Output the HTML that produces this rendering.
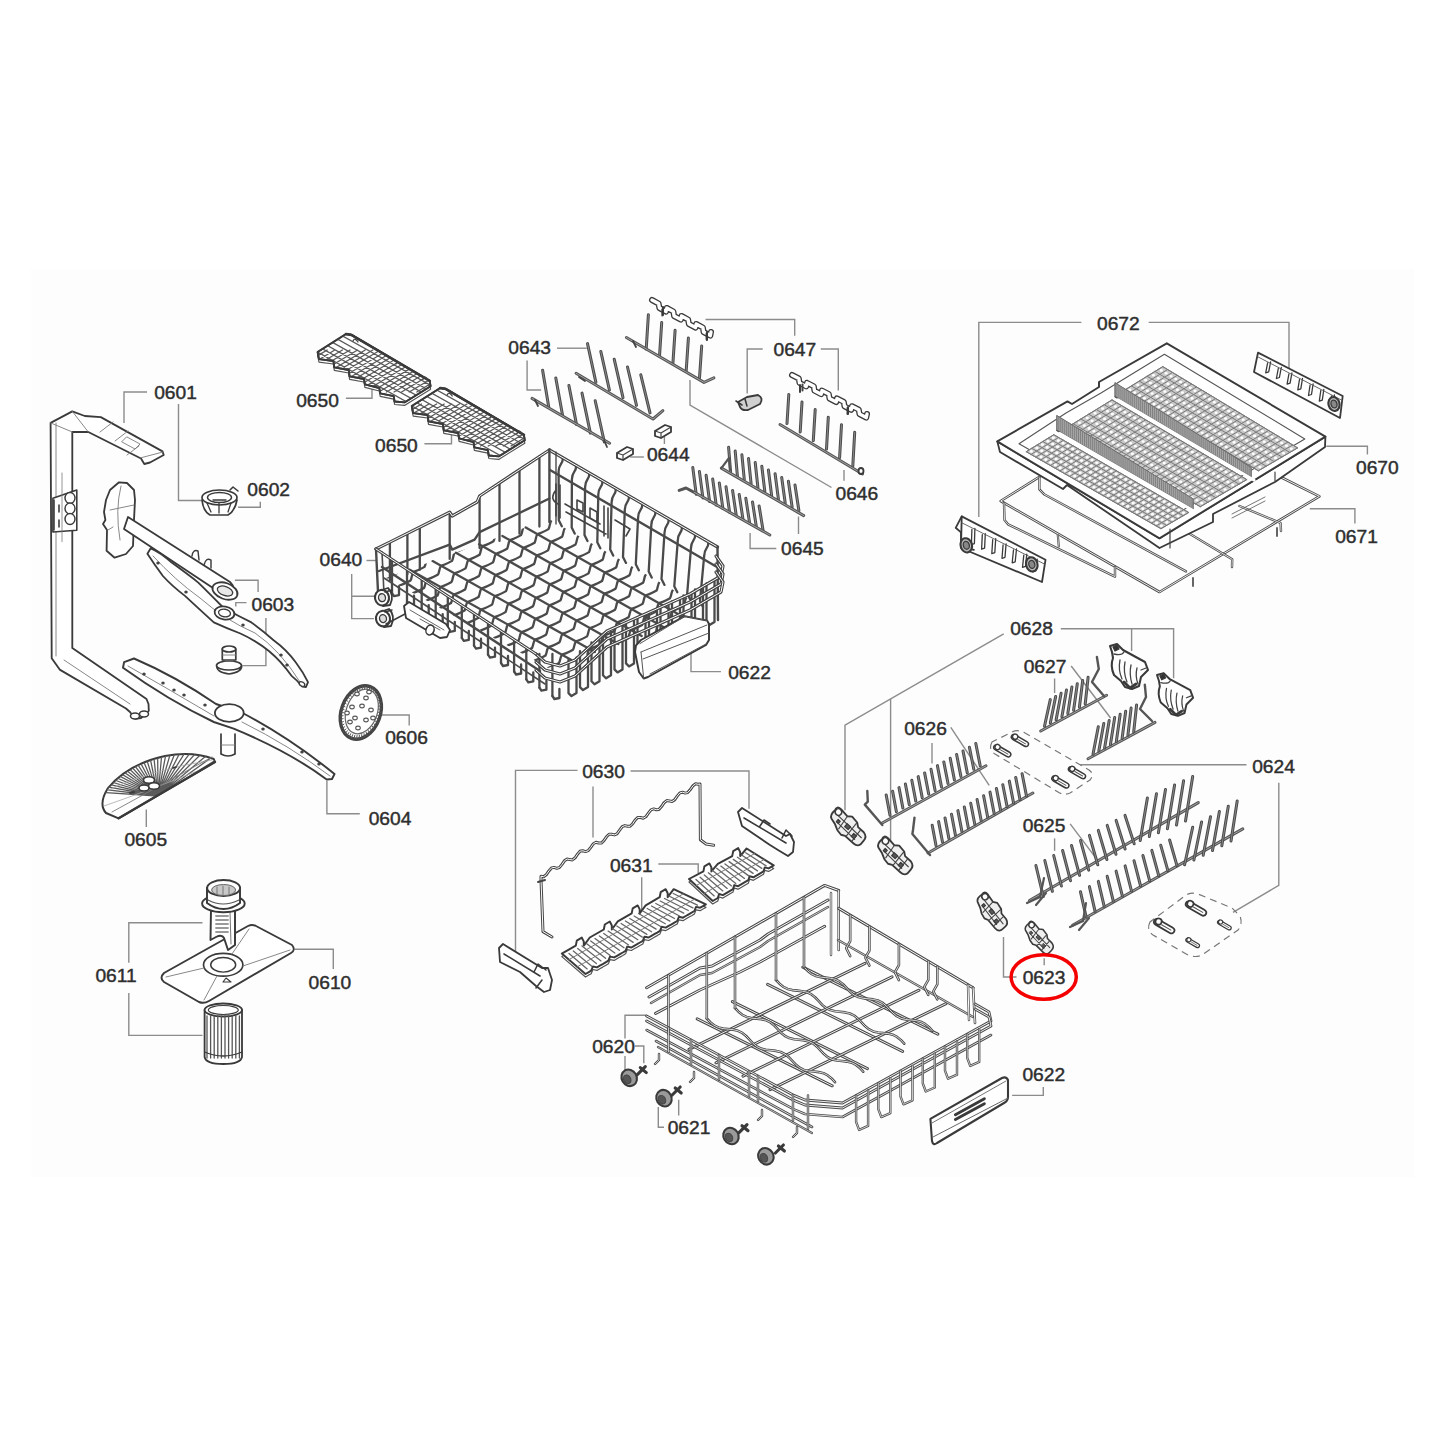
<!DOCTYPE html>
<html><head><meta charset="utf-8"><style>
html,body{margin:0;padding:0;background:#fff;width:1445px;height:1445px;overflow:hidden}
svg{display:block}
.l{font-family:"Liberation Sans",sans-serif;font-size:19.2px;fill:#2e2e2e;stroke:#2e2e2e;stroke-width:0.45px}
</style></head><body>
<svg width="1445" height="1445" viewBox="0 0 1445 1445">
<rect x="31" y="269" width="1383" height="908" fill="#fdfdfd"/>
<polyline points="147,392 124,392 124,423" fill="none" stroke="#8c8c8c" stroke-width="1.4" stroke-linejoin="miter" stroke-linecap="butt"/>
<polyline points="178.5,404 178.5,500.5 203,500.5" fill="none" stroke="#8c8c8c" stroke-width="1.4" stroke-linejoin="miter" stroke-linecap="butt"/>
<polyline points="238.1,507.3 260.3,507.3 260.3,501.8" fill="none" stroke="#8c8c8c" stroke-width="1.4" stroke-linejoin="miter" stroke-linecap="butt"/>
<polyline points="234.9,580.3 258.1,580.3 258.1,592" fill="none" stroke="#8c8c8c" stroke-width="1.4" stroke-linejoin="miter" stroke-linecap="butt"/>
<polyline points="246.5,602.6 235.8,602.6 235.8,606.5" fill="none" stroke="#8c8c8c" stroke-width="1.4" stroke-linejoin="miter" stroke-linecap="butt"/>
<polyline points="265.9,618 265.9,665.6 242.6,665.6" fill="none" stroke="#8c8c8c" stroke-width="1.4" stroke-linejoin="miter" stroke-linecap="butt"/>
<polyline points="326.9,780.8 326.9,813.8 359.8,813.8" fill="none" stroke="#8c8c8c" stroke-width="1.4" stroke-linejoin="miter" stroke-linecap="butt"/>
<polyline points="146.3,809.4 146.3,827.1" fill="none" stroke="#8c8c8c" stroke-width="1.4" stroke-linejoin="miter" stroke-linecap="butt"/>
<polyline points="380.1,715 409.2,715 409.2,725.6" fill="none" stroke="#8c8c8c" stroke-width="1.4" stroke-linejoin="miter" stroke-linecap="butt"/>
<polyline points="202.5,922.7 128.8,922.7 128.8,962.8" fill="none" stroke="#8c8c8c" stroke-width="1.4" stroke-linejoin="miter" stroke-linecap="butt"/>
<polyline points="128.8,992.9 128.8,1035.4 202.5,1035.4" fill="none" stroke="#8c8c8c" stroke-width="1.4" stroke-linejoin="miter" stroke-linecap="butt"/>
<polyline points="294.9,949.3 333.3,949.3 333.3,969" fill="none" stroke="#8c8c8c" stroke-width="1.4" stroke-linejoin="miter" stroke-linecap="butt"/>
<polyline points="345.9,398.2 372,398.2 372,388.5" fill="none" stroke="#8c8c8c" stroke-width="1.4" stroke-linejoin="miter" stroke-linecap="butt"/>
<polyline points="424.4,443.7 451.5,443.7 451.5,433" fill="none" stroke="#8c8c8c" stroke-width="1.4" stroke-linejoin="miter" stroke-linecap="butt"/>
<polyline points="557,348.2 586.8,348.2" fill="none" stroke="#8c8c8c" stroke-width="1.4" stroke-linejoin="miter" stroke-linecap="butt"/>
<polyline points="527.1,360.4 527.1,390 541.1,390" fill="none" stroke="#8c8c8c" stroke-width="1.4" stroke-linejoin="miter" stroke-linecap="butt"/>
<polyline points="630.2,457 643.9,457" fill="none" stroke="#8c8c8c" stroke-width="1.4" stroke-linejoin="miter" stroke-linecap="butt"/>
<polyline points="664.4,435 664.4,444" fill="none" stroke="#8c8c8c" stroke-width="1.4" stroke-linejoin="miter" stroke-linecap="butt"/>
<polyline points="705.5,319.5 794.7,319.5 794.7,335.8" fill="none" stroke="#8c8c8c" stroke-width="1.4" stroke-linejoin="miter" stroke-linecap="butt"/>
<polyline points="762.7,349 747.2,349 747.2,393.5" fill="none" stroke="#8c8c8c" stroke-width="1.4" stroke-linejoin="miter" stroke-linecap="butt"/>
<polyline points="820.8,349 838.3,349 838.3,390.6" fill="none" stroke="#8c8c8c" stroke-width="1.4" stroke-linejoin="miter" stroke-linecap="butt"/>
<polyline points="690,380 690,405 831.5,487.5" fill="none" stroke="#8c8c8c" stroke-width="1.4" stroke-linejoin="miter" stroke-linecap="butt"/>
<polyline points="844,470 844,480.7" fill="none" stroke="#8c8c8c" stroke-width="1.4" stroke-linejoin="miter" stroke-linecap="butt"/>
<polyline points="776.3,548.5 750.1,548.5 750.1,533" fill="none" stroke="#8c8c8c" stroke-width="1.4" stroke-linejoin="miter" stroke-linecap="butt"/>
<polyline points="798.5,516.5 798.5,534" fill="none" stroke="#8c8c8c" stroke-width="1.4" stroke-linejoin="miter" stroke-linecap="butt"/>
<polyline points="366.5,560.5 377,560.5" fill="none" stroke="#8c8c8c" stroke-width="1.4" stroke-linejoin="miter" stroke-linecap="butt"/>
<polyline points="374,596.3 351.7,596.3 351.7,574" fill="none" stroke="#8c8c8c" stroke-width="1.4" stroke-linejoin="miter" stroke-linecap="butt"/>
<polyline points="351.7,596.3 351.7,618.6 374,618.6" fill="none" stroke="#8c8c8c" stroke-width="1.4" stroke-linejoin="miter" stroke-linecap="butt"/>
<polyline points="720.9,671.6 691,671.6 691,653.6" fill="none" stroke="#8c8c8c" stroke-width="1.4" stroke-linejoin="miter" stroke-linecap="butt"/>
<polyline points="1081.4,322.4 978.8,322.4 978.8,517" fill="none" stroke="#8c8c8c" stroke-width="1.4" stroke-linejoin="miter" stroke-linecap="butt"/>
<polyline points="1148.7,322.4 1289,322.4 1289,369" fill="none" stroke="#8c8c8c" stroke-width="1.4" stroke-linejoin="miter" stroke-linecap="butt"/>
<polyline points="1326.3,446.3 1367.4,446.3 1367.4,454.5" fill="none" stroke="#8c8c8c" stroke-width="1.4" stroke-linejoin="miter" stroke-linecap="butt"/>
<polyline points="1309.8,508.7 1354.9,508.7 1354.9,523.5" fill="none" stroke="#8c8c8c" stroke-width="1.4" stroke-linejoin="miter" stroke-linecap="butt"/>
<polyline points="1003.7,633.9 845,725.2 845,810.3" fill="none" stroke="#8c8c8c" stroke-width="1.4" stroke-linejoin="miter" stroke-linecap="butt"/>
<polyline points="890.6,699 890.6,842.5" fill="none" stroke="#8c8c8c" stroke-width="1.4" stroke-linejoin="miter" stroke-linecap="butt"/>
<polyline points="1060.8,628.7 1173.6,628.7 1173.6,678.2" fill="none" stroke="#8c8c8c" stroke-width="1.4" stroke-linejoin="miter" stroke-linecap="butt"/>
<polyline points="1131.6,628.7 1131.6,651" fill="none" stroke="#8c8c8c" stroke-width="1.4" stroke-linejoin="miter" stroke-linecap="butt"/>
<polyline points="1054.6,678.5 1054.6,693" fill="none" stroke="#8c8c8c" stroke-width="1.4" stroke-linejoin="miter" stroke-linecap="butt"/>
<polyline points="1071.2,666 1110.6,718" fill="none" stroke="#8c8c8c" stroke-width="1.4" stroke-linejoin="miter" stroke-linecap="butt"/>
<polyline points="932,742.9 932,763.6" fill="none" stroke="#8c8c8c" stroke-width="1.4" stroke-linejoin="miter" stroke-linecap="butt"/>
<polyline points="950.8,727.3 989.2,785.4" fill="none" stroke="#8c8c8c" stroke-width="1.4" stroke-linejoin="miter" stroke-linecap="butt"/>
<polyline points="1246.5,764.7 1080.2,764.7" fill="none" stroke="#8c8c8c" stroke-width="1.4" stroke-linejoin="miter" stroke-linecap="butt"/>
<polyline points="1278.8,782.8 1278.8,885.3 1233,912.4" fill="none" stroke="#8c8c8c" stroke-width="1.4" stroke-linejoin="miter" stroke-linecap="butt"/>
<polyline points="1054.6,838.4 1054.6,850.8" fill="none" stroke="#8c8c8c" stroke-width="1.4" stroke-linejoin="miter" stroke-linecap="butt"/>
<polyline points="1070.2,823.8 1098.2,861.2" fill="none" stroke="#8c8c8c" stroke-width="1.4" stroke-linejoin="miter" stroke-linecap="butt"/>
<polyline points="577.5,770.4 515.5,770.4 515.5,951.5" fill="none" stroke="#8c8c8c" stroke-width="1.4" stroke-linejoin="miter" stroke-linecap="butt"/>
<polyline points="630.6,771 749,771 749,808.7" fill="none" stroke="#8c8c8c" stroke-width="1.4" stroke-linejoin="miter" stroke-linecap="butt"/>
<polyline points="593,786.5 593,837.5" fill="none" stroke="#8c8c8c" stroke-width="1.4" stroke-linejoin="miter" stroke-linecap="butt"/>
<polyline points="658.3,864 698.2,864 698.2,873" fill="none" stroke="#8c8c8c" stroke-width="1.4" stroke-linejoin="miter" stroke-linecap="butt"/>
<polyline points="641.7,877.3 641.7,911.6" fill="none" stroke="#8c8c8c" stroke-width="1.4" stroke-linejoin="miter" stroke-linecap="butt"/>
<polyline points="1003.5,937 1003.5,977 1016.5,977" fill="none" stroke="#8c8c8c" stroke-width="1.4" stroke-linejoin="miter" stroke-linecap="butt"/>
<polyline points="1044.2,958.2 1044.2,965.3" fill="none" stroke="#8c8c8c" stroke-width="1.4" stroke-linejoin="miter" stroke-linecap="butt"/>
<polyline points="646.7,1015.3 625,1015.3 625,1038.6" fill="none" stroke="#8c8c8c" stroke-width="1.4" stroke-linejoin="miter" stroke-linecap="butt"/>
<polyline points="635,1046 643.8,1046 643.8,1063.3" fill="none" stroke="#8c8c8c" stroke-width="1.4" stroke-linejoin="miter" stroke-linecap="butt"/>
<polyline points="625,1056 625,1070.6" fill="none" stroke="#8c8c8c" stroke-width="1.4" stroke-linejoin="miter" stroke-linecap="butt"/>
<polyline points="664,1127.3 658.3,1127.3 658.3,1107" fill="none" stroke="#8c8c8c" stroke-width="1.4" stroke-linejoin="miter" stroke-linecap="butt"/>
<polyline points="678.7,1099.7 678.7,1115.6" fill="none" stroke="#8c8c8c" stroke-width="1.4" stroke-linejoin="miter" stroke-linecap="butt"/>
<polyline points="1012.1,1095.4 1043.3,1095.4 1043.3,1087" fill="none" stroke="#8c8c8c" stroke-width="1.4" stroke-linejoin="miter" stroke-linecap="butt"/>
<path d="M50.6,422.9 L72.3,411.4 L84.8,416 L100.8,417.1 L162.5,451.4 L163.7,455 L150,462.5 L144.3,464 L141,458.5 L88.3,432 L72.3,432 L72.3,648 L146.5,699 L148.5,704 L148.8,710.8 L141,718 L135.1,718.8 L130,712 L126,708.5 L59.7,669.6 L51.7,658.2 Z" fill="#fff" stroke="#3a3a3a" stroke-width="1.8199999999999998" stroke-linejoin="round" stroke-linecap="round" />
<path d="M50.6,422.9 L72.3,432 M72.3,411.4 L88.3,432 M56,423 L56,656 M64,660 L130,704 M140,458 L163,452" fill="none" stroke="#7a7a7a" stroke-width="0.9" stroke-linejoin="round" stroke-linecap="round" />
<path d="M113,422 L100,432 M128,431 L115,441 M139,446 L127,455" fill="none" stroke="#7a7a7a" stroke-width="0.9" stroke-linejoin="round" stroke-linecap="round" />
<path d="M127,437 L140,444 L135,449 L122,442 Z" fill="none" stroke="#7a7a7a" stroke-width="0.9" stroke-linejoin="round" stroke-linecap="round" />
<path d="M52.9,498.3 L76.8,490 L76.8,530.3 L52.9,532 Z" fill="#fff" stroke="#3a3a3a" stroke-width="1.56" stroke-linejoin="round" stroke-linecap="round" />
<ellipse cx="70" cy="498" rx="5" ry="5.5" transform="rotate(0 70 498)" fill="#fff" stroke="#3a3a3a" stroke-width="1.4300000000000002" />
<ellipse cx="70" cy="508.5" rx="5" ry="5.5" transform="rotate(0 70 508.5)" fill="#fff" stroke="#3a3a3a" stroke-width="1.4300000000000002" />
<ellipse cx="70" cy="519" rx="5" ry="5.5" transform="rotate(0 70 519)" fill="#fff" stroke="#3a3a3a" stroke-width="1.4300000000000002" />
<path d="M54,500 L54,530 M59,505 L59,512 M59,520 L59,527" fill="none" stroke="#3a3a3a" stroke-width="1.56" stroke-linejoin="round" stroke-linecap="round" />
<path d="M62,473 L62,541.7" fill="none" stroke="#7a7a7a" stroke-width="0.8" stroke-linejoin="round" stroke-linecap="round" />
<ellipse cx="135" cy="716" rx="4.5" ry="3" transform="rotate(0 135 716)" fill="#fff" stroke="#3a3a3a" stroke-width="1.56" />
<ellipse cx="144" cy="714" rx="4.5" ry="3" transform="rotate(0 144 714)" fill="#fff" stroke="#3a3a3a" stroke-width="1.56" />
<path d="M202,500 Q203,511 210,515 L228,515 Q235,511 237,500" fill="#fff" stroke="#3a3a3a" stroke-width="1.6900000000000002" stroke-linejoin="round" stroke-linecap="round" />
<ellipse cx="219.5" cy="497.5" rx="17.5" ry="7.5" transform="rotate(0 219.5 497.5)" fill="#fff" stroke="#3a3a3a" stroke-width="1.6900000000000002" />
<ellipse cx="219.5" cy="497.5" rx="12" ry="5" transform="rotate(0 219.5 497.5)" fill="#fff" stroke="#3a3a3a" stroke-width="1.4300000000000002" />
<path d="M207,503 L211,512 M219,503 L219,513 M231,503 L228,512 M213,500 L226,500" fill="none" stroke="#3a3a3a" stroke-width="1.3" stroke-linejoin="round" stroke-linecap="round" />
<path d="M230,490 L233,487 L238,491" fill="none" stroke="#3a3a3a" stroke-width="1.56" stroke-linejoin="round" stroke-linecap="round" />
<path d="M105.4,520 L104,512 L106,500 L110,490 L119,482.3 L127,483 L134,490 L135,500 L134,520 L133,546 L126,554 L114.6,557.7 L106.6,550.8 L107,530 L103,524 Z" fill="#fff" stroke="#3a3a3a" stroke-width="1.8199999999999998" stroke-linejoin="round" stroke-linecap="round" />
<path d="M128,517 L230,582 Q236,588 231,593 Q226,597 219,592 L124,529 Z" fill="#fff" stroke="#3a3a3a" stroke-width="1.8199999999999998" stroke-linejoin="round" stroke-linecap="round" />
<ellipse cx="225" cy="591" rx="13" ry="8" transform="rotate(20 225 591)" fill="#fff" stroke="#3a3a3a" stroke-width="1.8199999999999998" />
<ellipse cx="225" cy="591" rx="8" ry="4.5" transform="rotate(20 225 591)" fill="#e8e8e8" stroke="#3a3a3a" stroke-width="1.3" />
<path d="M110,510 L134,505 M108,530 L113,527 M121,486 Q115,510 120,540" fill="none" stroke="#7a7a7a" stroke-width="0.9" stroke-linejoin="round" stroke-linecap="round" />
<path d="M192,556 Q193,549 198,551 L199,560 M204,565 Q206,557 211,560 L211,568" fill="none" stroke="#3a3a3a" stroke-width="1.4300000000000002" stroke-linejoin="round" stroke-linecap="round" />
<path d="M147.4,553.8 L150.7,548.3 Q160,552 171.7,562.6 Q190,576 198.3,582.6 Q212,596 222.6,607 Q238,616 251.4,622.4 Q262,630 273.6,640.2 Q287,650 295.7,662.3 Q303,672 308,682.2 L306,687 L302.4,686.7 Q297,680 291.3,675.6 Q282,662 269.2,651.2 Q255,640 240.4,633.5 Q226,628 213.8,622.4 Q198,608 185,595.9 Q172,586 162.9,576 Q154,564 147.4,553.8 Z" fill="#fff" stroke="#3a3a3a" stroke-width="1.8199999999999998" stroke-linejoin="round" stroke-linecap="round" />
<path d="M153,556 Q175,580 200,598 Q225,620 255,633 Q280,650 300,682" fill="none" stroke="#7a7a7a" stroke-width="0.9" stroke-linejoin="round" stroke-linecap="round" />
<ellipse cx="224.5" cy="613" rx="10" ry="6.5" transform="rotate(10 224.5 613)" fill="#fff" stroke="#3a3a3a" stroke-width="1.8199999999999998" />
<ellipse cx="224.5" cy="613" rx="6" ry="3.8" transform="rotate(10 224.5 613)" fill="#fff" stroke="#3a3a3a" stroke-width="1.3" />
<ellipse cx="158" cy="563" rx="1.2" ry="1" transform="rotate(0 158 563)" fill="#555" stroke="#3a3a3a" stroke-width="1.04" />
<ellipse cx="186" cy="592" rx="1.2" ry="1" transform="rotate(0 186 592)" fill="#555" stroke="#3a3a3a" stroke-width="1.04" />
<ellipse cx="243" cy="625" rx="1.2" ry="1" transform="rotate(0 243 625)" fill="#555" stroke="#3a3a3a" stroke-width="1.04" />
<ellipse cx="281" cy="655" rx="1.2" ry="1" transform="rotate(0 281 655)" fill="#555" stroke="#3a3a3a" stroke-width="1.04" />
<ellipse cx="287" cy="665" rx="1.2" ry="1" transform="rotate(0 287 665)" fill="#555" stroke="#3a3a3a" stroke-width="1.04" />
<ellipse cx="302" cy="684" rx="3" ry="2" transform="rotate(30 302 684)" fill="#fff" stroke="#3a3a3a" stroke-width="1.3" />
<path d="M222.3,649 L222.3,660 L235.8,660 L235.8,649" fill="#fff" stroke="#3a3a3a" stroke-width="1.6900000000000002" stroke-linejoin="round" stroke-linecap="round" />
<ellipse cx="229" cy="649" rx="6.8" ry="3" transform="rotate(0 229 649)" fill="#fff" stroke="#3a3a3a" stroke-width="1.6900000000000002" />
<path d="M217,666 Q216,672 229,674 Q242,672 241.6,666" fill="#fff" stroke="#3a3a3a" stroke-width="1.6900000000000002" stroke-linejoin="round" stroke-linecap="round" />
<ellipse cx="229" cy="665.5" rx="12.5" ry="4.5" transform="rotate(0 229 665.5)" fill="#fff" stroke="#3a3a3a" stroke-width="1.6900000000000002" />
<path d="M222,655 L236,655 M225,661 L233,661" fill="none" stroke="#7a7a7a" stroke-width="0.9" stroke-linejoin="round" stroke-linecap="round" />
<path d="M124.1,662.1 L134,658.5 Q175,676 216,704 L242.6,713 Q290,738 334.5,774 L332,779 L326.7,779.5 Q290,752 233.7,728.6 L213.8,722 Q168,700 123,667.7 Z" fill="#fff" stroke="#3a3a3a" stroke-width="1.9500000000000002" stroke-linejoin="round" stroke-linecap="round" />
<path d="M128,666 Q170,690 214,716 M242,722 Q290,746 330,776" fill="none" stroke="#7a7a7a" stroke-width="0.9" stroke-linejoin="round" stroke-linecap="round" />
<path d="M221,734 L221,754 Q228,758 235,754 L235,734" fill="#fff" stroke="#3a3a3a" stroke-width="1.6900000000000002" stroke-linejoin="round" stroke-linecap="round" />
<path d="M221,745 L235,745" fill="none" stroke="#7a7a7a" stroke-width="0.9" stroke-linejoin="round" stroke-linecap="round" />
<ellipse cx="229.3" cy="713" rx="14.4" ry="8.9" transform="rotate(0 229.3 713)" fill="#fff" stroke="#3a3a3a" stroke-width="1.8199999999999998" />
<ellipse cx="144" cy="674" rx="1.2" ry="1" transform="rotate(0 144 674)" fill="#555" stroke="#3a3a3a" stroke-width="1.04" />
<ellipse cx="163" cy="683" rx="1.2" ry="1" transform="rotate(0 163 683)" fill="#555" stroke="#3a3a3a" stroke-width="1.04" />
<ellipse cx="174" cy="690" rx="1.2" ry="1" transform="rotate(0 174 690)" fill="#555" stroke="#3a3a3a" stroke-width="1.04" />
<ellipse cx="184" cy="695" rx="1.2" ry="1" transform="rotate(0 184 695)" fill="#555" stroke="#3a3a3a" stroke-width="1.04" />
<ellipse cx="205" cy="705" rx="1.2" ry="1" transform="rotate(0 205 705)" fill="#555" stroke="#3a3a3a" stroke-width="1.04" />
<ellipse cx="263" cy="729" rx="1.2" ry="1" transform="rotate(0 263 729)" fill="#555" stroke="#3a3a3a" stroke-width="1.04" />
<ellipse cx="302" cy="752" rx="1.2" ry="1" transform="rotate(0 302 752)" fill="#555" stroke="#3a3a3a" stroke-width="1.04" />
<ellipse cx="319" cy="764" rx="1.2" ry="1" transform="rotate(0 319 764)" fill="#555" stroke="#3a3a3a" stroke-width="1.04" />
<clipPath id="c605"><path d="M118.6,818.3 L106,813 Q98,804 108,788 Q128,764 165,756 Q192,751 213.8,759 L215,762 Z"/></clipPath>
<path d="M118.6,818.3 L106,813 Q98,804 108,788 Q128,764 165,756 Q192,751 213.8,759 L215,762 Z" fill="#fff" stroke="#3a3a3a" stroke-width="1.9500000000000002" stroke-linejoin="round" stroke-linecap="round" />
<path d="M158,796 L78.3,790.8 M158,796 L79,786.4 M158,796 L80.2,782 M158,796 L81.8,777.8 M158,796 L83.8,773.6 M158,796 L86.2,769.6 M158,796 L89,765.7 M158,796 L92.2,761.9 M158,796 L95.7,758.4 M158,796 L99.6,755 M158,796 L103.8,751.9 M158,796 L108.2,749 M158,796 L113,746.4 M158,796 L118,744 M158,796 L123.2,742 M158,796 L128.6,740.2 M158,796 L134.2,738.7 M158,796 L139.9,737.6 M158,796 L145.7,736.7 M158,796 L151.6,736.2 M158,796 L157.5,736 M158,796 L163.4,736.1 M158,796 L169.2,736.6 M158,796 L175.1,737.4 M158,796 L180.8,738.5 M158,796 L186.4,739.9 M158,796 L191.8,741.6 M158,796 L197.1,743.6 M158,796 L202.1,745.9 M158,796 L206.9,748.5 M158,796 L211.5,751.4 M158,796 L215.7,754.4 M158,796 L219.6,757.7 M158,796 L223.2,761.3 M158,796 L226.5,765 M158,796 L229.3,768.8 M158,796 L231.8,772.9 M158,796 L233.9,777 M158,796 L235.5,781.3 M158,796 L236.8,785.6" fill="none" stroke="#5a5a5a" stroke-width="1.3" stroke-linejoin="round" stroke-linecap="round" clip-path="url(#c605)"/>
<path d="M108,790 Q150,770 212,760 M104,806 Q150,790 200,770" fill="none" stroke="#aaa" stroke-width="0.8" stroke-linejoin="round" stroke-linecap="round" clip-path="url(#c605)"/>
<path d="M118.6,818.3 L215,762" fill="none" stroke="#3a3a3a" stroke-width="2.3400000000000003" stroke-linejoin="round" stroke-linecap="round" />
<path d="M112,812 L212,757" fill="none" stroke="#7a7a7a" stroke-width="0.9" stroke-linejoin="round" stroke-linecap="round" />
<ellipse cx="149" cy="780" rx="5.5" ry="3.3" transform="rotate(0 149 780)" fill="#fff" stroke="#3a3a3a" stroke-width="1.56" />
<ellipse cx="154" cy="786" rx="5.5" ry="3.3" transform="rotate(0 154 786)" fill="#fff" stroke="#3a3a3a" stroke-width="1.56" />
<ellipse cx="144" cy="788" rx="5" ry="3" transform="rotate(0 144 788)" fill="#fff" stroke="#3a3a3a" stroke-width="1.56" />
<path d="M130,793 L134,792 M173,768 L176,767" fill="none" stroke="#3a3a3a" stroke-width="1.8199999999999998" stroke-linejoin="round" stroke-linecap="round" />
<ellipse cx="360.8" cy="712.5" rx="19.5" ry="27.5" transform="rotate(20 360.8 712.5)" fill="#fff" stroke="#444" stroke-width="3.4" />
<path d="M379.1,719.2 L376.6,718.2 M377.7,722.5 L375.4,721.1 M376.1,725.6 L373.9,723.8 M374.1,728.6 L372.3,726.3 M372,731.2 L370.4,728.6 M369.6,733.5 L368.4,730.6 M367.1,735.5 L366.2,732.3 M364.5,737.1 L364,733.6 M361.8,738.2 L361.7,734.6 M359.1,738.9 L359.4,735.2 M356.5,739.2 L357.1,735.5 M353.9,739 L354.8,735.3 M351.4,738.3 L352.7,734.7 M349.1,737.2 L350.7,733.8 M347,735.7 L348.9,732.5 M345.1,733.8 L347.3,730.8 M343.5,731.5 L345.9,728.9 M342.2,728.9 L344.8,726.6 M341.2,726.1 L343.9,724.2 M340.5,722.9 L343.4,721.5 M340.2,719.6 L343.1,718.6 M340.3,716.2 L343.1,715.7 M340.7,712.7 L343.5,712.7 M341.4,709.3 L344.1,709.7 M342.5,705.8 L345,706.8 M343.9,702.5 L346.2,703.9 M345.5,699.4 L347.7,701.2 M347.5,696.4 L349.3,698.7 M349.6,693.8 L351.2,696.4 M352,691.5 L353.2,694.4 M354.5,689.5 L355.4,692.7 M357.1,687.9 L357.6,691.4 M359.8,686.8 L359.9,690.4 M362.5,686.1 L362.2,689.8 M365.1,685.8 L364.5,689.5 M367.7,686 L366.8,689.7 M370.2,686.7 L368.9,690.3 M372.5,687.8 L370.9,691.2 M374.6,689.3 L372.7,692.5 M376.5,691.2 L374.3,694.2 M378.1,693.5 L375.7,696.1 M379.4,696.1 L376.8,698.4 M380.4,698.9 L377.7,700.8 M381.1,702.1 L378.2,703.5 M381.4,705.4 L378.5,706.4 M381.3,708.8 L378.5,709.3 M380.9,712.3 L378.1,712.3 M380.2,715.7 L377.5,715.3" fill="none" stroke="#555" stroke-width="1.0" stroke-linejoin="round" stroke-linecap="round" />
<ellipse cx="361.8" cy="711.5" rx="15.5" ry="23" transform="rotate(20 361.8 711.5)" fill="#fff" stroke="#666" stroke-width="1.2" />
<ellipse cx="357" cy="694" rx="2.3" ry="1.9" transform="rotate(0 357 694)" fill="#fff" stroke="#555" stroke-width="1.1" />
<ellipse cx="366" cy="698" rx="2.3" ry="1.9" transform="rotate(0 366 698)" fill="#fff" stroke="#555" stroke-width="1.1" />
<ellipse cx="352" cy="707" rx="2.3" ry="1.9" transform="rotate(0 352 707)" fill="#fff" stroke="#555" stroke-width="1.1" />
<ellipse cx="362" cy="706" rx="2.3" ry="1.9" transform="rotate(0 362 706)" fill="#fff" stroke="#555" stroke-width="1.1" />
<ellipse cx="371" cy="710" rx="2.3" ry="1.9" transform="rotate(0 371 710)" fill="#fff" stroke="#555" stroke-width="1.1" />
<ellipse cx="355" cy="718" rx="2.3" ry="1.9" transform="rotate(0 355 718)" fill="#fff" stroke="#555" stroke-width="1.1" />
<ellipse cx="366" cy="720" rx="2.3" ry="1.9" transform="rotate(0 366 720)" fill="#fff" stroke="#555" stroke-width="1.1" />
<ellipse cx="358" cy="728" rx="2.3" ry="1.9" transform="rotate(0 358 728)" fill="#fff" stroke="#555" stroke-width="1.1" />
<ellipse cx="350" cy="722" rx="2.3" ry="1.9" transform="rotate(0 350 722)" fill="#fff" stroke="#555" stroke-width="1.1" />
<ellipse cx="369" cy="692" rx="2.3" ry="1.9" transform="rotate(0 369 692)" fill="#fff" stroke="#555" stroke-width="1.1" />
<ellipse cx="347" cy="713" rx="2.3" ry="1.9" transform="rotate(0 347 713)" fill="#fff" stroke="#555" stroke-width="1.1" />
<ellipse cx="373" cy="718" rx="2.3" ry="1.9" transform="rotate(0 373 718)" fill="#fff" stroke="#555" stroke-width="1.1" />
<path d="M164,973 L248,926 Q252,924 256,926 L292,945 Q296,950 291,953 L209,1001 Q204,1004 199,1002 L164,982 Q159,978 164,973 Z" fill="#fff" stroke="#3a3a3a" stroke-width="1.9500000000000002" stroke-linejoin="round" stroke-linecap="round" />
<ellipse cx="223.2" cy="964.8" rx="19.7" ry="11.4" transform="rotate(0 223.2 964.8)" fill="#fff" stroke="#3a3a3a" stroke-width="1.6900000000000002" />
<ellipse cx="223.2" cy="964.8" rx="12.5" ry="7.3" transform="rotate(0 223.2 964.8)" fill="#fff" stroke="#3a3a3a" stroke-width="1.4300000000000002" />
<path d="M166,977 L204,968 M249,929 L232,954 M290,950 L243,966 M204,1000 L217,976" fill="none" stroke="#7a7a7a" stroke-width="0.9" stroke-linejoin="round" stroke-linecap="round" />
<path d="M226,978 L231,982 L223,982 Z" fill="none" stroke="#3a3a3a" stroke-width="1.1700000000000002" stroke-linejoin="round" stroke-linecap="round" />
<path d="M211,909 L210.5,940 L216,937 Q222,934 224,938 L228,950 L235,945 L235,909 Z" fill="#fff" stroke="#3a3a3a" stroke-width="1.9500000000000002" stroke-linejoin="round" stroke-linecap="round" />
<polyline points="216,916 228,916" fill="none" stroke="#9a9a9a" stroke-width="1.8" stroke-linejoin="round" stroke-linecap="round" />
<polyline points="216,920 228,920" fill="none" stroke="#9a9a9a" stroke-width="1.8" stroke-linejoin="round" stroke-linecap="round" />
<polyline points="216,924 228,924" fill="none" stroke="#9a9a9a" stroke-width="1.8" stroke-linejoin="round" stroke-linecap="round" />
<polyline points="216,928 228,928" fill="none" stroke="#9a9a9a" stroke-width="1.8" stroke-linejoin="round" stroke-linecap="round" />
<polyline points="216,932 228,932" fill="none" stroke="#9a9a9a" stroke-width="1.8" stroke-linejoin="round" stroke-linecap="round" />
<path d="M230,912 L231,944" fill="none" stroke="#777" stroke-width="1.0" stroke-linejoin="round" stroke-linecap="round" />
<ellipse cx="223.4" cy="903.5" rx="21.3" ry="8.8" transform="rotate(0 223.4 903.5)" fill="#fff" stroke="#3a3a3a" stroke-width="1.9500000000000002" />
<path d="M207,888 L207,903 Q215,909 223.6,909 Q232,909 240,903 L240,888" fill="#fff" stroke="#3a3a3a" stroke-width="1.9500000000000002" stroke-linejoin="round" stroke-linecap="round" />
<ellipse cx="223.6" cy="888" rx="16.5" ry="8" transform="rotate(0 223.6 888)" fill="#fff" stroke="#3a3a3a" stroke-width="1.9500000000000002" />
<ellipse cx="223.6" cy="890" rx="12" ry="5.5" transform="rotate(0 223.6 890)" fill="#c8c8c8" stroke="#666" stroke-width="1.0" />
<path d="M217,887 L217,894 M223,886 L223,895 M229,887 L229,894" fill="none" stroke="#777" stroke-width="1.0" stroke-linejoin="round" stroke-linecap="round" />
<path d="M208,900 Q223,908 239,900" fill="none" stroke="#555" stroke-width="1.2" stroke-linejoin="round" stroke-linecap="round" />
<path d="M204.6,1010 L204.6,1057 Q206,1064 223.3,1064 Q240.5,1064 242,1057 L242,1010" fill="#fff" stroke="#3a3a3a" stroke-width="1.8199999999999998" stroke-linejoin="round" stroke-linecap="round" />
<ellipse cx="223.3" cy="1010" rx="18.7" ry="6.5" transform="rotate(0 223.3 1010)" fill="#fff" stroke="#3a3a3a" stroke-width="1.8199999999999998" />
<ellipse cx="223.3" cy="1010" rx="15" ry="4.5" transform="rotate(0 223.3 1010)" fill="#fff" stroke="#3a3a3a" stroke-width="1.1700000000000002" />
<polyline points="207,1016 207,1058" fill="none" stroke="#555" stroke-width="1.3" stroke-linejoin="round" stroke-linecap="round" />
<polyline points="210.6,1016 210.6,1058" fill="none" stroke="#555" stroke-width="1.3" stroke-linejoin="round" stroke-linecap="round" />
<polyline points="214.2,1016 214.2,1058" fill="none" stroke="#555" stroke-width="1.3" stroke-linejoin="round" stroke-linecap="round" />
<polyline points="217.8,1016 217.8,1058" fill="none" stroke="#555" stroke-width="1.3" stroke-linejoin="round" stroke-linecap="round" />
<polyline points="221.4,1016 221.4,1058" fill="none" stroke="#555" stroke-width="1.3" stroke-linejoin="round" stroke-linecap="round" />
<polyline points="225,1016 225,1058" fill="none" stroke="#555" stroke-width="1.3" stroke-linejoin="round" stroke-linecap="round" />
<polyline points="228.6,1016 228.6,1058" fill="none" stroke="#555" stroke-width="1.3" stroke-linejoin="round" stroke-linecap="round" />
<polyline points="232.2,1016 232.2,1058" fill="none" stroke="#555" stroke-width="1.3" stroke-linejoin="round" stroke-linecap="round" />
<polyline points="235.8,1016 235.8,1058" fill="none" stroke="#555" stroke-width="1.3" stroke-linejoin="round" stroke-linecap="round" />
<polyline points="239.4,1016 239.4,1058" fill="none" stroke="#555" stroke-width="1.3" stroke-linejoin="round" stroke-linecap="round" />
<path d="M204.6,1052 Q223,1060 242,1052" fill="none" stroke="#3a3a3a" stroke-width="1.3" stroke-linejoin="round" stroke-linecap="round" />
<polygon points="317.6,355 346,337 351.4,337.9 429.7,383.8 430.6,389.2 404.5,405.4 394.6,404.5 393.7,399.1 380.2,396.4 379.3,391 364.9,387.4 364,382 349.6,379.3 348.7,373 334.3,370.3 333.4,364 319,362.2" fill="#fff" stroke="#555" stroke-width="1.2" stroke-linejoin="round" />
<polygon points="317.6,352 346,334 351.4,334.9 429.7,380.8 430.6,386.2 404.5,402.4 394.6,401.5 393.7,396.1 380.2,393.4 379.3,388 364.9,384.4 364,379 349.6,376.3 348.7,370 334.3,367.3 333.4,361 319,359.2" fill="#fff" stroke="#3a3a3a" stroke-width="1.8199999999999998" stroke-linejoin="round" />
<clipPath id="c650_1"><polygon points="317.6,352 346,334 351.4,334.9 429.7,380.8 430.6,386.2 404.5,402.4 394.6,401.5 393.7,396.1 380.2,393.4 379.3,388 364.9,384.4 364,379 349.6,376.3 348.7,370 334.3,367.3 333.4,361 319,359.2"/></clipPath>
<path d="M307.6,310.4 L447.6,388.8 M307.6,316.4 L447.6,394.8 M307.6,322.4 L447.6,400.8 M307.6,328.4 L447.6,406.8 M307.6,334.4 L447.6,412.8 M307.6,340.4 L447.6,418.8 M307.6,346.4 L447.6,424.8 M307.6,352.4 L447.6,430.8 M307.6,358.4 L447.6,436.8 M257.2,392 L327.2,350 M264.8,392 L334.8,350 M272.4,392 L342.4,350 M280,392 L350,350 M287.6,392 L357.6,350 M295.2,392 L365.2,350 M302.8,392 L372.8,350 M310.4,392 L380.4,350 M318,392 L388,350 M325.6,392 L395.6,350 M333.2,392 L403.2,350 M340.8,392 L410.8,350 M348.4,392 L418.4,350 M356,392 L426,350 M363.6,392 L433.6,350 M371.2,392 L441.2,350 M378.8,392 L448.8,350 M386.4,392 L456.4,350 M394,392 L464,350 M401.6,392 L471.6,350 M409.2,392 L479.2,350 M416.8,392 L486.8,350 M424.4,392 L494.4,350 M432,392 L502,350 M439.6,392 L509.6,350 M447.2,392 L517.2,350" fill="none" stroke="#5a5a5a" stroke-width="1.3" stroke-linejoin="round" stroke-linecap="round" clip-path="url(#c650_1)"/>
<polygon points="317.6,352 346,334 351.4,334.9 429.7,380.8 430.6,386.2 404.5,402.4 394.6,401.5 393.7,396.1 380.2,393.4 379.3,388 364.9,384.4 364,379 349.6,376.3 348.7,370 334.3,367.3 333.4,361 319,359.2" fill="none" stroke="#3a3a3a" stroke-width="1.8199999999999998" stroke-linejoin="round" />
<polyline points="346,334 351.4,334.9 429.7,380.8" fill="none" stroke="#3a3a3a" stroke-width="2.6" stroke-linejoin="round" stroke-linecap="round" />
<path d="M353,341 Q355,337 358,342" fill="none" stroke="#444" stroke-width="1.3" stroke-linejoin="round" stroke-linecap="round" />
<path d="M396,364 Q398,360 401,365" fill="none" stroke="#444" stroke-width="1.3" stroke-linejoin="round" stroke-linecap="round" />
<path d="M423,379 Q425,375 428,380" fill="none" stroke="#444" stroke-width="1.3" stroke-linejoin="round" stroke-linecap="round" />
<polygon points="411.8,409 440.2,391 445.6,391.9 523.9,437.8 524.8,443.2 498.7,459.4 488.8,458.5 487.9,453.1 474.4,450.4 473.5,445 459.1,441.4 458.2,436 443.8,433.3 442.9,427 428.5,424.3 427.6,418 413.2,416.2" fill="#fff" stroke="#555" stroke-width="1.2" stroke-linejoin="round" />
<polygon points="411.8,406 440.2,388 445.6,388.9 523.9,434.8 524.8,440.2 498.7,456.4 488.8,455.5 487.9,450.1 474.4,447.4 473.5,442 459.1,438.4 458.2,433 443.8,430.3 442.9,424 428.5,421.3 427.6,415 413.2,413.2" fill="#fff" stroke="#3a3a3a" stroke-width="1.8199999999999998" stroke-linejoin="round" />
<clipPath id="c650_2"><polygon points="411.8,406 440.2,388 445.6,388.9 523.9,434.8 524.8,440.2 498.7,456.4 488.8,455.5 487.9,450.1 474.4,447.4 473.5,442 459.1,438.4 458.2,433 443.8,430.3 442.9,424 428.5,421.3 427.6,415 413.2,413.2"/></clipPath>
<path d="M401.8,364.4 L541.8,442.8 M401.8,370.4 L541.8,448.8 M401.8,376.4 L541.8,454.8 M401.8,382.4 L541.8,460.8 M401.8,388.4 L541.8,466.8 M401.8,394.4 L541.8,472.8 M401.8,400.4 L541.8,478.8 M401.8,406.4 L541.8,484.8 M401.8,412.4 L541.8,490.8 M351.4,446 L421.4,404 M359,446 L429,404 M366.6,446 L436.6,404 M374.2,446 L444.2,404 M381.8,446 L451.8,404 M389.4,446 L459.4,404 M397,446 L467,404 M404.6,446 L474.6,404 M412.2,446 L482.2,404 M419.8,446 L489.8,404 M427.4,446 L497.4,404 M435,446 L505,404 M442.6,446 L512.6,404 M450.2,446 L520.2,404 M457.8,446 L527.8,404 M465.4,446 L535.4,404 M473,446 L543,404 M480.6,446 L550.6,404 M488.2,446 L558.2,404 M495.8,446 L565.8,404 M503.4,446 L573.4,404 M511,446 L581,404 M518.6,446 L588.6,404 M526.2,446 L596.2,404 M533.8,446 L603.8,404 M541.4,446 L611.4,404" fill="none" stroke="#5a5a5a" stroke-width="1.3" stroke-linejoin="round" stroke-linecap="round" clip-path="url(#c650_2)"/>
<polygon points="411.8,406 440.2,388 445.6,388.9 523.9,434.8 524.8,440.2 498.7,456.4 488.8,455.5 487.9,450.1 474.4,447.4 473.5,442 459.1,438.4 458.2,433 443.8,430.3 442.9,424 428.5,421.3 427.6,415 413.2,413.2" fill="none" stroke="#3a3a3a" stroke-width="1.8199999999999998" stroke-linejoin="round" />
<polyline points="440.2,388 445.6,388.9 523.9,434.8" fill="none" stroke="#3a3a3a" stroke-width="2.6" stroke-linejoin="round" stroke-linecap="round" />
<path d="M447.2,395 Q449.2,391 452.2,396" fill="none" stroke="#444" stroke-width="1.3" stroke-linejoin="round" stroke-linecap="round" />
<path d="M490.2,418 Q492.2,414 495.2,419" fill="none" stroke="#444" stroke-width="1.3" stroke-linejoin="round" stroke-linecap="round" />
<path d="M517.2,433 Q519.2,429 522.2,434" fill="none" stroke="#444" stroke-width="1.3" stroke-linejoin="round" stroke-linecap="round" />
<path d="M548.7,406.8 L542.6,370.3 M562.6,415.6 L555.8,377.9 M576.5,424.4 L568.9,385.5 M590.4,433.1 L582,393.1 M604.3,441.9 L595.2,400.7" fill="none" stroke="#4a4a4a" stroke-width="3.0" stroke-linejoin="round" stroke-linecap="round" />
<path d="M548.7,406.8 L542.6,370.3 M562.6,415.6 L555.8,377.9 M576.5,424.4 L568.9,385.5 M590.4,433.1 L582,393.1 M604.3,441.9 L595.2,400.7" fill="none" stroke="#8f8f8f" stroke-width="0.9" stroke-linejoin="round" stroke-linecap="round" />
<polyline points="532,398.4 609.6,443.3" fill="none" stroke="#555" stroke-width="3.0" stroke-linejoin="round" stroke-linecap="round" />
<polyline points="532,398.4 609.6,443.3" fill="none" stroke="#aaa" stroke-width="0.9" stroke-linejoin="round" stroke-linecap="round" />
<path d="M535,400 L538,406 M604,440 L607,447" fill="none" stroke="#444" stroke-width="1.8" stroke-linejoin="round" stroke-linecap="round" />
<path d="M595.9,382.4 L587.5,343.6 M609.4,390 L600.8,351.4 M623,397.6 L614.2,359.2 M636.5,405.3 L627.5,367 M650,412.9 L640.8,374.8" fill="none" stroke="#4a4a4a" stroke-width="3.0" stroke-linejoin="round" stroke-linecap="round" />
<path d="M595.9,382.4 L587.5,343.6 M609.4,390 L600.8,351.4 M623,397.6 L614.2,359.2 M636.5,405.3 L627.5,367 M650,412.9 L640.8,374.8" fill="none" stroke="#8f8f8f" stroke-width="0.9" stroke-linejoin="round" stroke-linecap="round" />
<polyline points="576.1,373.3 653,419 662.9,410.6" fill="none" stroke="#555" stroke-width="3.0" stroke-linejoin="round" stroke-linecap="round" />
<polyline points="576.1,373.3 653,419 662.9,410.6" fill="none" stroke="#aaa" stroke-width="0.9" stroke-linejoin="round" stroke-linecap="round" />
<path d="M579,377 L585,381" fill="none" stroke="#444" stroke-width="1.8" stroke-linejoin="round" stroke-linecap="round" />
<path d="M646.2,349 L648.4,314.7 M659.5,356.2 L661.7,322.5 M672.9,363.4 L675.1,330.3 M686.2,370.7 L688.4,338.1 M699.5,377.9 L701.7,345.9" fill="none" stroke="#4a4a4a" stroke-width="3.0" stroke-linejoin="round" stroke-linecap="round" />
<path d="M646.2,349 L648.4,314.7 M659.5,356.2 L661.7,322.5 M672.9,363.4 L675.1,330.3 M686.2,370.7 L688.4,338.1 M699.5,377.9 L701.7,345.9" fill="none" stroke="#8f8f8f" stroke-width="0.9" stroke-linejoin="round" stroke-linecap="round" />
<polyline points="626.4,337.5 704,382.4 713.9,377.9" fill="none" stroke="#555" stroke-width="3.0" stroke-linejoin="round" stroke-linecap="round" />
<polyline points="626.4,337.5 704,382.4 713.9,377.9" fill="none" stroke="#aaa" stroke-width="0.9" stroke-linejoin="round" stroke-linecap="round" />
<path d="M633,341 L636,347" fill="none" stroke="#444" stroke-width="1.8" stroke-linejoin="round" stroke-linecap="round" />
<polyline points="652,300 658.6,303.6 659.4,308 666,311.6 666.8,308 666.8,308 673.4,311.6 674.1,316 680.8,319.6 681.5,316 681.5,316 688.1,319.6 688.9,324 695.5,327.6 696.2,324 696.2,324 702.9,327.6 703.6,332 710.3,335.6 711,332" fill="none" stroke="#3a3a3a" stroke-width="6.0" stroke-linejoin="round" stroke-linecap="round" />
<polyline points="652,300 658.6,303.6 659.4,308 666,311.6 666.8,308 666.8,308 673.4,311.6 674.1,316 680.8,319.6 681.5,316 681.5,316 688.1,319.6 688.9,324 695.5,327.6 696.2,324 696.2,324 702.9,327.6 703.6,332 710.3,335.6 711,332" fill="none" stroke="#fff" stroke-width="3.4" stroke-linejoin="round" stroke-linecap="round" />
<polyline points="662.3,309.6 662.3,315.6" fill="none" stroke="#444" stroke-width="2.0" stroke-linejoin="round" stroke-linecap="round" />
<polyline points="706.6,333.6 706.6,339.6" fill="none" stroke="#444" stroke-width="2.0" stroke-linejoin="round" stroke-linecap="round" />
<path d="M663,307 L663,315 M707,332 L707,340" fill="none" stroke="#3a3a3a" stroke-width="1.9500000000000002" stroke-linejoin="round" stroke-linecap="round" />
<path d="M787,423.5 L788.8,394.5 M800.2,432 L802,402.1 M813.3,440.6 L815.2,409.6 M826.5,449.1 L828.3,417.2 M839.6,457.7 L841.5,424.7 M852.8,466.2 L854.7,432.3" fill="none" stroke="#4a4a4a" stroke-width="3.0" stroke-linejoin="round" stroke-linecap="round" />
<path d="M787,423.5 L788.8,394.5 M800.2,432 L802,402.1 M813.3,440.6 L815.2,409.6 M826.5,449.1 L828.3,417.2 M839.6,457.7 L841.5,424.7 M852.8,466.2 L854.7,432.3" fill="none" stroke="#8f8f8f" stroke-width="0.9" stroke-linejoin="round" stroke-linecap="round" />
<polyline points="780,424.5 862.5,474" fill="none" stroke="#555" stroke-width="3.0" stroke-linejoin="round" stroke-linecap="round" />
<polyline points="780,424.5 862.5,474" fill="none" stroke="#aaa" stroke-width="0.9" stroke-linejoin="round" stroke-linecap="round" />
<ellipse cx="861" cy="471" rx="2.5" ry="3" transform="rotate(0 861 471)" fill="#fff" stroke="#3a3a3a" stroke-width="1.8199999999999998" />
<polyline points="792,375 798.8,378.5 799.5,382.9 806.2,386.4 807,382.8 807,382.8 813.8,386.3 814.5,390.7 821.2,394.2 822,390.6 822,390.6 828.8,394.1 829.5,398.5 836.2,402 837,398.4 837,398.4 843.8,401.9 844.5,406.3 851.2,409.8 852,406.2 852,406.2 858.8,409.7 859.5,414.1 866.2,417.6 867,414" fill="none" stroke="#3a3a3a" stroke-width="6.0" stroke-linejoin="round" stroke-linecap="round" />
<polyline points="792,375 798.8,378.5 799.5,382.9 806.2,386.4 807,382.8 807,382.8 813.8,386.3 814.5,390.7 821.2,394.2 822,390.6 822,390.6 828.8,394.1 829.5,398.5 836.2,402 837,398.4 837,398.4 843.8,401.9 844.5,406.3 851.2,409.8 852,406.2 852,406.2 858.8,409.7 859.5,414.1 866.2,417.6 867,414" fill="none" stroke="#fff" stroke-width="3.4" stroke-linejoin="round" stroke-linecap="round" />
<polyline points="802.5,384.5 802.5,390.5" fill="none" stroke="#444" stroke-width="2.0" stroke-linejoin="round" stroke-linecap="round" />
<polyline points="847.5,407.9 847.5,413.9" fill="none" stroke="#444" stroke-width="2.0" stroke-linejoin="round" stroke-linecap="round" />
<path d="M800,385 L800,392 M848,407 L848,414" fill="none" stroke="#3a3a3a" stroke-width="1.9500000000000002" stroke-linejoin="round" stroke-linecap="round" />
<path d="M738,402 L747,397 L758,395 Q764,398 760,404 L748,410 Q742,411 740,407 Z" fill="#d0d0d0" stroke="#3a3a3a" stroke-width="1.8199999999999998" stroke-linejoin="round" stroke-linecap="round" />
<path d="M736,401 L742,405 M745,399 L747,406" fill="none" stroke="#3a3a3a" stroke-width="1.56" stroke-linejoin="round" stroke-linecap="round" />
<path d="M696.2,494.3 L692.8,467.6 M702.9,497.9 L699.4,471.4 M709.6,501.5 L706.1,475.3 M716.2,505 L712.7,479.1 M722.9,508.6 L719.3,482.9 M729.6,512.2 L726,486.8 M736.3,515.8 L732.6,490.6 M743,519.4 L739.2,494.4 M749.6,522.9 L745.8,498.2 M756.3,526.5 L752.5,502.1 M763,530.1 L759.1,505.9" fill="none" stroke="#4a4a4a" stroke-width="3.0" stroke-linejoin="round" stroke-linecap="round" />
<path d="M696.2,494.3 L692.8,467.6 M702.9,497.9 L699.4,471.4 M709.6,501.5 L706.1,475.3 M716.2,505 L712.7,479.1 M722.9,508.6 L719.3,482.9 M729.6,512.2 L726,486.8 M736.3,515.8 L732.6,490.6 M743,519.4 L739.2,494.4 M749.6,522.9 L745.8,498.2 M756.3,526.5 L752.5,502.1 M763,530.1 L759.1,505.9" fill="none" stroke="#8f8f8f" stroke-width="0.9" stroke-linejoin="round" stroke-linecap="round" />
<polyline points="679.2,490.4 686,488 694.2,492.3 769.8,535" fill="none" stroke="#555" stroke-width="3.0" stroke-linejoin="round" stroke-linecap="round" />
<polyline points="694.2,492.3 769.8,535" fill="none" stroke="#aaa" stroke-width="0.9" stroke-linejoin="round" stroke-linecap="round" />
<path d="M730.6,472 L728.6,447.3 M737.4,475.9 L735.2,451.1 M744.3,479.7 L741.9,454.8 M751.1,483.6 L748.5,458.6 M757.9,487.5 L755.2,462.4 M764.8,491.4 L761.8,466.2 M771.6,495.2 L768.4,469.9 M778.4,499.1 L775.1,473.7 M785.2,503 L781.7,477.5 M792.1,506.8 L788.4,481.2 M798.9,510.7 L795,485" fill="none" stroke="#4a4a4a" stroke-width="3.0" stroke-linejoin="round" stroke-linecap="round" />
<path d="M730.6,472 L728.6,447.3 M737.4,475.9 L735.2,451.1 M744.3,479.7 L741.9,454.8 M751.1,483.6 L748.5,458.6 M757.9,487.5 L755.2,462.4 M764.8,491.4 L761.8,466.2 M771.6,495.2 L768.4,469.9 M778.4,499.1 L775.1,473.7 M785.2,503 L781.7,477.5 M792.1,506.8 L788.4,481.2 M798.9,510.7 L795,485" fill="none" stroke="#8f8f8f" stroke-width="0.9" stroke-linejoin="round" stroke-linecap="round" />
<polyline points="721.4,468.1 803.7,515.6" fill="none" stroke="#555" stroke-width="3.0" stroke-linejoin="round" stroke-linecap="round" />
<polyline points="721.4,468.1 803.7,515.6" fill="none" stroke="#aaa" stroke-width="0.9" stroke-linejoin="round" stroke-linecap="round" />
<path d="M721.4,468.1 L729,458 L730,470" fill="none" stroke="#555" stroke-width="2.2" stroke-linejoin="round" stroke-linecap="round" />
<path d="M617,453 L627,447 L633,449 L633,454 L623,460 L617,458 Z" fill="#fff" stroke="#3a3a3a" stroke-width="1.8199999999999998" stroke-linejoin="round" stroke-linecap="round" />
<path d="M617,453 L623,455 L633,449 M623,455 L623,460" fill="none" stroke="#444" stroke-width="1.2" stroke-linejoin="round" stroke-linecap="round" />
<path d="M655,431 L665,425 L671,427 L671,432 L661,438 L655,436 Z" fill="#fff" stroke="#3a3a3a" stroke-width="1.8199999999999998" stroke-linejoin="round" stroke-linecap="round" />
<path d="M655,431 L661,433 L671,427 M661,433 L661,438" fill="none" stroke="#444" stroke-width="1.2" stroke-linejoin="round" stroke-linecap="round" />
<polyline points="409.3,569.6 571.4,660" fill="none" stroke="#4a4a4a" stroke-width="2.3" stroke-linejoin="round" stroke-linecap="round" />
<polyline points="432.6,561.1 594.9,652" fill="none" stroke="#4a4a4a" stroke-width="2.3" stroke-linejoin="round" stroke-linecap="round" />
<polyline points="455.9,552.7 618.3,644" fill="none" stroke="#4a4a4a" stroke-width="2.3" stroke-linejoin="round" stroke-linecap="round" />
<polyline points="479.1,544.3 641.7,636" fill="none" stroke="#4a4a4a" stroke-width="2.3" stroke-linejoin="round" stroke-linecap="round" />
<polyline points="502.4,535.9 665.1,628" fill="none" stroke="#4a4a4a" stroke-width="2.3" stroke-linejoin="round" stroke-linecap="round" />
<polyline points="525.7,527.4 688.6,620" fill="none" stroke="#4a4a4a" stroke-width="2.3" stroke-linejoin="round" stroke-linecap="round" />
<clipPath id="flc"><polygon points="386,578 549,519 712,612 548,668"/></clipPath>
<path d="M278,518 Q286,515 289,513 C290.5,510.6 290,506.6 292,504.2 Q300,501.2 303,499.2 C304.5,496.7 304,492.8 306,490.3 Q314,487.3 317,485.3 C318.5,482.8 318,478.8 320,476.4 Q328,473.4 331,471.4 C332.5,468.9 332,464.9 334,462.4 Q342,459.4 345,457.4 C346.5,454.9 346,450.9 348,448.4 Q356,445.4 359,443.4 C360.5,440.9 360,436.9 362,434.4 Q370,431.4 373,429.4 C374.5,426.8 374,422.8 376,420.3 M291.5,525.5 Q299.5,522.5 302.5,520.5 C304,518.1 303.5,514.1 305.5,511.7 Q313.5,508.7 316.5,506.7 C318,504.2 317.5,500.3 319.5,497.8 Q327.5,494.8 330.5,492.8 C332,490.4 331.5,486.4 333.5,483.9 Q341.5,480.9 344.5,478.9 C346,476.5 345.5,472.5 347.5,470 Q355.5,467 358.5,465 C360,462.5 359.5,458.5 361.5,456.1 Q369.5,453.1 372.5,451.1 C374,448.5 373.5,444.5 375.5,442 Q383.5,439 386.5,437 C388,434.5 387.5,430.5 389.5,428 M305,533 Q313,530 316,528 C317.5,525.6 317,521.7 319,519.2 Q327,516.2 330,514.2 C331.5,511.8 331,507.9 333,505.4 Q341,502.4 344,500.4 C345.5,497.9 345,494 347,491.5 Q355,488.5 358,486.5 C359.5,484.1 359,480.1 361,477.6 Q369,474.6 372,472.6 C373.5,470.2 373,466.2 375,463.7 Q383,460.7 386,458.7 C387.5,456.2 387,452.2 389,449.7 Q397,446.7 400,444.7 C401.5,442.2 401,438.2 403,435.7 M318.5,540.5 Q326.5,537.5 329.5,535.5 C331,533.1 330.5,529.2 332.5,526.7 Q340.5,523.7 343.5,521.7 C345,519.3 344.5,515.4 346.5,513 Q354.5,510 357.5,508 C359,505.5 358.5,501.6 360.5,499.1 Q368.5,496.1 371.5,494.1 C373,491.7 372.5,487.7 374.5,485.3 Q382.5,482.3 385.5,480.3 C387,477.8 386.5,473.8 388.5,471.3 Q396.5,468.3 399.5,466.3 C401,463.9 400.5,459.9 402.5,457.4 Q410.5,454.4 413.5,452.4 C415,449.9 414.5,445.9 416.5,443.4 M332,548 Q340,545 343,543 C344.5,540.6 344,536.7 346,534.3 Q354,531.3 357,529.3 C358.5,526.9 358,523 360,520.5 Q368,517.5 371,515.5 C372.5,513.1 372,509.2 374,506.7 Q382,503.7 385,501.7 C386.5,499.3 386,495.3 388,492.9 Q396,489.9 399,487.9 C400.5,485.4 400,481.5 402,479 Q410,476 413,474 C414.5,471.5 414,467.5 416,465.1 Q424,462.1 427,460.1 C428.5,457.6 428,453.6 430,451.1 M345.5,555.5 Q353.5,552.5 356.5,550.5 C358,548.1 357.5,544.2 359.5,541.8 Q367.5,538.8 370.5,536.8 C372,534.4 371.5,530.5 373.5,528.1 Q381.5,525.1 384.5,523.1 C386,520.7 385.5,516.7 387.5,514.3 Q395.5,511.3 398.5,509.3 C400,506.9 399.5,502.9 401.5,500.5 Q409.5,497.5 412.5,495.5 C414,493 413.5,489.1 415.5,486.6 Q423.5,483.6 426.5,481.6 C428,479.2 427.5,475.2 429.5,472.7 Q437.5,469.7 440.5,467.7 C442,465.3 441.5,461.3 443.5,458.8 M359,563 Q367,560 370,558 C371.5,555.6 371,551.8 373,549.3 Q381,546.3 384,544.3 C385.5,541.9 385,538.1 387,535.6 Q395,532.6 398,530.6 C399.5,528.2 399,524.3 401,521.9 Q409,518.9 412,516.9 C413.5,514.5 413,510.5 415,508.1 Q423,505.1 426,503.1 C427.5,500.7 427,496.7 429,494.3 Q437,491.3 440,489.3 C441.5,486.8 441,482.9 443,480.4 Q451,477.4 454,475.4 C455.5,472.9 455,469 457,466.5 M372.5,570.5 Q380.5,567.5 383.5,565.5 C385,563.1 384.5,559.3 386.5,556.9 Q394.5,553.9 397.5,551.9 C399,549.5 398.5,545.6 400.5,543.2 Q408.5,540.2 411.5,538.2 C413,535.8 412.5,531.9 414.5,529.5 Q422.5,526.5 425.5,524.5 C427,522.1 426.5,518.2 428.5,515.7 Q436.5,512.7 439.5,510.7 C441,508.3 440.5,504.4 442.5,501.9 Q450.5,498.9 453.5,496.9 C455,494.5 454.5,490.5 456.5,488.1 Q464.5,485.1 467.5,483.1 C469,480.6 468.5,476.7 470.5,474.2 M386,578 Q394,575 397,573 C398.5,570.6 398,566.8 400,564.4 Q408,561.4 411,559.4 C412.5,557 412,553.2 414,550.7 Q422,547.7 425,545.7 C426.5,543.4 426,539.5 428,537.1 Q436,534.1 439,532.1 C440.5,529.7 440,525.8 442,523.3 Q450,520.3 453,518.3 C454.5,515.9 454,512 456,509.6 Q464,506.6 467,504.6 C468.5,502.1 468,498.2 470,495.8 Q478,492.8 481,490.8 C482.5,488.3 482,484.4 484,481.9 M399.5,585.5 Q407.5,582.5 410.5,580.5 C412,578.1 411.5,574.3 413.5,571.9 Q421.5,568.9 424.5,566.9 C426,564.6 425.5,560.7 427.5,558.3 Q435.5,555.3 438.5,553.3 C440,550.9 439.5,547.1 441.5,544.6 Q449.5,541.6 452.5,539.6 C454,537.3 453.5,533.4 455.5,530.9 Q463.5,527.9 466.5,525.9 C468,523.5 467.5,519.6 469.5,517.2 Q477.5,514.2 480.5,512.2 C482,509.8 481.5,505.9 483.5,503.4 Q491.5,500.4 494.5,498.4 C496,496 495.5,492.1 497.5,489.6 M413,593 Q421,590 424,588 C425.5,585.7 425,581.8 427,579.5 Q435,576.5 438,574.5 C439.5,572.1 439,568.3 441,565.9 Q449,562.9 452,560.9 C453.5,558.5 453,554.6 455,552.2 Q463,549.2 466,547.2 C467.5,544.8 467,541 469,538.6 Q477,535.6 480,533.6 C481.5,531.2 481,527.3 483,524.9 Q491,521.9 494,519.9 C495.5,517.4 495,513.5 497,511.1 Q505,508.1 508,506.1 C509.5,503.7 509,499.8 511,497.3 M426.5,600.5 Q434.5,597.5 437.5,595.5 C439,593.2 438.5,589.4 440.5,587 Q448.5,584 451.5,582 C453,579.6 452.5,575.8 454.5,573.4 Q462.5,570.4 465.5,568.4 C467,566.1 466.5,562.2 468.5,559.8 Q476.5,556.8 479.5,554.8 C481,552.4 480.5,548.6 482.5,546.2 Q490.5,543.2 493.5,541.2 C495,538.8 494.5,534.9 496.5,532.5 Q504.5,529.5 507.5,527.5 C509,525.1 508.5,521.2 510.5,518.8 Q518.5,515.8 521.5,513.8 C523,511.4 522.5,507.5 524.5,505 M440,608 Q448,605 451,603 C452.5,600.7 452,596.9 454,594.5 Q462,591.5 465,589.5 C466.5,587.2 466,583.4 468,581 Q476,578 479,576 C480.5,573.6 480,569.8 482,567.4 Q490,564.4 493,562.4 C494.5,560 494,556.2 496,553.8 Q504,550.8 507,548.8 C508.5,546.4 508,542.6 510,540.1 Q518,537.1 521,535.1 C522.5,532.8 522,528.9 524,526.5 Q532,523.5 535,521.5 C536.5,519 536,515.2 538,512.7 M453.5,615.5 Q461.5,612.5 464.5,610.5 C466,608.2 465.5,604.4 467.5,602 Q475.5,599 478.5,597 C480,594.7 479.5,590.9 481.5,588.5 Q489.5,585.5 492.5,583.5 C494,581.2 493.5,577.4 495.5,575 Q503.5,572 506.5,570 C508,567.6 507.5,563.8 509.5,561.4 Q517.5,558.4 520.5,556.4 C522,554 521.5,550.2 523.5,547.8 Q531.5,544.8 534.5,542.8 C536,540.4 535.5,536.5 537.5,534.1 Q545.5,531.1 548.5,529.1 C550,526.7 549.5,522.9 551.5,520.4 M467,623 Q475,620 478,618 C479.5,615.7 479,611.9 481,609.6 Q489,606.6 492,604.6 C493.5,602.3 493,598.5 495,596.1 Q503,593.1 506,591.1 C507.5,588.8 507,585 509,582.6 Q517,579.6 520,577.6 C521.5,575.2 521,571.4 523,569 Q531,566 534,564 C535.5,561.7 535,557.8 537,555.4 Q545,552.4 548,550.4 C549.5,548.1 549,544.2 551,541.8 Q559,538.8 562,536.8 C563.5,534.4 563,530.5 565,528.1 M480.5,630.5 Q488.5,627.5 491.5,625.5 C493,623.2 492.5,619.4 494.5,617.1 Q502.5,614.1 505.5,612.1 C507,609.8 506.5,606 508.5,603.7 Q516.5,600.7 519.5,598.7 C521,596.3 520.5,592.5 522.5,590.2 Q530.5,587.2 533.5,585.2 C535,582.8 534.5,579 536.5,576.6 Q544.5,573.6 547.5,571.6 C549,569.3 548.5,565.5 550.5,563.1 Q558.5,560.1 561.5,558.1 C563,555.7 562.5,551.9 564.5,549.5 Q572.5,546.5 575.5,544.5 C577,542.1 576.5,538.2 578.5,535.8 M494,638 Q502,635 505,633 C506.5,630.7 506,627 508,624.6 Q516,621.6 519,619.6 C520.5,617.3 520,613.6 522,611.2 Q530,608.2 533,606.2 C534.5,603.9 534,600.1 536,597.8 Q544,594.8 547,592.8 C548.5,590.4 548,586.6 550,584.3 Q558,581.3 561,579.3 C562.5,576.9 562,573.1 564,570.7 Q572,567.7 575,565.7 C576.5,563.4 576,559.5 578,557.1 Q586,554.1 589,552.1 C590.5,549.8 590,545.9 592,543.5 M507.5,645.5 Q515.5,642.5 518.5,640.5 C520,638.2 519.5,634.5 521.5,632.2 Q529.5,629.2 532.5,627.2 C534,624.9 533.5,621.1 535.5,618.8 Q543.5,615.8 546.5,613.8 C548,611.5 547.5,607.7 549.5,605.3 Q557.5,602.3 560.5,600.3 C562,598 561.5,594.2 563.5,591.9 Q571.5,588.9 574.5,586.9 C576,584.5 575.5,580.7 577.5,578.4 Q585.5,575.4 588.5,573.4 C590,571 589.5,567.2 591.5,564.8 Q599.5,561.8 602.5,559.8 C604,557.5 603.5,553.6 605.5,551.2 M521,653 Q529,650 532,648 C533.5,645.7 533,642 535,639.7 Q543,636.7 546,634.7 C547.5,632.4 547,628.7 549,626.3 Q557,623.3 560,621.3 C561.5,619 561,615.3 563,612.9 Q571,609.9 574,607.9 C575.5,605.6 575,601.9 577,599.5 Q585,596.5 588,594.5 C589.5,592.2 589,588.4 591,586 Q599,583 602,581 C603.5,578.7 603,574.9 605,572.5 Q613,569.5 616,567.5 C617.5,565.2 617,561.3 619,558.9 M534.5,660.5 Q542.5,657.5 545.5,655.5 C547,653.2 546.5,649.5 548.5,647.2 Q556.5,644.2 559.5,642.2 C561,639.9 560.5,636.2 562.5,633.9 Q570.5,630.9 573.5,628.9 C575,626.6 574.5,622.9 576.5,620.5 Q584.5,617.5 587.5,615.5 C589,613.2 588.5,609.5 590.5,607.1 Q598.5,604.1 601.5,602.1 C603,599.8 602.5,596 604.5,593.7 Q612.5,590.7 615.5,588.7 C617,586.3 616.5,582.5 618.5,580.2 Q626.5,577.2 629.5,575.2 C631,572.8 630.5,569 632.5,566.6 M548,668 Q556,665 559,663 C560.5,660.8 560,657.1 562,654.7 Q570,651.7 573,649.7 C574.5,647.5 574,643.8 576,641.4 Q584,638.4 587,636.4 C588.5,634.2 588,630.4 590,628.1 Q598,625.1 601,623.1 C602.5,620.8 602,617.1 604,614.7 Q612,611.7 615,609.7 C616.5,607.4 616,603.7 618,601.3 Q626,598.3 629,596.3 C630.5,594 630,590.2 632,587.8 Q640,584.8 643,582.8 C644.5,580.5 644,576.7 646,574.3 M561.5,675.5 Q569.5,672.5 572.5,670.5 C574,668.3 573.5,664.6 575.5,662.3 Q583.5,659.3 586.5,657.3 C588,655 587.5,651.3 589.5,649 Q597.5,646 600.5,644 C602,641.7 601.5,638 603.5,635.7 Q611.5,632.7 614.5,630.7 C616,628.4 615.5,624.7 617.5,622.3 Q625.5,619.3 628.5,617.3 C630,615.1 629.5,611.3 631.5,608.9 Q639.5,605.9 642.5,603.9 C644,601.6 643.5,597.9 645.5,595.5 Q653.5,592.5 656.5,590.5 C658,588.2 657.5,584.4 659.5,582 M575,683 Q583,680 586,678 C587.5,675.8 587,672.1 589,669.8 Q597,666.8 600,664.8 C601.5,662.6 601,658.9 603,656.6 Q611,653.6 614,651.6 C615.5,649.3 615,645.6 617,643.3 Q625,640.3 628,638.3 C629.5,636 629,632.3 631,630 Q639,627 642,625 C643.5,622.7 643,618.9 645,616.6 Q653,613.6 656,611.6 C657.5,609.3 657,605.5 659,603.2 Q667,600.2 670,598.2 C671.5,595.9 671,592.1 673,589.7 M588.5,690.5 Q596.5,687.5 599.5,685.5 C601,683.3 600.5,679.6 602.5,677.3 Q610.5,674.3 613.5,672.3 C615,670.1 614.5,666.4 616.5,664.1 Q624.5,661.1 627.5,659.1 C629,656.9 628.5,653.2 630.5,650.9 Q638.5,647.9 641.5,645.9 C643,643.6 642.5,639.9 644.5,637.6 Q652.5,634.6 655.5,632.6 C657,630.3 656.5,626.6 658.5,624.2 Q666.5,621.2 669.5,619.2 C671,617 670.5,613.2 672.5,610.9 Q680.5,607.9 683.5,605.9 C685,603.6 684.5,599.8 686.5,597.5" fill="none" stroke="#4a4a4a" stroke-width="2.3" stroke-linejoin="round" stroke-linecap="round" clip-path="url(#flc)"/>
<polyline points="389.9,542.1 389.9,580.6" fill="none" stroke="#4a4a4a" stroke-width="2.3" stroke-linejoin="round" stroke-linecap="round" />
<polyline points="407.4,533.4 407.4,574.3" fill="none" stroke="#4a4a4a" stroke-width="2.3" stroke-linejoin="round" stroke-linecap="round" />
<polyline points="419.8,527.1 419.8,569.8" fill="none" stroke="#4a4a4a" stroke-width="2.3" stroke-linejoin="round" stroke-linecap="round" />
<polyline points="449.7,512.2 449.7,558.9" fill="none" stroke="#4a4a4a" stroke-width="2.3" stroke-linejoin="round" stroke-linecap="round" />
<polyline points="479.6,496 479.6,548.1" fill="none" stroke="#4a4a4a" stroke-width="2.3" stroke-linejoin="round" stroke-linecap="round" />
<polyline points="499.5,482.9 499.5,540.9" fill="none" stroke="#4a4a4a" stroke-width="2.3" stroke-linejoin="round" stroke-linecap="round" />
<polyline points="519.5,469.7 519.5,533.7" fill="none" stroke="#4a4a4a" stroke-width="2.3" stroke-linejoin="round" stroke-linecap="round" />
<polyline points="539.4,456.6 539.4,526.5" fill="none" stroke="#4a4a4a" stroke-width="2.3" stroke-linejoin="round" stroke-linecap="round" />
<polyline points="376,549 389.9,542.1 449.7,512.2 452.2,516 477.1,502 479.6,496 549.4,450" fill="none" stroke="#444" stroke-width="3.2" stroke-linejoin="round" stroke-linecap="round" />
<polyline points="376,549 389.9,542.1 449.7,512.2 452.2,516 477.1,502 479.6,496 549.4,450" fill="none" stroke="#fff" stroke-width="1.0" stroke-linejoin="round" stroke-linecap="round" />
<polyline points="379,571 449.7,544.6 452.2,549.6 474.6,539.7 479.6,532.2 549.4,498.5" fill="none" stroke="#4a4a4a" stroke-width="2.4" stroke-linejoin="round" stroke-linecap="round" />
<path d="M562.6,458.6 C563.6,463.6 558.6,463.6 558.6,471.6 L558.8,520.3 L561.8,526.3 M575.9,466.3 C576.9,471.3 571.9,471.3 571.9,479.3 L571.7,527.6 L574.7,533.6 M589.1,473.9 C590.1,478.9 585.1,478.9 585.1,486.9 L584.5,535 L587.5,541 M602.3,481.6 C603.3,486.6 598.3,486.6 598.3,494.6 L597.3,542.3 L600.3,548.3 M615.6,489.2 C616.6,494.2 611.6,494.2 611.6,502.2 L610.2,549.6 L613.2,555.6 M628.8,496.8 C629.8,501.8 624.8,501.8 624.8,509.8 L623,556.9 L626,562.9 M642.1,504.5 C643.1,509.5 638.1,509.5 638.1,517.5 L635.8,564.3 L638.8,570.3 M655.3,512.1 C656.3,517.1 651.3,517.1 651.3,525.1 L648.7,571.6 L651.7,577.6 M668.5,519.7 C669.5,524.7 664.5,524.7 664.5,532.7 L661.5,578.9 L664.5,584.9 M681.8,527.4 C682.8,532.4 677.8,532.4 677.8,540.4 L674.3,586.2 L677.3,592.2 M695,535 C696,540 691,540 691,548 L687.2,593.6 L690.2,599.6 M708.2,542.7 C709.2,547.7 704.2,547.7 704.2,555.7 L700,600.9 L703,606.9" fill="none" stroke="#4a4a4a" stroke-width="2.3" stroke-linejoin="round" stroke-linecap="round" />
<polyline points="549.4,450 717.5,547" fill="none" stroke="#444" stroke-width="3.2" stroke-linejoin="round" stroke-linecap="round" />
<polyline points="549.4,450 717.5,547" fill="none" stroke="#fff" stroke-width="1.0" stroke-linejoin="round" stroke-linecap="round" />
<polyline points="550,470 717,567" fill="none" stroke="#4a4a4a" stroke-width="2.4" stroke-linejoin="round" stroke-linecap="round" />
<polyline points="549.4,450 549.4,522" fill="none" stroke="#4a4a4a" stroke-width="2.4" stroke-linejoin="round" stroke-linecap="round" />
<polyline points="556,452 556,524" fill="none" stroke="#4a4a4a" stroke-width="1.4" stroke-linejoin="round" stroke-linecap="round" />
<polyline points="717.5,547 718,620" fill="none" stroke="#4a4a4a" stroke-width="2.4" stroke-linejoin="round" stroke-linecap="round" />
<polyline points="376,549 378,592" fill="none" stroke="#4a4a4a" stroke-width="2.4" stroke-linejoin="round" stroke-linecap="round" />
<polyline points="382,552 384,594" fill="none" stroke="#4a4a4a" stroke-width="1.6" stroke-linejoin="round" stroke-linecap="round" />
<path d="M556,484 L556,516 M560,485 L560,518 M565,504 L600,524 M566,512 L606,534 M577,500 L583,503 L583,512 L577,509 Z M590,508 L597,512 L597,522 L590,518 Z M604,506 L604,536 M608,508 L608,538 M615,520 L630,529 L626,536 M556,490 Q548,500 560,505" fill="none" stroke="#444" stroke-width="1.6" stroke-linejoin="round" stroke-linecap="round" />
<polyline points="392,559.5 392,593.1" fill="none" stroke="#4a4a4a" stroke-width="2.3" stroke-linejoin="round" stroke-linecap="round" />
<polyline points="392,593.1 394,596.1 399,595.1 399,586.1" fill="none" stroke="#4a4a4a" stroke-width="2.3" stroke-linejoin="round" stroke-linecap="round" />
<polyline points="407,569.3 407,602.7" fill="none" stroke="#4a4a4a" stroke-width="2.3" stroke-linejoin="round" stroke-linecap="round" />
<polyline points="407,602.7 409,605.7 414,604.7 414,595.7" fill="none" stroke="#4a4a4a" stroke-width="2.3" stroke-linejoin="round" stroke-linecap="round" />
<polyline points="421.7,579 421.7,612.1" fill="none" stroke="#4a4a4a" stroke-width="2.3" stroke-linejoin="round" stroke-linecap="round" />
<polyline points="421.7,612.1 423.7,615.1 428.7,614.1 428.7,605.1" fill="none" stroke="#4a4a4a" stroke-width="2.3" stroke-linejoin="round" stroke-linecap="round" />
<polyline points="435.7,588.2 435.7,621.1" fill="none" stroke="#4a4a4a" stroke-width="2.3" stroke-linejoin="round" stroke-linecap="round" />
<polyline points="435.7,621.1 437.7,624.1 442.7,623.1 442.7,614.1" fill="none" stroke="#4a4a4a" stroke-width="2.3" stroke-linejoin="round" stroke-linecap="round" />
<polyline points="447.8,596.1 447.8,628.9" fill="none" stroke="#4a4a4a" stroke-width="2.3" stroke-linejoin="round" stroke-linecap="round" />
<polyline points="447.8,628.9 449.8,631.9 454.8,630.9 454.8,621.9" fill="none" stroke="#4a4a4a" stroke-width="2.3" stroke-linejoin="round" stroke-linecap="round" />
<polyline points="461.8,605.3 461.8,637.9" fill="none" stroke="#4a4a4a" stroke-width="2.3" stroke-linejoin="round" stroke-linecap="round" />
<polyline points="461.8,637.9 463.8,640.9 468.8,639.9 468.8,630.9" fill="none" stroke="#4a4a4a" stroke-width="2.3" stroke-linejoin="round" stroke-linecap="round" />
<polyline points="474,613.3 474,645.7" fill="none" stroke="#4a4a4a" stroke-width="2.3" stroke-linejoin="round" stroke-linecap="round" />
<polyline points="474,645.7 476,648.7 481,647.7 481,638.7" fill="none" stroke="#4a4a4a" stroke-width="2.3" stroke-linejoin="round" stroke-linecap="round" />
<polyline points="488,622.5 488,654.7" fill="none" stroke="#4a4a4a" stroke-width="2.3" stroke-linejoin="round" stroke-linecap="round" />
<polyline points="488,654.7 490,657.7 495,656.7 495,647.7" fill="none" stroke="#4a4a4a" stroke-width="2.3" stroke-linejoin="round" stroke-linecap="round" />
<polyline points="501,631 501,663" fill="none" stroke="#4a4a4a" stroke-width="2.3" stroke-linejoin="round" stroke-linecap="round" />
<polyline points="501,663 503,666 508,665 508,656" fill="none" stroke="#4a4a4a" stroke-width="2.3" stroke-linejoin="round" stroke-linecap="round" />
<polyline points="514.1,639.6 514.1,671.5" fill="none" stroke="#4a4a4a" stroke-width="2.3" stroke-linejoin="round" stroke-linecap="round" />
<polyline points="514.1,671.5 516.1,674.5 521.1,673.5 521.1,664.5" fill="none" stroke="#4a4a4a" stroke-width="2.3" stroke-linejoin="round" stroke-linecap="round" />
<polyline points="526.3,647.6 526.3,679.3" fill="none" stroke="#4a4a4a" stroke-width="2.3" stroke-linejoin="round" stroke-linecap="round" />
<polyline points="526.3,679.3 528.3,682.3 533.3,681.3 533.3,672.3" fill="none" stroke="#4a4a4a" stroke-width="2.3" stroke-linejoin="round" stroke-linecap="round" />
<polyline points="539.4,654 539.4,687.7" fill="none" stroke="#4a4a4a" stroke-width="2.3" stroke-linejoin="round" stroke-linecap="round" />
<polyline points="539.4,687.7 541.4,690.7 546.4,689.7 546.4,680.7" fill="none" stroke="#4a4a4a" stroke-width="2.3" stroke-linejoin="round" stroke-linecap="round" />
<polyline points="552.4,654 552.4,696" fill="none" stroke="#4a4a4a" stroke-width="2.3" stroke-linejoin="round" stroke-linecap="round" />
<polyline points="552.4,696 554.4,699 559.4,698 559.4,689" fill="none" stroke="#4a4a4a" stroke-width="2.3" stroke-linejoin="round" stroke-linecap="round" />
<polyline points="382,567 540,671" fill="none" stroke="#4a4a4a" stroke-width="2.4" stroke-linejoin="round" stroke-linecap="round" />
<polyline points="384,578 545,684" fill="none" stroke="#4a4a4a" stroke-width="1.6" stroke-linejoin="round" stroke-linecap="round" />
<polyline points="568.5,659.7 568.5,693.1 571.5,696.1 576.5,693.1 576.5,657.7" fill="none" stroke="#4a4a4a" stroke-width="2.3" stroke-linejoin="round" stroke-linecap="round" />
<polyline points="580,651.1 580,687.1 583,690.1 588,687.1 588,649.1" fill="none" stroke="#4a4a4a" stroke-width="2.3" stroke-linejoin="round" stroke-linecap="round" />
<polyline points="591.5,642.5 591.5,681.2 594.5,684.2 599.5,681.2 599.5,640.5" fill="none" stroke="#4a4a4a" stroke-width="2.3" stroke-linejoin="round" stroke-linecap="round" />
<polyline points="603,634 603,675.3 606,678.3 611,675.3 611,632" fill="none" stroke="#4a4a4a" stroke-width="2.3" stroke-linejoin="round" stroke-linecap="round" />
<polyline points="614.5,627.7 614.5,669.4 617.5,672.4 622.5,669.4 622.5,625.7" fill="none" stroke="#4a4a4a" stroke-width="2.3" stroke-linejoin="round" stroke-linecap="round" />
<polyline points="626,622.6 626,663.4 629,666.4 634,663.4 634,620.6" fill="none" stroke="#4a4a4a" stroke-width="2.3" stroke-linejoin="round" stroke-linecap="round" />
<polyline points="637.5,617.4 637.5,657.5 640.5,660.5 645.5,657.5 645.5,615.4" fill="none" stroke="#4a4a4a" stroke-width="2.3" stroke-linejoin="round" stroke-linecap="round" />
<polyline points="649,612.3 649,651.6 652,654.6 657,651.6 657,610.3" fill="none" stroke="#4a4a4a" stroke-width="2.3" stroke-linejoin="round" stroke-linecap="round" />
<polyline points="660.5,607.2 660.5,645.6 663.5,648.6 668.5,645.6 668.5,605.2" fill="none" stroke="#4a4a4a" stroke-width="2.3" stroke-linejoin="round" stroke-linecap="round" />
<polyline points="672,601.3 672,639.7 675,642.7 680,639.7 680,599.3" fill="none" stroke="#4a4a4a" stroke-width="2.3" stroke-linejoin="round" stroke-linecap="round" />
<polyline points="683.5,595.4 683.5,633.8 686.5,636.8 691.5,633.8 691.5,593.4" fill="none" stroke="#4a4a4a" stroke-width="2.3" stroke-linejoin="round" stroke-linecap="round" />
<polyline points="695,589.4 695,627.9 698,630.9 703,627.9 703,587.4" fill="none" stroke="#4a4a4a" stroke-width="2.3" stroke-linejoin="round" stroke-linecap="round" />
<polyline points="706.5,583.5 706.5,621.9 709.5,624.9 714.5,621.9 714.5,581.5" fill="none" stroke="#4a4a4a" stroke-width="2.3" stroke-linejoin="round" stroke-linecap="round" />
<polyline points="536,654 545,662 560,666 575,660 607,631 661,607 690,594 721,576 723,566 716,556" fill="none" stroke="#444" stroke-width="3.2" stroke-linejoin="round" stroke-linecap="round" />
<polyline points="536,654 545,662 560,666 575,660 607,631 661,607 690,594 721,576 723,566 716,556" fill="none" stroke="#fff" stroke-width="1.0" stroke-linejoin="round" stroke-linecap="round" />
<polyline points="536,662 545,670 560,674 575,668 607,639 661,615 690,602 721,584 723,574 716,564" fill="none" stroke="#444" stroke-width="3.2" stroke-linejoin="round" stroke-linecap="round" />
<polyline points="536,662 545,670 560,674 575,668 607,639 661,615 690,602 721,584 723,574 716,564" fill="none" stroke="#fff" stroke-width="1.0" stroke-linejoin="round" stroke-linecap="round" />
<polyline points="536,670 545,678 560,682 575,676 607,647 661,623 690,610 721,592 723,582 716,572" fill="none" stroke="#444" stroke-width="3.2" stroke-linejoin="round" stroke-linecap="round" />
<polyline points="536,670 545,678 560,682 575,676 607,647 661,623 690,610 721,592 723,582 716,572" fill="none" stroke="#fff" stroke-width="1.0" stroke-linejoin="round" stroke-linecap="round" />
<polyline points="376,549 536,654" fill="none" stroke="#444" stroke-width="3.2" stroke-linejoin="round" stroke-linecap="round" />
<polyline points="376,549 536,654" fill="none" stroke="#fff" stroke-width="1.0" stroke-linejoin="round" stroke-linecap="round" />
<path d="M350,0" fill="none" stroke="none" stroke-width="1.3" stroke-linejoin="round" stroke-linecap="round" />
<path d="M404,606 L409,602 L446,624 L450,630 L447,637 L440,638 L406,618 Z" fill="#fff" stroke="#3a3a3a" stroke-width="1.8199999999999998" stroke-linejoin="round" stroke-linecap="round" />
<path d="M410,610 L444,630 M420,619 L440,630" fill="none" stroke="#666" stroke-width="1.0" stroke-linejoin="round" stroke-linecap="round" />
<ellipse cx="430" cy="630" rx="4" ry="5" transform="rotate(20 430 630)" fill="#fff" stroke="#3a3a3a" stroke-width="1.56" />
<path d="M382,590 L388,588 Q395,595 390,605 L383,606" fill="#fff" stroke="#3a3a3a" stroke-width="1.8199999999999998" stroke-linejoin="round" stroke-linecap="round" />
<ellipse cx="382" cy="597.7" rx="7" ry="7.8" transform="rotate(-10 382 597.7)" fill="#fff" stroke="#3a3a3a" stroke-width="2.08" />
<ellipse cx="382" cy="597.7" rx="3.5" ry="4" transform="rotate(-10 382 597.7)" fill="#ddd" stroke="#3a3a3a" stroke-width="1.3" />
<path d="M383,611 L389,609 Q396,616 391,626 L384,627" fill="#fff" stroke="#3a3a3a" stroke-width="1.8199999999999998" stroke-linejoin="round" stroke-linecap="round" />
<ellipse cx="383" cy="618.6" rx="7" ry="7.8" transform="rotate(-10 383 618.6)" fill="#fff" stroke="#3a3a3a" stroke-width="2.08" />
<ellipse cx="383" cy="618.6" rx="3.5" ry="4" transform="rotate(-10 383 618.6)" fill="#ddd" stroke="#3a3a3a" stroke-width="1.3" />
<path d="M385,592 L392,590 M385,612 L392,610 M386,624 L405,614" fill="none" stroke="#3a3a3a" stroke-width="1.4300000000000002" stroke-linejoin="round" stroke-linecap="round" />
<path d="M636,645.4 L641,640 L684.8,616.2 L707.2,620.6 L709,624 L709,639.9 L706,645 L648,677 L643.7,678.5 L639,672 L635,652 Z" fill="#fff" stroke="#3a3a3a" stroke-width="1.9500000000000002" stroke-linejoin="round" stroke-linecap="round" />
<path d="M640,643.6 L684.8,616.2 L707.2,620.6 M641,652 L707,625 M643,659 L709,633 M650,674 L706,644" fill="none" stroke="#555" stroke-width="1.0" stroke-linejoin="round" stroke-linecap="round" />
<path d="M641,652 L643.7,678.5" fill="none" stroke="#555" stroke-width="1.0" stroke-linejoin="round" stroke-linecap="round" />
<polyline points="1039.4,476.8 1000.7,501 1159.5,592 1319.4,496.3 1280.6,477" fill="none" stroke="#4a4a4a" stroke-width="2.6" stroke-linejoin="round" stroke-linecap="round" />
<polyline points="1039.4,476.8 1000.7,501 1159.5,592 1319.4,496.3 1280.6,477" fill="none" stroke="#fff" stroke-width="0.9" stroke-linejoin="round" stroke-linecap="round" />
<polyline points="1004,503 1004.5,520 1008,524.3 1115,576.6 1115,567" fill="none" stroke="#4a4a4a" stroke-width="2.4" stroke-linejoin="round" stroke-linecap="round" />
<polyline points="1004,503 1004.5,520 1008,524.3 1115,576.6 1115,567" fill="none" stroke="#fff" stroke-width="0.8" stroke-linejoin="round" stroke-linecap="round" />
<polyline points="1057.8,535 1058.8,546.5" fill="none" stroke="#4a4a4a" stroke-width="2.2" stroke-linejoin="round" stroke-linecap="round" />
<polyline points="1057.8,535 1058.8,546.5" fill="none" stroke="#fff" stroke-width="0.6" stroke-linejoin="round" stroke-linecap="round" />
<polyline points="1039.4,477.8 1039.4,489.4 1044,494.2 1186,571.4" fill="none" stroke="#4a4a4a" stroke-width="2.4" stroke-linejoin="round" stroke-linecap="round" />
<polyline points="1039.4,477.8 1039.4,489.4 1044,494.2 1186,571.4" fill="none" stroke="#fff" stroke-width="0.8" stroke-linejoin="round" stroke-linecap="round" />
<polyline points="1183.8,530.2 1232.2,559.3 1232,567" fill="none" stroke="#4a4a4a" stroke-width="2.4" stroke-linejoin="round" stroke-linecap="round" />
<polyline points="1183.8,530.2 1232.2,559.3 1232,567" fill="none" stroke="#fff" stroke-width="0.8" stroke-linejoin="round" stroke-linecap="round" />
<polyline points="1239.5,506 1280.6,523 1281,531" fill="none" stroke="#4a4a4a" stroke-width="2.4" stroke-linejoin="round" stroke-linecap="round" />
<polyline points="1239.5,506 1280.6,523 1281,531" fill="none" stroke="#fff" stroke-width="0.8" stroke-linejoin="round" stroke-linecap="round" />
<polyline points="1193,578 1193,586" fill="none" stroke="#555" stroke-width="1.8" stroke-linejoin="round" stroke-linecap="round" />
<polyline points="1277,528 1277,536" fill="none" stroke="#555" stroke-width="1.8" stroke-linejoin="round" stroke-linecap="round" />
<polygon points="997.3,441.4 1000,452 1063,489 1067,485 1159.5,548 1213,522 1213,514 1275,482 1325,447 1325.4,436.6 1159.5,538.3" fill="#fff" stroke="#3a3a3a" stroke-width="1.8199999999999998" stroke-linejoin="round" />
<polygon points="997.3,441.4 1067.5,401.4 1072,404 1099,387 1099,382 1166.8,343.3 1325.4,436.6 1159.5,538.3" fill="#fff" stroke="#3a3a3a" stroke-width="1.9500000000000002" stroke-linejoin="round" />
<polygon points="1019,443.8 1066,413 1101,393 1164.4,354.2 1304.8,439 1159.5,523.8" fill="#fff" stroke="#555" stroke-width="1.1" stroke-linejoin="round" />
<polygon points="1026.2,451.7 1053.8,434.7 1188.7,512.5 1161,528.7" fill="#c9c9c9" stroke="#777" stroke-width="1.0" stroke-linejoin="round" />
<path d="M1026.2,451.7 L1161,528.7 M1031.7,448.3 L1166.6,525.4 M1037.2,444.9 L1172.1,522.2 M1042.7,441.5 L1177.6,519 M1048.3,438.1 L1183.1,515.7 M1053.8,434.7 L1188.7,512.5 M1026.2,451.7 L1053.8,434.7 M1031,454.5 L1058.6,437.5 M1035.8,457.2 L1063.4,440.3 M1040.6,460 L1068.2,443 M1045.4,462.7 L1073.1,445.8 M1050.3,465.5 L1077.9,448.6 M1055.1,468.2 L1082.7,451.4 M1059.9,470.9 L1087.5,454.2 M1064.7,473.7 L1092.3,456.9 M1069.5,476.4 L1097.1,459.7 M1074.3,479.2 L1102,462.5 M1079.2,481.9 L1106.8,465.3 M1084,484.7 L1111.6,468.1 M1088.8,487.4 L1116.4,470.8 M1093.6,490.2 L1121.2,473.6 M1098.4,492.9 L1126,476.4 M1103.2,495.7 L1130.9,479.2 M1108.1,498.4 L1135.7,482 M1112.9,501.2 L1140.5,484.7 M1117.7,503.9 L1145.3,487.5 M1122.5,506.7 L1150.1,490.3 M1127.3,509.4 L1154.9,493.1 M1132.1,512.2 L1159.8,495.8 M1137,514.9 L1164.6,498.6 M1141.8,517.7 L1169.4,501.4 M1146.6,520.4 L1174.2,504.2 M1151.4,523.2 L1179,507 M1156.2,525.9 L1183.8,509.7 M1161,528.7 L1188.7,512.5" fill="none" stroke="#7a7a7a" stroke-width="1.0" stroke-linejoin="round" stroke-linecap="round" />
<path d="M1029.7,451.4 a1.6,1.3 0 1,0 3.2,0 a1.6,1.3 0 1,0 -3.2,0 M1034.6,454.1 a1.6,1.3 0 1,0 3.2,0 a1.6,1.3 0 1,0 -3.2,0 M1039.4,456.9 a1.6,1.3 0 1,0 3.2,0 a1.6,1.3 0 1,0 -3.2,0 M1044.2,459.6 a1.6,1.3 0 1,0 3.2,0 a1.6,1.3 0 1,0 -3.2,0 M1049,462.4 a1.6,1.3 0 1,0 3.2,0 a1.6,1.3 0 1,0 -3.2,0 M1053.8,465.1 a1.6,1.3 0 1,0 3.2,0 a1.6,1.3 0 1,0 -3.2,0 M1058.6,467.9 a1.6,1.3 0 1,0 3.2,0 a1.6,1.3 0 1,0 -3.2,0 M1063.5,470.6 a1.6,1.3 0 1,0 3.2,0 a1.6,1.3 0 1,0 -3.2,0 M1068.3,473.4 a1.6,1.3 0 1,0 3.2,0 a1.6,1.3 0 1,0 -3.2,0 M1073.1,476.1 a1.6,1.3 0 1,0 3.2,0 a1.6,1.3 0 1,0 -3.2,0 M1077.9,478.9 a1.6,1.3 0 1,0 3.2,0 a1.6,1.3 0 1,0 -3.2,0 M1082.7,481.6 a1.6,1.3 0 1,0 3.2,0 a1.6,1.3 0 1,0 -3.2,0 M1087.5,484.4 a1.6,1.3 0 1,0 3.2,0 a1.6,1.3 0 1,0 -3.2,0 M1092.4,487.2 a1.6,1.3 0 1,0 3.2,0 a1.6,1.3 0 1,0 -3.2,0 M1097.2,489.9 a1.6,1.3 0 1,0 3.2,0 a1.6,1.3 0 1,0 -3.2,0 M1102,492.7 a1.6,1.3 0 1,0 3.2,0 a1.6,1.3 0 1,0 -3.2,0 M1106.8,495.4 a1.6,1.3 0 1,0 3.2,0 a1.6,1.3 0 1,0 -3.2,0 M1111.6,498.2 a1.6,1.3 0 1,0 3.2,0 a1.6,1.3 0 1,0 -3.2,0 M1116.4,500.9 a1.6,1.3 0 1,0 3.2,0 a1.6,1.3 0 1,0 -3.2,0 M1121.3,503.7 a1.6,1.3 0 1,0 3.2,0 a1.6,1.3 0 1,0 -3.2,0 M1126.1,506.4 a1.6,1.3 0 1,0 3.2,0 a1.6,1.3 0 1,0 -3.2,0 M1130.9,509.2 a1.6,1.3 0 1,0 3.2,0 a1.6,1.3 0 1,0 -3.2,0 M1135.7,511.9 a1.6,1.3 0 1,0 3.2,0 a1.6,1.3 0 1,0 -3.2,0 M1140.5,514.7 a1.6,1.3 0 1,0 3.2,0 a1.6,1.3 0 1,0 -3.2,0 M1145.4,517.4 a1.6,1.3 0 1,0 3.2,0 a1.6,1.3 0 1,0 -3.2,0 M1150.2,520.2 a1.6,1.3 0 1,0 3.2,0 a1.6,1.3 0 1,0 -3.2,0 M1155,522.9 a1.6,1.3 0 1,0 3.2,0 a1.6,1.3 0 1,0 -3.2,0 M1159.8,525.7 a1.6,1.3 0 1,0 3.2,0 a1.6,1.3 0 1,0 -3.2,0 M1035.3,448 a1.6,1.3 0 1,0 3.2,0 a1.6,1.3 0 1,0 -3.2,0 M1040.1,450.7 a1.6,1.3 0 1,0 3.2,0 a1.6,1.3 0 1,0 -3.2,0 M1044.9,453.5 a1.6,1.3 0 1,0 3.2,0 a1.6,1.3 0 1,0 -3.2,0 M1049.7,456.3 a1.6,1.3 0 1,0 3.2,0 a1.6,1.3 0 1,0 -3.2,0 M1054.5,459 a1.6,1.3 0 1,0 3.2,0 a1.6,1.3 0 1,0 -3.2,0 M1059.4,461.8 a1.6,1.3 0 1,0 3.2,0 a1.6,1.3 0 1,0 -3.2,0 M1064.2,464.5 a1.6,1.3 0 1,0 3.2,0 a1.6,1.3 0 1,0 -3.2,0 M1069,467.3 a1.6,1.3 0 1,0 3.2,0 a1.6,1.3 0 1,0 -3.2,0 M1073.8,470 a1.6,1.3 0 1,0 3.2,0 a1.6,1.3 0 1,0 -3.2,0 M1078.6,472.8 a1.6,1.3 0 1,0 3.2,0 a1.6,1.3 0 1,0 -3.2,0 M1083.4,475.6 a1.6,1.3 0 1,0 3.2,0 a1.6,1.3 0 1,0 -3.2,0 M1088.3,478.3 a1.6,1.3 0 1,0 3.2,0 a1.6,1.3 0 1,0 -3.2,0 M1093.1,481.1 a1.6,1.3 0 1,0 3.2,0 a1.6,1.3 0 1,0 -3.2,0 M1097.9,483.8 a1.6,1.3 0 1,0 3.2,0 a1.6,1.3 0 1,0 -3.2,0 M1102.7,486.6 a1.6,1.3 0 1,0 3.2,0 a1.6,1.3 0 1,0 -3.2,0 M1107.5,489.3 a1.6,1.3 0 1,0 3.2,0 a1.6,1.3 0 1,0 -3.2,0 M1112.3,492.1 a1.6,1.3 0 1,0 3.2,0 a1.6,1.3 0 1,0 -3.2,0 M1117.2,494.9 a1.6,1.3 0 1,0 3.2,0 a1.6,1.3 0 1,0 -3.2,0 M1122,497.6 a1.6,1.3 0 1,0 3.2,0 a1.6,1.3 0 1,0 -3.2,0 M1126.8,500.4 a1.6,1.3 0 1,0 3.2,0 a1.6,1.3 0 1,0 -3.2,0 M1131.6,503.1 a1.6,1.3 0 1,0 3.2,0 a1.6,1.3 0 1,0 -3.2,0 M1136.4,505.9 a1.6,1.3 0 1,0 3.2,0 a1.6,1.3 0 1,0 -3.2,0 M1141.2,508.6 a1.6,1.3 0 1,0 3.2,0 a1.6,1.3 0 1,0 -3.2,0 M1146.1,511.4 a1.6,1.3 0 1,0 3.2,0 a1.6,1.3 0 1,0 -3.2,0 M1150.9,514.2 a1.6,1.3 0 1,0 3.2,0 a1.6,1.3 0 1,0 -3.2,0 M1155.7,516.9 a1.6,1.3 0 1,0 3.2,0 a1.6,1.3 0 1,0 -3.2,0 M1160.5,519.7 a1.6,1.3 0 1,0 3.2,0 a1.6,1.3 0 1,0 -3.2,0 M1165.3,522.4 a1.6,1.3 0 1,0 3.2,0 a1.6,1.3 0 1,0 -3.2,0 M1040.8,444.6 a1.6,1.3 0 1,0 3.2,0 a1.6,1.3 0 1,0 -3.2,0 M1045.6,447.4 a1.6,1.3 0 1,0 3.2,0 a1.6,1.3 0 1,0 -3.2,0 M1050.4,450.1 a1.6,1.3 0 1,0 3.2,0 a1.6,1.3 0 1,0 -3.2,0 M1055.2,452.9 a1.6,1.3 0 1,0 3.2,0 a1.6,1.3 0 1,0 -3.2,0 M1060.1,455.6 a1.6,1.3 0 1,0 3.2,0 a1.6,1.3 0 1,0 -3.2,0 M1064.9,458.4 a1.6,1.3 0 1,0 3.2,0 a1.6,1.3 0 1,0 -3.2,0 M1069.7,461.2 a1.6,1.3 0 1,0 3.2,0 a1.6,1.3 0 1,0 -3.2,0 M1074.5,463.9 a1.6,1.3 0 1,0 3.2,0 a1.6,1.3 0 1,0 -3.2,0 M1079.3,466.7 a1.6,1.3 0 1,0 3.2,0 a1.6,1.3 0 1,0 -3.2,0 M1084.1,469.5 a1.6,1.3 0 1,0 3.2,0 a1.6,1.3 0 1,0 -3.2,0 M1089,472.2 a1.6,1.3 0 1,0 3.2,0 a1.6,1.3 0 1,0 -3.2,0 M1093.8,475 a1.6,1.3 0 1,0 3.2,0 a1.6,1.3 0 1,0 -3.2,0 M1098.6,477.8 a1.6,1.3 0 1,0 3.2,0 a1.6,1.3 0 1,0 -3.2,0 M1103.4,480.5 a1.6,1.3 0 1,0 3.2,0 a1.6,1.3 0 1,0 -3.2,0 M1108.2,483.3 a1.6,1.3 0 1,0 3.2,0 a1.6,1.3 0 1,0 -3.2,0 M1113,486 a1.6,1.3 0 1,0 3.2,0 a1.6,1.3 0 1,0 -3.2,0 M1117.9,488.8 a1.6,1.3 0 1,0 3.2,0 a1.6,1.3 0 1,0 -3.2,0 M1122.7,491.6 a1.6,1.3 0 1,0 3.2,0 a1.6,1.3 0 1,0 -3.2,0 M1127.5,494.3 a1.6,1.3 0 1,0 3.2,0 a1.6,1.3 0 1,0 -3.2,0 M1132.3,497.1 a1.6,1.3 0 1,0 3.2,0 a1.6,1.3 0 1,0 -3.2,0 M1137.1,499.9 a1.6,1.3 0 1,0 3.2,0 a1.6,1.3 0 1,0 -3.2,0 M1141.9,502.6 a1.6,1.3 0 1,0 3.2,0 a1.6,1.3 0 1,0 -3.2,0 M1146.8,505.4 a1.6,1.3 0 1,0 3.2,0 a1.6,1.3 0 1,0 -3.2,0 M1151.6,508.2 a1.6,1.3 0 1,0 3.2,0 a1.6,1.3 0 1,0 -3.2,0 M1156.4,510.9 a1.6,1.3 0 1,0 3.2,0 a1.6,1.3 0 1,0 -3.2,0 M1161.2,513.7 a1.6,1.3 0 1,0 3.2,0 a1.6,1.3 0 1,0 -3.2,0 M1166,516.4 a1.6,1.3 0 1,0 3.2,0 a1.6,1.3 0 1,0 -3.2,0 M1170.8,519.2 a1.6,1.3 0 1,0 3.2,0 a1.6,1.3 0 1,0 -3.2,0 M1046.3,441.2 a1.6,1.3 0 1,0 3.2,0 a1.6,1.3 0 1,0 -3.2,0 M1051.1,444 a1.6,1.3 0 1,0 3.2,0 a1.6,1.3 0 1,0 -3.2,0 M1056,446.7 a1.6,1.3 0 1,0 3.2,0 a1.6,1.3 0 1,0 -3.2,0 M1060.8,449.5 a1.6,1.3 0 1,0 3.2,0 a1.6,1.3 0 1,0 -3.2,0 M1065.6,452.3 a1.6,1.3 0 1,0 3.2,0 a1.6,1.3 0 1,0 -3.2,0 M1070.4,455 a1.6,1.3 0 1,0 3.2,0 a1.6,1.3 0 1,0 -3.2,0 M1075.2,457.8 a1.6,1.3 0 1,0 3.2,0 a1.6,1.3 0 1,0 -3.2,0 M1080,460.6 a1.6,1.3 0 1,0 3.2,0 a1.6,1.3 0 1,0 -3.2,0 M1084.9,463.4 a1.6,1.3 0 1,0 3.2,0 a1.6,1.3 0 1,0 -3.2,0 M1089.7,466.1 a1.6,1.3 0 1,0 3.2,0 a1.6,1.3 0 1,0 -3.2,0 M1094.5,468.9 a1.6,1.3 0 1,0 3.2,0 a1.6,1.3 0 1,0 -3.2,0 M1099.3,471.7 a1.6,1.3 0 1,0 3.2,0 a1.6,1.3 0 1,0 -3.2,0 M1104.1,474.4 a1.6,1.3 0 1,0 3.2,0 a1.6,1.3 0 1,0 -3.2,0 M1108.9,477.2 a1.6,1.3 0 1,0 3.2,0 a1.6,1.3 0 1,0 -3.2,0 M1113.8,480 a1.6,1.3 0 1,0 3.2,0 a1.6,1.3 0 1,0 -3.2,0 M1118.6,482.7 a1.6,1.3 0 1,0 3.2,0 a1.6,1.3 0 1,0 -3.2,0 M1123.4,485.5 a1.6,1.3 0 1,0 3.2,0 a1.6,1.3 0 1,0 -3.2,0 M1128.2,488.3 a1.6,1.3 0 1,0 3.2,0 a1.6,1.3 0 1,0 -3.2,0 M1133,491 a1.6,1.3 0 1,0 3.2,0 a1.6,1.3 0 1,0 -3.2,0 M1137.8,493.8 a1.6,1.3 0 1,0 3.2,0 a1.6,1.3 0 1,0 -3.2,0 M1142.6,496.6 a1.6,1.3 0 1,0 3.2,0 a1.6,1.3 0 1,0 -3.2,0 M1147.5,499.4 a1.6,1.3 0 1,0 3.2,0 a1.6,1.3 0 1,0 -3.2,0 M1152.3,502.1 a1.6,1.3 0 1,0 3.2,0 a1.6,1.3 0 1,0 -3.2,0 M1157.1,504.9 a1.6,1.3 0 1,0 3.2,0 a1.6,1.3 0 1,0 -3.2,0 M1161.9,507.7 a1.6,1.3 0 1,0 3.2,0 a1.6,1.3 0 1,0 -3.2,0 M1166.7,510.4 a1.6,1.3 0 1,0 3.2,0 a1.6,1.3 0 1,0 -3.2,0 M1171.5,513.2 a1.6,1.3 0 1,0 3.2,0 a1.6,1.3 0 1,0 -3.2,0 M1176.4,516 a1.6,1.3 0 1,0 3.2,0 a1.6,1.3 0 1,0 -3.2,0 M1051.8,437.8 a1.6,1.3 0 1,0 3.2,0 a1.6,1.3 0 1,0 -3.2,0 M1056.7,440.6 a1.6,1.3 0 1,0 3.2,0 a1.6,1.3 0 1,0 -3.2,0 M1061.5,443.3 a1.6,1.3 0 1,0 3.2,0 a1.6,1.3 0 1,0 -3.2,0 M1066.3,446.1 a1.6,1.3 0 1,0 3.2,0 a1.6,1.3 0 1,0 -3.2,0 M1071.1,448.9 a1.6,1.3 0 1,0 3.2,0 a1.6,1.3 0 1,0 -3.2,0 M1075.9,451.7 a1.6,1.3 0 1,0 3.2,0 a1.6,1.3 0 1,0 -3.2,0 M1080.7,454.5 a1.6,1.3 0 1,0 3.2,0 a1.6,1.3 0 1,0 -3.2,0 M1085.6,457.2 a1.6,1.3 0 1,0 3.2,0 a1.6,1.3 0 1,0 -3.2,0 M1090.4,460 a1.6,1.3 0 1,0 3.2,0 a1.6,1.3 0 1,0 -3.2,0 M1095.2,462.8 a1.6,1.3 0 1,0 3.2,0 a1.6,1.3 0 1,0 -3.2,0 M1100,465.6 a1.6,1.3 0 1,0 3.2,0 a1.6,1.3 0 1,0 -3.2,0 M1104.8,468.3 a1.6,1.3 0 1,0 3.2,0 a1.6,1.3 0 1,0 -3.2,0 M1109.6,471.1 a1.6,1.3 0 1,0 3.2,0 a1.6,1.3 0 1,0 -3.2,0 M1114.5,473.9 a1.6,1.3 0 1,0 3.2,0 a1.6,1.3 0 1,0 -3.2,0 M1119.3,476.7 a1.6,1.3 0 1,0 3.2,0 a1.6,1.3 0 1,0 -3.2,0 M1124.1,479.4 a1.6,1.3 0 1,0 3.2,0 a1.6,1.3 0 1,0 -3.2,0 M1128.9,482.2 a1.6,1.3 0 1,0 3.2,0 a1.6,1.3 0 1,0 -3.2,0 M1133.7,485 a1.6,1.3 0 1,0 3.2,0 a1.6,1.3 0 1,0 -3.2,0 M1138.5,487.8 a1.6,1.3 0 1,0 3.2,0 a1.6,1.3 0 1,0 -3.2,0 M1143.4,490.5 a1.6,1.3 0 1,0 3.2,0 a1.6,1.3 0 1,0 -3.2,0 M1148.2,493.3 a1.6,1.3 0 1,0 3.2,0 a1.6,1.3 0 1,0 -3.2,0 M1153,496.1 a1.6,1.3 0 1,0 3.2,0 a1.6,1.3 0 1,0 -3.2,0 M1157.8,498.9 a1.6,1.3 0 1,0 3.2,0 a1.6,1.3 0 1,0 -3.2,0 M1162.6,501.6 a1.6,1.3 0 1,0 3.2,0 a1.6,1.3 0 1,0 -3.2,0 M1167.4,504.4 a1.6,1.3 0 1,0 3.2,0 a1.6,1.3 0 1,0 -3.2,0 M1172.3,507.2 a1.6,1.3 0 1,0 3.2,0 a1.6,1.3 0 1,0 -3.2,0 M1177.1,510 a1.6,1.3 0 1,0 3.2,0 a1.6,1.3 0 1,0 -3.2,0 M1181.9,512.7 a1.6,1.3 0 1,0 3.2,0 a1.6,1.3 0 1,0 -3.2,0" fill="#fff" stroke="none"/>
<polygon points="1065.4,428.5 1112,399.9 1246.8,479.6 1200.3,506.7" fill="#c9c9c9" stroke="#777" stroke-width="1.0" stroke-linejoin="round" />
<path d="M1065.4,428.5 L1200.3,506.7 M1073.2,423.8 L1208,502.2 M1080.9,419 L1215.8,497.7 M1088.7,414.2 L1223.5,493.1 M1096.4,409.5 L1231.3,488.6 M1104.2,404.7 L1239,484.1 M1112,399.9 L1246.8,479.6 M1065.4,428.5 L1112,399.9 M1070.2,431.3 L1116.8,402.8 M1075.1,434.1 L1121.6,405.6 M1079.9,436.9 L1126.4,408.4 M1084.7,439.7 L1131.2,411.3 M1089.5,442.5 L1136,414.1 M1094.3,445.3 L1140.8,417 M1099.1,448.1 L1145.7,419.8 M1104,450.9 L1150.5,422.7 M1108.8,453.7 L1155.3,425.5 M1113.6,456.5 L1160.1,428.4 M1118.4,459.3 L1164.9,431.2 M1123.2,462.1 L1169.7,434 M1128,464.8 L1174.6,436.9 M1132.9,467.6 L1179.4,439.7 M1137.7,470.4 L1184.2,442.6 M1142.5,473.2 L1189,445.4 M1147.3,476 L1193.8,448.3 M1152.1,478.8 L1198.6,451.1 M1156.9,481.6 L1203.4,454 M1161.8,484.4 L1208.3,456.8 M1166.6,487.2 L1213.1,459.7 M1171.4,490 L1217.9,462.5 M1176.2,492.8 L1222.7,465.3 M1181,495.6 L1227.5,468.2 M1185.8,498.4 L1232.3,471 M1190.6,501.1 L1237.1,473.9 M1195.5,503.9 L1242,476.7 M1200.3,506.7 L1246.8,479.6" fill="none" stroke="#7a7a7a" stroke-width="1.0" stroke-linejoin="round" stroke-linecap="round" />
<path d="M1070.1,427.6 a1.6,1.3 0 1,0 3.2,0 a1.6,1.3 0 1,0 -3.2,0 M1074.9,430.4 a1.6,1.3 0 1,0 3.2,0 a1.6,1.3 0 1,0 -3.2,0 M1079.7,433.2 a1.6,1.3 0 1,0 3.2,0 a1.6,1.3 0 1,0 -3.2,0 M1084.6,436 a1.6,1.3 0 1,0 3.2,0 a1.6,1.3 0 1,0 -3.2,0 M1089.4,438.7 a1.6,1.3 0 1,0 3.2,0 a1.6,1.3 0 1,0 -3.2,0 M1094.2,441.5 a1.6,1.3 0 1,0 3.2,0 a1.6,1.3 0 1,0 -3.2,0 M1099,444.3 a1.6,1.3 0 1,0 3.2,0 a1.6,1.3 0 1,0 -3.2,0 M1103.8,447.1 a1.6,1.3 0 1,0 3.2,0 a1.6,1.3 0 1,0 -3.2,0 M1108.6,449.9 a1.6,1.3 0 1,0 3.2,0 a1.6,1.3 0 1,0 -3.2,0 M1113.5,452.7 a1.6,1.3 0 1,0 3.2,0 a1.6,1.3 0 1,0 -3.2,0 M1118.3,455.5 a1.6,1.3 0 1,0 3.2,0 a1.6,1.3 0 1,0 -3.2,0 M1123.1,458.3 a1.6,1.3 0 1,0 3.2,0 a1.6,1.3 0 1,0 -3.2,0 M1127.9,461.1 a1.6,1.3 0 1,0 3.2,0 a1.6,1.3 0 1,0 -3.2,0 M1132.7,463.9 a1.6,1.3 0 1,0 3.2,0 a1.6,1.3 0 1,0 -3.2,0 M1137.5,466.7 a1.6,1.3 0 1,0 3.2,0 a1.6,1.3 0 1,0 -3.2,0 M1142.4,469.5 a1.6,1.3 0 1,0 3.2,0 a1.6,1.3 0 1,0 -3.2,0 M1147.2,472.3 a1.6,1.3 0 1,0 3.2,0 a1.6,1.3 0 1,0 -3.2,0 M1152,475.1 a1.6,1.3 0 1,0 3.2,0 a1.6,1.3 0 1,0 -3.2,0 M1156.8,477.9 a1.6,1.3 0 1,0 3.2,0 a1.6,1.3 0 1,0 -3.2,0 M1161.6,480.7 a1.6,1.3 0 1,0 3.2,0 a1.6,1.3 0 1,0 -3.2,0 M1166.4,483.5 a1.6,1.3 0 1,0 3.2,0 a1.6,1.3 0 1,0 -3.2,0 M1171.3,486.3 a1.6,1.3 0 1,0 3.2,0 a1.6,1.3 0 1,0 -3.2,0 M1176.1,489.1 a1.6,1.3 0 1,0 3.2,0 a1.6,1.3 0 1,0 -3.2,0 M1180.9,491.9 a1.6,1.3 0 1,0 3.2,0 a1.6,1.3 0 1,0 -3.2,0 M1185.7,494.7 a1.6,1.3 0 1,0 3.2,0 a1.6,1.3 0 1,0 -3.2,0 M1190.5,497.5 a1.6,1.3 0 1,0 3.2,0 a1.6,1.3 0 1,0 -3.2,0 M1195.3,500.3 a1.6,1.3 0 1,0 3.2,0 a1.6,1.3 0 1,0 -3.2,0 M1200.1,503.1 a1.6,1.3 0 1,0 3.2,0 a1.6,1.3 0 1,0 -3.2,0 M1077.9,422.8 a1.6,1.3 0 1,0 3.2,0 a1.6,1.3 0 1,0 -3.2,0 M1082.7,425.6 a1.6,1.3 0 1,0 3.2,0 a1.6,1.3 0 1,0 -3.2,0 M1087.5,428.4 a1.6,1.3 0 1,0 3.2,0 a1.6,1.3 0 1,0 -3.2,0 M1092.3,431.2 a1.6,1.3 0 1,0 3.2,0 a1.6,1.3 0 1,0 -3.2,0 M1097.1,434 a1.6,1.3 0 1,0 3.2,0 a1.6,1.3 0 1,0 -3.2,0 M1101.9,436.8 a1.6,1.3 0 1,0 3.2,0 a1.6,1.3 0 1,0 -3.2,0 M1106.8,439.6 a1.6,1.3 0 1,0 3.2,0 a1.6,1.3 0 1,0 -3.2,0 M1111.6,442.4 a1.6,1.3 0 1,0 3.2,0 a1.6,1.3 0 1,0 -3.2,0 M1116.4,445.2 a1.6,1.3 0 1,0 3.2,0 a1.6,1.3 0 1,0 -3.2,0 M1121.2,448 a1.6,1.3 0 1,0 3.2,0 a1.6,1.3 0 1,0 -3.2,0 M1126,450.8 a1.6,1.3 0 1,0 3.2,0 a1.6,1.3 0 1,0 -3.2,0 M1130.8,453.7 a1.6,1.3 0 1,0 3.2,0 a1.6,1.3 0 1,0 -3.2,0 M1135.7,456.5 a1.6,1.3 0 1,0 3.2,0 a1.6,1.3 0 1,0 -3.2,0 M1140.5,459.3 a1.6,1.3 0 1,0 3.2,0 a1.6,1.3 0 1,0 -3.2,0 M1145.3,462.1 a1.6,1.3 0 1,0 3.2,0 a1.6,1.3 0 1,0 -3.2,0 M1150.1,464.9 a1.6,1.3 0 1,0 3.2,0 a1.6,1.3 0 1,0 -3.2,0 M1154.9,467.7 a1.6,1.3 0 1,0 3.2,0 a1.6,1.3 0 1,0 -3.2,0 M1159.7,470.5 a1.6,1.3 0 1,0 3.2,0 a1.6,1.3 0 1,0 -3.2,0 M1164.6,473.3 a1.6,1.3 0 1,0 3.2,0 a1.6,1.3 0 1,0 -3.2,0 M1169.4,476.1 a1.6,1.3 0 1,0 3.2,0 a1.6,1.3 0 1,0 -3.2,0 M1174.2,478.9 a1.6,1.3 0 1,0 3.2,0 a1.6,1.3 0 1,0 -3.2,0 M1179,481.7 a1.6,1.3 0 1,0 3.2,0 a1.6,1.3 0 1,0 -3.2,0 M1183.8,484.5 a1.6,1.3 0 1,0 3.2,0 a1.6,1.3 0 1,0 -3.2,0 M1188.6,487.3 a1.6,1.3 0 1,0 3.2,0 a1.6,1.3 0 1,0 -3.2,0 M1193.4,490.1 a1.6,1.3 0 1,0 3.2,0 a1.6,1.3 0 1,0 -3.2,0 M1198.3,492.9 a1.6,1.3 0 1,0 3.2,0 a1.6,1.3 0 1,0 -3.2,0 M1203.1,495.7 a1.6,1.3 0 1,0 3.2,0 a1.6,1.3 0 1,0 -3.2,0 M1207.9,498.5 a1.6,1.3 0 1,0 3.2,0 a1.6,1.3 0 1,0 -3.2,0 M1085.6,418 a1.6,1.3 0 1,0 3.2,0 a1.6,1.3 0 1,0 -3.2,0 M1090.4,420.8 a1.6,1.3 0 1,0 3.2,0 a1.6,1.3 0 1,0 -3.2,0 M1095.3,423.7 a1.6,1.3 0 1,0 3.2,0 a1.6,1.3 0 1,0 -3.2,0 M1100.1,426.5 a1.6,1.3 0 1,0 3.2,0 a1.6,1.3 0 1,0 -3.2,0 M1104.9,429.3 a1.6,1.3 0 1,0 3.2,0 a1.6,1.3 0 1,0 -3.2,0 M1109.7,432.1 a1.6,1.3 0 1,0 3.2,0 a1.6,1.3 0 1,0 -3.2,0 M1114.5,434.9 a1.6,1.3 0 1,0 3.2,0 a1.6,1.3 0 1,0 -3.2,0 M1119.3,437.7 a1.6,1.3 0 1,0 3.2,0 a1.6,1.3 0 1,0 -3.2,0 M1124.1,440.5 a1.6,1.3 0 1,0 3.2,0 a1.6,1.3 0 1,0 -3.2,0 M1129,443.3 a1.6,1.3 0 1,0 3.2,0 a1.6,1.3 0 1,0 -3.2,0 M1133.8,446.2 a1.6,1.3 0 1,0 3.2,0 a1.6,1.3 0 1,0 -3.2,0 M1138.6,449 a1.6,1.3 0 1,0 3.2,0 a1.6,1.3 0 1,0 -3.2,0 M1143.4,451.8 a1.6,1.3 0 1,0 3.2,0 a1.6,1.3 0 1,0 -3.2,0 M1148.2,454.6 a1.6,1.3 0 1,0 3.2,0 a1.6,1.3 0 1,0 -3.2,0 M1153,457.4 a1.6,1.3 0 1,0 3.2,0 a1.6,1.3 0 1,0 -3.2,0 M1157.9,460.2 a1.6,1.3 0 1,0 3.2,0 a1.6,1.3 0 1,0 -3.2,0 M1162.7,463 a1.6,1.3 0 1,0 3.2,0 a1.6,1.3 0 1,0 -3.2,0 M1167.5,465.9 a1.6,1.3 0 1,0 3.2,0 a1.6,1.3 0 1,0 -3.2,0 M1172.3,468.7 a1.6,1.3 0 1,0 3.2,0 a1.6,1.3 0 1,0 -3.2,0 M1177.1,471.5 a1.6,1.3 0 1,0 3.2,0 a1.6,1.3 0 1,0 -3.2,0 M1181.9,474.3 a1.6,1.3 0 1,0 3.2,0 a1.6,1.3 0 1,0 -3.2,0 M1186.8,477.1 a1.6,1.3 0 1,0 3.2,0 a1.6,1.3 0 1,0 -3.2,0 M1191.6,479.9 a1.6,1.3 0 1,0 3.2,0 a1.6,1.3 0 1,0 -3.2,0 M1196.4,482.7 a1.6,1.3 0 1,0 3.2,0 a1.6,1.3 0 1,0 -3.2,0 M1201.2,485.6 a1.6,1.3 0 1,0 3.2,0 a1.6,1.3 0 1,0 -3.2,0 M1206,488.4 a1.6,1.3 0 1,0 3.2,0 a1.6,1.3 0 1,0 -3.2,0 M1210.8,491.2 a1.6,1.3 0 1,0 3.2,0 a1.6,1.3 0 1,0 -3.2,0 M1215.6,494 a1.6,1.3 0 1,0 3.2,0 a1.6,1.3 0 1,0 -3.2,0 M1093.4,413.3 a1.6,1.3 0 1,0 3.2,0 a1.6,1.3 0 1,0 -3.2,0 M1098.2,416.1 a1.6,1.3 0 1,0 3.2,0 a1.6,1.3 0 1,0 -3.2,0 M1103,418.9 a1.6,1.3 0 1,0 3.2,0 a1.6,1.3 0 1,0 -3.2,0 M1107.8,421.7 a1.6,1.3 0 1,0 3.2,0 a1.6,1.3 0 1,0 -3.2,0 M1112.6,424.5 a1.6,1.3 0 1,0 3.2,0 a1.6,1.3 0 1,0 -3.2,0 M1117.5,427.4 a1.6,1.3 0 1,0 3.2,0 a1.6,1.3 0 1,0 -3.2,0 M1122.3,430.2 a1.6,1.3 0 1,0 3.2,0 a1.6,1.3 0 1,0 -3.2,0 M1127.1,433 a1.6,1.3 0 1,0 3.2,0 a1.6,1.3 0 1,0 -3.2,0 M1131.9,435.8 a1.6,1.3 0 1,0 3.2,0 a1.6,1.3 0 1,0 -3.2,0 M1136.7,438.7 a1.6,1.3 0 1,0 3.2,0 a1.6,1.3 0 1,0 -3.2,0 M1141.5,441.5 a1.6,1.3 0 1,0 3.2,0 a1.6,1.3 0 1,0 -3.2,0 M1146.3,444.3 a1.6,1.3 0 1,0 3.2,0 a1.6,1.3 0 1,0 -3.2,0 M1151.2,447.1 a1.6,1.3 0 1,0 3.2,0 a1.6,1.3 0 1,0 -3.2,0 M1156,450 a1.6,1.3 0 1,0 3.2,0 a1.6,1.3 0 1,0 -3.2,0 M1160.8,452.8 a1.6,1.3 0 1,0 3.2,0 a1.6,1.3 0 1,0 -3.2,0 M1165.6,455.6 a1.6,1.3 0 1,0 3.2,0 a1.6,1.3 0 1,0 -3.2,0 M1170.4,458.4 a1.6,1.3 0 1,0 3.2,0 a1.6,1.3 0 1,0 -3.2,0 M1175.2,461.2 a1.6,1.3 0 1,0 3.2,0 a1.6,1.3 0 1,0 -3.2,0 M1180.1,464.1 a1.6,1.3 0 1,0 3.2,0 a1.6,1.3 0 1,0 -3.2,0 M1184.9,466.9 a1.6,1.3 0 1,0 3.2,0 a1.6,1.3 0 1,0 -3.2,0 M1189.7,469.7 a1.6,1.3 0 1,0 3.2,0 a1.6,1.3 0 1,0 -3.2,0 M1194.5,472.5 a1.6,1.3 0 1,0 3.2,0 a1.6,1.3 0 1,0 -3.2,0 M1199.3,475.4 a1.6,1.3 0 1,0 3.2,0 a1.6,1.3 0 1,0 -3.2,0 M1204.1,478.2 a1.6,1.3 0 1,0 3.2,0 a1.6,1.3 0 1,0 -3.2,0 M1208.9,481 a1.6,1.3 0 1,0 3.2,0 a1.6,1.3 0 1,0 -3.2,0 M1213.8,483.8 a1.6,1.3 0 1,0 3.2,0 a1.6,1.3 0 1,0 -3.2,0 M1218.6,486.6 a1.6,1.3 0 1,0 3.2,0 a1.6,1.3 0 1,0 -3.2,0 M1223.4,489.5 a1.6,1.3 0 1,0 3.2,0 a1.6,1.3 0 1,0 -3.2,0 M1101.1,408.5 a1.6,1.3 0 1,0 3.2,0 a1.6,1.3 0 1,0 -3.2,0 M1105.9,411.3 a1.6,1.3 0 1,0 3.2,0 a1.6,1.3 0 1,0 -3.2,0 M1110.8,414.1 a1.6,1.3 0 1,0 3.2,0 a1.6,1.3 0 1,0 -3.2,0 M1115.6,417 a1.6,1.3 0 1,0 3.2,0 a1.6,1.3 0 1,0 -3.2,0 M1120.4,419.8 a1.6,1.3 0 1,0 3.2,0 a1.6,1.3 0 1,0 -3.2,0 M1125.2,422.6 a1.6,1.3 0 1,0 3.2,0 a1.6,1.3 0 1,0 -3.2,0 M1130,425.5 a1.6,1.3 0 1,0 3.2,0 a1.6,1.3 0 1,0 -3.2,0 M1134.8,428.3 a1.6,1.3 0 1,0 3.2,0 a1.6,1.3 0 1,0 -3.2,0 M1139.7,431.1 a1.6,1.3 0 1,0 3.2,0 a1.6,1.3 0 1,0 -3.2,0 M1144.5,434 a1.6,1.3 0 1,0 3.2,0 a1.6,1.3 0 1,0 -3.2,0 M1149.3,436.8 a1.6,1.3 0 1,0 3.2,0 a1.6,1.3 0 1,0 -3.2,0 M1154.1,439.6 a1.6,1.3 0 1,0 3.2,0 a1.6,1.3 0 1,0 -3.2,0 M1158.9,442.5 a1.6,1.3 0 1,0 3.2,0 a1.6,1.3 0 1,0 -3.2,0 M1163.7,445.3 a1.6,1.3 0 1,0 3.2,0 a1.6,1.3 0 1,0 -3.2,0 M1168.5,448.1 a1.6,1.3 0 1,0 3.2,0 a1.6,1.3 0 1,0 -3.2,0 M1173.4,451 a1.6,1.3 0 1,0 3.2,0 a1.6,1.3 0 1,0 -3.2,0 M1178.2,453.8 a1.6,1.3 0 1,0 3.2,0 a1.6,1.3 0 1,0 -3.2,0 M1183,456.6 a1.6,1.3 0 1,0 3.2,0 a1.6,1.3 0 1,0 -3.2,0 M1187.8,459.5 a1.6,1.3 0 1,0 3.2,0 a1.6,1.3 0 1,0 -3.2,0 M1192.6,462.3 a1.6,1.3 0 1,0 3.2,0 a1.6,1.3 0 1,0 -3.2,0 M1197.4,465.1 a1.6,1.3 0 1,0 3.2,0 a1.6,1.3 0 1,0 -3.2,0 M1202.3,467.9 a1.6,1.3 0 1,0 3.2,0 a1.6,1.3 0 1,0 -3.2,0 M1207.1,470.8 a1.6,1.3 0 1,0 3.2,0 a1.6,1.3 0 1,0 -3.2,0 M1211.9,473.6 a1.6,1.3 0 1,0 3.2,0 a1.6,1.3 0 1,0 -3.2,0 M1216.7,476.4 a1.6,1.3 0 1,0 3.2,0 a1.6,1.3 0 1,0 -3.2,0 M1221.5,479.3 a1.6,1.3 0 1,0 3.2,0 a1.6,1.3 0 1,0 -3.2,0 M1226.3,482.1 a1.6,1.3 0 1,0 3.2,0 a1.6,1.3 0 1,0 -3.2,0 M1231.1,484.9 a1.6,1.3 0 1,0 3.2,0 a1.6,1.3 0 1,0 -3.2,0 M1108.9,403.7 a1.6,1.3 0 1,0 3.2,0 a1.6,1.3 0 1,0 -3.2,0 M1113.7,406.6 a1.6,1.3 0 1,0 3.2,0 a1.6,1.3 0 1,0 -3.2,0 M1118.5,409.4 a1.6,1.3 0 1,0 3.2,0 a1.6,1.3 0 1,0 -3.2,0 M1123.3,412.2 a1.6,1.3 0 1,0 3.2,0 a1.6,1.3 0 1,0 -3.2,0 M1128.1,415.1 a1.6,1.3 0 1,0 3.2,0 a1.6,1.3 0 1,0 -3.2,0 M1133,417.9 a1.6,1.3 0 1,0 3.2,0 a1.6,1.3 0 1,0 -3.2,0 M1137.8,420.8 a1.6,1.3 0 1,0 3.2,0 a1.6,1.3 0 1,0 -3.2,0 M1142.6,423.6 a1.6,1.3 0 1,0 3.2,0 a1.6,1.3 0 1,0 -3.2,0 M1147.4,426.4 a1.6,1.3 0 1,0 3.2,0 a1.6,1.3 0 1,0 -3.2,0 M1152.2,429.3 a1.6,1.3 0 1,0 3.2,0 a1.6,1.3 0 1,0 -3.2,0 M1157,432.1 a1.6,1.3 0 1,0 3.2,0 a1.6,1.3 0 1,0 -3.2,0 M1161.9,435 a1.6,1.3 0 1,0 3.2,0 a1.6,1.3 0 1,0 -3.2,0 M1166.7,437.8 a1.6,1.3 0 1,0 3.2,0 a1.6,1.3 0 1,0 -3.2,0 M1171.5,440.6 a1.6,1.3 0 1,0 3.2,0 a1.6,1.3 0 1,0 -3.2,0 M1176.3,443.5 a1.6,1.3 0 1,0 3.2,0 a1.6,1.3 0 1,0 -3.2,0 M1181.1,446.3 a1.6,1.3 0 1,0 3.2,0 a1.6,1.3 0 1,0 -3.2,0 M1185.9,449.2 a1.6,1.3 0 1,0 3.2,0 a1.6,1.3 0 1,0 -3.2,0 M1190.7,452 a1.6,1.3 0 1,0 3.2,0 a1.6,1.3 0 1,0 -3.2,0 M1195.6,454.8 a1.6,1.3 0 1,0 3.2,0 a1.6,1.3 0 1,0 -3.2,0 M1200.4,457.7 a1.6,1.3 0 1,0 3.2,0 a1.6,1.3 0 1,0 -3.2,0 M1205.2,460.5 a1.6,1.3 0 1,0 3.2,0 a1.6,1.3 0 1,0 -3.2,0 M1210,463.4 a1.6,1.3 0 1,0 3.2,0 a1.6,1.3 0 1,0 -3.2,0 M1214.8,466.2 a1.6,1.3 0 1,0 3.2,0 a1.6,1.3 0 1,0 -3.2,0 M1219.6,469 a1.6,1.3 0 1,0 3.2,0 a1.6,1.3 0 1,0 -3.2,0 M1224.4,471.9 a1.6,1.3 0 1,0 3.2,0 a1.6,1.3 0 1,0 -3.2,0 M1229.3,474.7 a1.6,1.3 0 1,0 3.2,0 a1.6,1.3 0 1,0 -3.2,0 M1234.1,477.6 a1.6,1.3 0 1,0 3.2,0 a1.6,1.3 0 1,0 -3.2,0 M1238.9,480.4 a1.6,1.3 0 1,0 3.2,0 a1.6,1.3 0 1,0 -3.2,0" fill="#fff" stroke="none"/>
<polygon points="1123.6,390.7 1162.8,366.6 1297.6,447.9 1258.4,470.8" fill="#c9c9c9" stroke="#777" stroke-width="1.0" stroke-linejoin="round" />
<path d="M1123.6,390.7 L1258.4,470.8 M1131.4,385.9 L1266.2,466.2 M1139.3,381.1 L1274.1,461.6 M1147.1,376.2 L1281.9,457 M1155,371.4 L1289.8,452.4 M1162.8,366.6 L1297.6,447.9 M1123.6,390.7 L1162.8,366.6 M1128.4,393.6 L1167.7,369.5 M1133.2,396.5 L1172.5,372.4 M1138,399.3 L1177.3,375.3 M1142.8,402.2 L1182.1,378.2 M1147.7,405 L1186.9,381.1 M1152.5,407.9 L1191.7,384 M1157.3,410.8 L1196.5,386.9 M1162.1,413.6 L1201.4,389.8 M1166.9,416.5 L1206.2,392.7 M1171.7,419.3 L1211,395.6 M1176.6,422.2 L1215.8,398.5 M1181.4,425 L1220.6,401.4 M1186.2,427.9 L1225.4,404.3 M1191,430.8 L1230.2,407.2 M1195.8,433.6 L1235.1,410.1 M1200.6,436.5 L1239.9,413 M1205.4,439.3 L1244.7,415.9 M1210.3,442.2 L1249.5,418.8 M1215.1,445.1 L1254.3,421.7 M1219.9,447.9 L1259.1,424.6 M1224.7,450.8 L1263.9,427.5 M1229.5,453.6 L1268.8,430.4 M1234.3,456.5 L1273.6,433.3 M1239.1,459.3 L1278.4,436.2 M1244,462.2 L1283.2,439.1 M1248.8,465.1 L1288,442 M1253.6,467.9 L1292.8,444.9 M1258.4,470.8 L1297.6,447.9" fill="none" stroke="#7a7a7a" stroke-width="1.0" stroke-linejoin="round" stroke-linecap="round" />
<path d="M1128.3,389.8 a1.6,1.3 0 1,0 3.2,0 a1.6,1.3 0 1,0 -3.2,0 M1133.1,392.6 a1.6,1.3 0 1,0 3.2,0 a1.6,1.3 0 1,0 -3.2,0 M1138,395.5 a1.6,1.3 0 1,0 3.2,0 a1.6,1.3 0 1,0 -3.2,0 M1142.8,398.3 a1.6,1.3 0 1,0 3.2,0 a1.6,1.3 0 1,0 -3.2,0 M1147.6,401.2 a1.6,1.3 0 1,0 3.2,0 a1.6,1.3 0 1,0 -3.2,0 M1152.4,404.1 a1.6,1.3 0 1,0 3.2,0 a1.6,1.3 0 1,0 -3.2,0 M1157.2,406.9 a1.6,1.3 0 1,0 3.2,0 a1.6,1.3 0 1,0 -3.2,0 M1162,409.8 a1.6,1.3 0 1,0 3.2,0 a1.6,1.3 0 1,0 -3.2,0 M1166.8,412.7 a1.6,1.3 0 1,0 3.2,0 a1.6,1.3 0 1,0 -3.2,0 M1171.7,415.5 a1.6,1.3 0 1,0 3.2,0 a1.6,1.3 0 1,0 -3.2,0 M1176.5,418.4 a1.6,1.3 0 1,0 3.2,0 a1.6,1.3 0 1,0 -3.2,0 M1181.3,421.2 a1.6,1.3 0 1,0 3.2,0 a1.6,1.3 0 1,0 -3.2,0 M1186.1,424.1 a1.6,1.3 0 1,0 3.2,0 a1.6,1.3 0 1,0 -3.2,0 M1190.9,427 a1.6,1.3 0 1,0 3.2,0 a1.6,1.3 0 1,0 -3.2,0 M1195.7,429.8 a1.6,1.3 0 1,0 3.2,0 a1.6,1.3 0 1,0 -3.2,0 M1200.5,432.7 a1.6,1.3 0 1,0 3.2,0 a1.6,1.3 0 1,0 -3.2,0 M1205.4,435.6 a1.6,1.3 0 1,0 3.2,0 a1.6,1.3 0 1,0 -3.2,0 M1210.2,438.4 a1.6,1.3 0 1,0 3.2,0 a1.6,1.3 0 1,0 -3.2,0 M1215,441.3 a1.6,1.3 0 1,0 3.2,0 a1.6,1.3 0 1,0 -3.2,0 M1219.8,444.1 a1.6,1.3 0 1,0 3.2,0 a1.6,1.3 0 1,0 -3.2,0 M1224.6,447 a1.6,1.3 0 1,0 3.2,0 a1.6,1.3 0 1,0 -3.2,0 M1229.4,449.9 a1.6,1.3 0 1,0 3.2,0 a1.6,1.3 0 1,0 -3.2,0 M1234.2,452.7 a1.6,1.3 0 1,0 3.2,0 a1.6,1.3 0 1,0 -3.2,0 M1239.1,455.6 a1.6,1.3 0 1,0 3.2,0 a1.6,1.3 0 1,0 -3.2,0 M1243.9,458.5 a1.6,1.3 0 1,0 3.2,0 a1.6,1.3 0 1,0 -3.2,0 M1248.7,461.3 a1.6,1.3 0 1,0 3.2,0 a1.6,1.3 0 1,0 -3.2,0 M1253.5,464.2 a1.6,1.3 0 1,0 3.2,0 a1.6,1.3 0 1,0 -3.2,0 M1258.3,467 a1.6,1.3 0 1,0 3.2,0 a1.6,1.3 0 1,0 -3.2,0 M1136.2,384.9 a1.6,1.3 0 1,0 3.2,0 a1.6,1.3 0 1,0 -3.2,0 M1141,387.8 a1.6,1.3 0 1,0 3.2,0 a1.6,1.3 0 1,0 -3.2,0 M1145.8,390.7 a1.6,1.3 0 1,0 3.2,0 a1.6,1.3 0 1,0 -3.2,0 M1150.6,393.5 a1.6,1.3 0 1,0 3.2,0 a1.6,1.3 0 1,0 -3.2,0 M1155.4,396.4 a1.6,1.3 0 1,0 3.2,0 a1.6,1.3 0 1,0 -3.2,0 M1160.2,399.3 a1.6,1.3 0 1,0 3.2,0 a1.6,1.3 0 1,0 -3.2,0 M1165.1,402.2 a1.6,1.3 0 1,0 3.2,0 a1.6,1.3 0 1,0 -3.2,0 M1169.9,405 a1.6,1.3 0 1,0 3.2,0 a1.6,1.3 0 1,0 -3.2,0 M1174.7,407.9 a1.6,1.3 0 1,0 3.2,0 a1.6,1.3 0 1,0 -3.2,0 M1179.5,410.8 a1.6,1.3 0 1,0 3.2,0 a1.6,1.3 0 1,0 -3.2,0 M1184.3,413.6 a1.6,1.3 0 1,0 3.2,0 a1.6,1.3 0 1,0 -3.2,0 M1189.1,416.5 a1.6,1.3 0 1,0 3.2,0 a1.6,1.3 0 1,0 -3.2,0 M1193.9,419.4 a1.6,1.3 0 1,0 3.2,0 a1.6,1.3 0 1,0 -3.2,0 M1198.8,422.3 a1.6,1.3 0 1,0 3.2,0 a1.6,1.3 0 1,0 -3.2,0 M1203.6,425.1 a1.6,1.3 0 1,0 3.2,0 a1.6,1.3 0 1,0 -3.2,0 M1208.4,428 a1.6,1.3 0 1,0 3.2,0 a1.6,1.3 0 1,0 -3.2,0 M1213.2,430.9 a1.6,1.3 0 1,0 3.2,0 a1.6,1.3 0 1,0 -3.2,0 M1218,433.7 a1.6,1.3 0 1,0 3.2,0 a1.6,1.3 0 1,0 -3.2,0 M1222.8,436.6 a1.6,1.3 0 1,0 3.2,0 a1.6,1.3 0 1,0 -3.2,0 M1227.6,439.5 a1.6,1.3 0 1,0 3.2,0 a1.6,1.3 0 1,0 -3.2,0 M1232.5,442.4 a1.6,1.3 0 1,0 3.2,0 a1.6,1.3 0 1,0 -3.2,0 M1237.3,445.2 a1.6,1.3 0 1,0 3.2,0 a1.6,1.3 0 1,0 -3.2,0 M1242.1,448.1 a1.6,1.3 0 1,0 3.2,0 a1.6,1.3 0 1,0 -3.2,0 M1246.9,451 a1.6,1.3 0 1,0 3.2,0 a1.6,1.3 0 1,0 -3.2,0 M1251.7,453.8 a1.6,1.3 0 1,0 3.2,0 a1.6,1.3 0 1,0 -3.2,0 M1256.5,456.7 a1.6,1.3 0 1,0 3.2,0 a1.6,1.3 0 1,0 -3.2,0 M1261.3,459.6 a1.6,1.3 0 1,0 3.2,0 a1.6,1.3 0 1,0 -3.2,0 M1266.2,462.5 a1.6,1.3 0 1,0 3.2,0 a1.6,1.3 0 1,0 -3.2,0 M1144,380.1 a1.6,1.3 0 1,0 3.2,0 a1.6,1.3 0 1,0 -3.2,0 M1148.8,383 a1.6,1.3 0 1,0 3.2,0 a1.6,1.3 0 1,0 -3.2,0 M1153.7,385.9 a1.6,1.3 0 1,0 3.2,0 a1.6,1.3 0 1,0 -3.2,0 M1158.5,388.7 a1.6,1.3 0 1,0 3.2,0 a1.6,1.3 0 1,0 -3.2,0 M1163.3,391.6 a1.6,1.3 0 1,0 3.2,0 a1.6,1.3 0 1,0 -3.2,0 M1168.1,394.5 a1.6,1.3 0 1,0 3.2,0 a1.6,1.3 0 1,0 -3.2,0 M1172.9,397.4 a1.6,1.3 0 1,0 3.2,0 a1.6,1.3 0 1,0 -3.2,0 M1177.7,400.3 a1.6,1.3 0 1,0 3.2,0 a1.6,1.3 0 1,0 -3.2,0 M1182.5,403.1 a1.6,1.3 0 1,0 3.2,0 a1.6,1.3 0 1,0 -3.2,0 M1187.4,406 a1.6,1.3 0 1,0 3.2,0 a1.6,1.3 0 1,0 -3.2,0 M1192.2,408.9 a1.6,1.3 0 1,0 3.2,0 a1.6,1.3 0 1,0 -3.2,0 M1197,411.8 a1.6,1.3 0 1,0 3.2,0 a1.6,1.3 0 1,0 -3.2,0 M1201.8,414.7 a1.6,1.3 0 1,0 3.2,0 a1.6,1.3 0 1,0 -3.2,0 M1206.6,417.5 a1.6,1.3 0 1,0 3.2,0 a1.6,1.3 0 1,0 -3.2,0 M1211.4,420.4 a1.6,1.3 0 1,0 3.2,0 a1.6,1.3 0 1,0 -3.2,0 M1216.2,423.3 a1.6,1.3 0 1,0 3.2,0 a1.6,1.3 0 1,0 -3.2,0 M1221.1,426.2 a1.6,1.3 0 1,0 3.2,0 a1.6,1.3 0 1,0 -3.2,0 M1225.9,429.1 a1.6,1.3 0 1,0 3.2,0 a1.6,1.3 0 1,0 -3.2,0 M1230.7,431.9 a1.6,1.3 0 1,0 3.2,0 a1.6,1.3 0 1,0 -3.2,0 M1235.5,434.8 a1.6,1.3 0 1,0 3.2,0 a1.6,1.3 0 1,0 -3.2,0 M1240.3,437.7 a1.6,1.3 0 1,0 3.2,0 a1.6,1.3 0 1,0 -3.2,0 M1245.1,440.6 a1.6,1.3 0 1,0 3.2,0 a1.6,1.3 0 1,0 -3.2,0 M1249.9,443.5 a1.6,1.3 0 1,0 3.2,0 a1.6,1.3 0 1,0 -3.2,0 M1254.8,446.4 a1.6,1.3 0 1,0 3.2,0 a1.6,1.3 0 1,0 -3.2,0 M1259.6,449.2 a1.6,1.3 0 1,0 3.2,0 a1.6,1.3 0 1,0 -3.2,0 M1264.4,452.1 a1.6,1.3 0 1,0 3.2,0 a1.6,1.3 0 1,0 -3.2,0 M1269.2,455 a1.6,1.3 0 1,0 3.2,0 a1.6,1.3 0 1,0 -3.2,0 M1274,457.9 a1.6,1.3 0 1,0 3.2,0 a1.6,1.3 0 1,0 -3.2,0 M1151.9,375.3 a1.6,1.3 0 1,0 3.2,0 a1.6,1.3 0 1,0 -3.2,0 M1156.7,378.2 a1.6,1.3 0 1,0 3.2,0 a1.6,1.3 0 1,0 -3.2,0 M1161.5,381.1 a1.6,1.3 0 1,0 3.2,0 a1.6,1.3 0 1,0 -3.2,0 M1166.3,383.9 a1.6,1.3 0 1,0 3.2,0 a1.6,1.3 0 1,0 -3.2,0 M1171.1,386.8 a1.6,1.3 0 1,0 3.2,0 a1.6,1.3 0 1,0 -3.2,0 M1175.9,389.7 a1.6,1.3 0 1,0 3.2,0 a1.6,1.3 0 1,0 -3.2,0 M1180.8,392.6 a1.6,1.3 0 1,0 3.2,0 a1.6,1.3 0 1,0 -3.2,0 M1185.6,395.5 a1.6,1.3 0 1,0 3.2,0 a1.6,1.3 0 1,0 -3.2,0 M1190.4,398.4 a1.6,1.3 0 1,0 3.2,0 a1.6,1.3 0 1,0 -3.2,0 M1195.2,401.3 a1.6,1.3 0 1,0 3.2,0 a1.6,1.3 0 1,0 -3.2,0 M1200,404.2 a1.6,1.3 0 1,0 3.2,0 a1.6,1.3 0 1,0 -3.2,0 M1204.8,407.1 a1.6,1.3 0 1,0 3.2,0 a1.6,1.3 0 1,0 -3.2,0 M1209.6,409.9 a1.6,1.3 0 1,0 3.2,0 a1.6,1.3 0 1,0 -3.2,0 M1214.5,412.8 a1.6,1.3 0 1,0 3.2,0 a1.6,1.3 0 1,0 -3.2,0 M1219.3,415.7 a1.6,1.3 0 1,0 3.2,0 a1.6,1.3 0 1,0 -3.2,0 M1224.1,418.6 a1.6,1.3 0 1,0 3.2,0 a1.6,1.3 0 1,0 -3.2,0 M1228.9,421.5 a1.6,1.3 0 1,0 3.2,0 a1.6,1.3 0 1,0 -3.2,0 M1233.7,424.4 a1.6,1.3 0 1,0 3.2,0 a1.6,1.3 0 1,0 -3.2,0 M1238.5,427.3 a1.6,1.3 0 1,0 3.2,0 a1.6,1.3 0 1,0 -3.2,0 M1243.3,430.2 a1.6,1.3 0 1,0 3.2,0 a1.6,1.3 0 1,0 -3.2,0 M1248.2,433.1 a1.6,1.3 0 1,0 3.2,0 a1.6,1.3 0 1,0 -3.2,0 M1253,435.9 a1.6,1.3 0 1,0 3.2,0 a1.6,1.3 0 1,0 -3.2,0 M1257.8,438.8 a1.6,1.3 0 1,0 3.2,0 a1.6,1.3 0 1,0 -3.2,0 M1262.6,441.7 a1.6,1.3 0 1,0 3.2,0 a1.6,1.3 0 1,0 -3.2,0 M1267.4,444.6 a1.6,1.3 0 1,0 3.2,0 a1.6,1.3 0 1,0 -3.2,0 M1272.2,447.5 a1.6,1.3 0 1,0 3.2,0 a1.6,1.3 0 1,0 -3.2,0 M1277,450.4 a1.6,1.3 0 1,0 3.2,0 a1.6,1.3 0 1,0 -3.2,0 M1281.9,453.3 a1.6,1.3 0 1,0 3.2,0 a1.6,1.3 0 1,0 -3.2,0 M1159.7,370.4 a1.6,1.3 0 1,0 3.2,0 a1.6,1.3 0 1,0 -3.2,0 M1164.5,373.3 a1.6,1.3 0 1,0 3.2,0 a1.6,1.3 0 1,0 -3.2,0 M1169.4,376.2 a1.6,1.3 0 1,0 3.2,0 a1.6,1.3 0 1,0 -3.2,0 M1174.2,379.1 a1.6,1.3 0 1,0 3.2,0 a1.6,1.3 0 1,0 -3.2,0 M1179,382 a1.6,1.3 0 1,0 3.2,0 a1.6,1.3 0 1,0 -3.2,0 M1183.8,384.9 a1.6,1.3 0 1,0 3.2,0 a1.6,1.3 0 1,0 -3.2,0 M1188.6,387.8 a1.6,1.3 0 1,0 3.2,0 a1.6,1.3 0 1,0 -3.2,0 M1193.4,390.7 a1.6,1.3 0 1,0 3.2,0 a1.6,1.3 0 1,0 -3.2,0 M1198.2,393.6 a1.6,1.3 0 1,0 3.2,0 a1.6,1.3 0 1,0 -3.2,0 M1203.1,396.5 a1.6,1.3 0 1,0 3.2,0 a1.6,1.3 0 1,0 -3.2,0 M1207.9,399.4 a1.6,1.3 0 1,0 3.2,0 a1.6,1.3 0 1,0 -3.2,0 M1212.7,402.3 a1.6,1.3 0 1,0 3.2,0 a1.6,1.3 0 1,0 -3.2,0 M1217.5,405.2 a1.6,1.3 0 1,0 3.2,0 a1.6,1.3 0 1,0 -3.2,0 M1222.3,408.1 a1.6,1.3 0 1,0 3.2,0 a1.6,1.3 0 1,0 -3.2,0 M1227.1,411 a1.6,1.3 0 1,0 3.2,0 a1.6,1.3 0 1,0 -3.2,0 M1231.9,413.9 a1.6,1.3 0 1,0 3.2,0 a1.6,1.3 0 1,0 -3.2,0 M1236.7,416.8 a1.6,1.3 0 1,0 3.2,0 a1.6,1.3 0 1,0 -3.2,0 M1241.6,419.7 a1.6,1.3 0 1,0 3.2,0 a1.6,1.3 0 1,0 -3.2,0 M1246.4,422.6 a1.6,1.3 0 1,0 3.2,0 a1.6,1.3 0 1,0 -3.2,0 M1251.2,425.5 a1.6,1.3 0 1,0 3.2,0 a1.6,1.3 0 1,0 -3.2,0 M1256,428.4 a1.6,1.3 0 1,0 3.2,0 a1.6,1.3 0 1,0 -3.2,0 M1260.8,431.3 a1.6,1.3 0 1,0 3.2,0 a1.6,1.3 0 1,0 -3.2,0 M1265.6,434.2 a1.6,1.3 0 1,0 3.2,0 a1.6,1.3 0 1,0 -3.2,0 M1270.4,437.1 a1.6,1.3 0 1,0 3.2,0 a1.6,1.3 0 1,0 -3.2,0 M1275.3,440 a1.6,1.3 0 1,0 3.2,0 a1.6,1.3 0 1,0 -3.2,0 M1280.1,442.9 a1.6,1.3 0 1,0 3.2,0 a1.6,1.3 0 1,0 -3.2,0 M1284.9,445.8 a1.6,1.3 0 1,0 3.2,0 a1.6,1.3 0 1,0 -3.2,0 M1289.7,448.7 a1.6,1.3 0 1,0 3.2,0 a1.6,1.3 0 1,0 -3.2,0" fill="#fff" stroke="none"/>
<polygon points="1056.8,430.5 1193.1,509.3 1193.1,498.8 1056.8,415.5" fill="#a8a8a8" stroke="#666" stroke-width="1.0" stroke-linejoin="round" />
<path d="M1056.8,430.5 L1056.8,415.5 M1058.8,431.6 L1058.8,416.7 M1060.8,432.8 L1060.8,417.9 M1062.7,433.9 L1062.7,419.1 M1064.7,435.1 L1064.7,420.3 M1066.7,436.2 L1066.7,421.5 M1068.7,437.4 L1068.7,422.7 M1070.6,438.5 L1070.6,424 M1072.6,439.6 L1072.6,425.2 M1074.6,440.8 L1074.6,426.4 M1076.6,441.9 L1076.6,427.6 M1078.5,443.1 L1078.5,428.8 M1080.5,444.2 L1080.5,430 M1082.5,445.4 L1082.5,431.2 M1084.5,446.5 L1084.5,432.4 M1086.4,447.6 L1086.4,433.6 M1088.4,448.8 L1088.4,434.8 M1090.4,449.9 L1090.4,436 M1092.4,451.1 L1092.4,437.2 M1094.3,452.2 L1094.3,438.4 M1096.3,453.3 L1096.3,439.7 M1098.3,454.5 L1098.3,440.9 M1100.2,455.6 L1100.2,442.1 M1102.2,456.8 L1102.2,443.3 M1104.2,457.9 L1104.2,444.5 M1106.2,459.1 L1106.2,445.7 M1108.1,460.2 L1108.1,446.9 M1110.1,461.3 L1110.1,448.1 M1112.1,462.5 L1112.1,449.3 M1114.1,463.6 L1114.1,450.5 M1116,464.8 L1116,451.7 M1118,465.9 L1118,452.9 M1120,467.1 L1120,454.1 M1122,468.2 L1122,455.3 M1123.9,469.3 L1123.9,456.6 M1125.9,470.5 L1125.9,457.8 M1127.9,471.6 L1127.9,459 M1129.9,472.8 L1129.9,460.2 M1131.8,473.9 L1131.8,461.4 M1133.8,475 L1133.8,462.6 M1135.8,476.2 L1135.8,463.8 M1137.8,477.3 L1137.8,465 M1139.7,478.5 L1139.7,466.2 M1141.7,479.6 L1141.7,467.4 M1143.7,480.8 L1143.7,468.6 M1145.7,481.9 L1145.7,469.8 M1147.6,483 L1147.6,471 M1149.6,484.2 L1149.6,472.3 M1151.6,485.3 L1151.6,473.5 M1153.6,486.5 L1153.6,474.7 M1155.5,487.6 L1155.5,475.9 M1157.5,488.8 L1157.5,477.1 M1159.5,489.9 L1159.5,478.3 M1161.5,491 L1161.5,479.5 M1163.4,492.2 L1163.4,480.7 M1165.4,493.3 L1165.4,481.9 M1167.4,494.5 L1167.4,483.1 M1169.4,495.6 L1169.4,484.3 M1171.3,496.8 L1171.3,485.5 M1173.3,497.9 L1173.3,486.7 M1175.3,499 L1175.3,487.9 M1177.3,500.2 L1177.3,489.2 M1179.2,501.3 L1179.2,490.4 M1181.2,502.5 L1181.2,491.6 M1183.2,503.6 L1183.2,492.8 M1185.2,504.7 L1185.2,494 M1187.1,505.9 L1187.1,495.2 M1189.1,507 L1189.1,496.4 M1191.1,508.2 L1191.1,497.6 M1193.1,509.3 L1193.1,498.8" fill="none" stroke="#777" stroke-width="0.8" stroke-linejoin="round" stroke-linecap="round" />
<polyline points="1056.8,430.5 1193.1,509.3" fill="none" stroke="#555" stroke-width="1.2" stroke-linejoin="round" stroke-linecap="round" />
<polyline points="1059.8,433.5 1196.1,512.3" fill="none" stroke="#fff" stroke-width="3" stroke-linejoin="round" stroke-linecap="round" />
<polygon points="1115,396.7 1251.2,477.3 1251.2,467.5 1115,382.7" fill="#a8a8a8" stroke="#666" stroke-width="1.0" stroke-linejoin="round" />
<path d="M1115,396.7 L1115,382.7 M1116.9,397.8 L1116.9,383.9 M1118.9,399 L1118.9,385.1 M1120.9,400.2 L1120.9,386.4 M1122.9,401.3 L1122.9,387.6 M1124.8,402.5 L1124.8,388.8 M1126.8,403.7 L1126.8,390 M1128.8,404.8 L1128.8,391.3 M1130.8,406 L1130.8,392.5 M1132.7,407.2 L1132.7,393.7 M1134.7,408.4 L1134.7,395 M1136.7,409.5 L1136.7,396.2 M1138.7,410.7 L1138.7,397.4 M1140.6,411.9 L1140.6,398.7 M1142.6,413 L1142.6,399.9 M1144.6,414.2 L1144.6,401.1 M1146.6,415.4 L1146.6,402.3 M1148.5,416.5 L1148.5,403.6 M1150.5,417.7 L1150.5,404.8 M1152.5,418.9 L1152.5,406 M1154.4,420 L1154.4,407.3 M1156.4,421.2 L1156.4,408.5 M1158.4,422.4 L1158.4,409.7 M1160.4,423.6 L1160.4,411 M1162.3,424.7 L1162.3,412.2 M1164.3,425.9 L1164.3,413.4 M1166.3,427.1 L1166.3,414.6 M1168.3,428.2 L1168.3,415.9 M1170.2,429.4 L1170.2,417.1 M1172.2,430.6 L1172.2,418.3 M1174.2,431.7 L1174.2,419.6 M1176.2,432.9 L1176.2,420.8 M1178.1,434.1 L1178.1,422 M1180.1,435.2 L1180.1,423.3 M1182.1,436.4 L1182.1,424.5 M1184.1,437.6 L1184.1,425.7 M1186,438.8 L1186,426.9 M1188,439.9 L1188,428.2 M1190,441.1 L1190,429.4 M1192,442.3 L1192,430.6 M1193.9,443.4 L1193.9,431.9 M1195.9,444.6 L1195.9,433.1 M1197.9,445.8 L1197.9,434.3 M1199.9,446.9 L1199.9,435.6 M1201.8,448.1 L1201.8,436.8 M1203.8,449.3 L1203.8,438 M1205.8,450.4 L1205.8,439.2 M1207.8,451.6 L1207.8,440.5 M1209.7,452.8 L1209.7,441.7 M1211.7,454 L1211.7,442.9 M1213.7,455.1 L1213.7,444.2 M1215.6,456.3 L1215.6,445.4 M1217.6,457.5 L1217.6,446.6 M1219.6,458.6 L1219.6,447.9 M1221.6,459.8 L1221.6,449.1 M1223.5,461 L1223.5,450.3 M1225.5,462.1 L1225.5,451.5 M1227.5,463.3 L1227.5,452.8 M1229.5,464.5 L1229.5,454 M1231.4,465.6 L1231.4,455.2 M1233.4,466.8 L1233.4,456.5 M1235.4,468 L1235.4,457.7 M1237.4,469.2 L1237.4,458.9 M1239.3,470.3 L1239.3,460.2 M1241.3,471.5 L1241.3,461.4 M1243.3,472.7 L1243.3,462.6 M1245.3,473.8 L1245.3,463.8 M1247.2,475 L1247.2,465.1 M1249.2,476.2 L1249.2,466.3 M1251.2,477.3 L1251.2,467.5" fill="none" stroke="#777" stroke-width="0.8" stroke-linejoin="round" stroke-linecap="round" />
<polyline points="1115,396.7 1251.2,477.3" fill="none" stroke="#555" stroke-width="1.2" stroke-linejoin="round" stroke-linecap="round" />
<polyline points="1118,399.7 1254.2,480.3" fill="none" stroke="#fff" stroke-width="3" stroke-linejoin="round" stroke-linecap="round" />
<polyline points="1170,529 1170,548" fill="none" stroke="#444" stroke-width="1.2" stroke-linejoin="round" stroke-linecap="round" />
<polyline points="1232,514 1265,497" fill="none" stroke="#666" stroke-width="0.9" stroke-linejoin="round" stroke-linecap="round" />
<polyline points="1232,518 1265,501" fill="none" stroke="#666" stroke-width="0.9" stroke-linejoin="round" stroke-linecap="round" />
<polyline points="1275,481 1275,472" fill="none" stroke="#444" stroke-width="1.2" stroke-linejoin="round" stroke-linecap="round" />
<polygon points="961.7,516.4 1045.5,559.8 1042,582 961,548" fill="#fff" stroke="#3a3a3a" stroke-width="1.8199999999999998" stroke-linejoin="round" />
<path d="M971.9,529.4 L971.4,544.6 L974.4,543.6 L974.9,528.4" fill="none" stroke="#3a3a3a" stroke-width="1.3" stroke-linejoin="round" stroke-linecap="round" />
<path d="M982.3,534.6 L981.6,549.2 L984.6,548.2 L985.3,533.6" fill="none" stroke="#3a3a3a" stroke-width="1.3" stroke-linejoin="round" stroke-linecap="round" />
<path d="M992.7,539.7 L991.8,553.7 L994.8,552.7 L995.7,538.7" fill="none" stroke="#3a3a3a" stroke-width="1.3" stroke-linejoin="round" stroke-linecap="round" />
<path d="M1003.1,544.8 L1002,558.3 L1005,557.3 L1006.1,543.8" fill="none" stroke="#3a3a3a" stroke-width="1.3" stroke-linejoin="round" stroke-linecap="round" />
<path d="M1013.5,550 L1012.2,562.8 L1015.2,561.8 L1016.5,549" fill="none" stroke="#3a3a3a" stroke-width="1.3" stroke-linejoin="round" stroke-linecap="round" />
<path d="M1023.8,555.1 L1022.5,567.4 L1025.5,566.4 L1026.8,554.1" fill="none" stroke="#3a3a3a" stroke-width="1.3" stroke-linejoin="round" stroke-linecap="round" />
<path d="M1034.2,560.2 L1032.7,571.9 L1035.7,570.9 L1037.2,559.2" fill="none" stroke="#3a3a3a" stroke-width="1.3" stroke-linejoin="round" stroke-linecap="round" />
<polyline points="961.6,522.7 1044.8,564.2" fill="none" stroke="#555" stroke-width="0.9" stroke-linejoin="round" stroke-linecap="round" />
<path d="M961.7,516.4 L955.7,527.8 L961,532.4 L961,547 L973.9,549.9" fill="none" stroke="#3a3a3a" stroke-width="1.8199999999999998" stroke-linejoin="round" stroke-linecap="round" />
<ellipse cx="966.3" cy="545.3" rx="5.7" ry="7.2" transform="rotate(-15 966.3 545.3)" fill="#bbb" stroke="#3a3a3a" stroke-width="2.08" />
<ellipse cx="966.3" cy="545.3" rx="3" ry="4" transform="rotate(-15 966.3 545.3)" fill="#888" stroke="#3a3a3a" stroke-width="1.3" />
<ellipse cx="1031.8" cy="564.4" rx="5.7" ry="7.2" transform="rotate(-15 1031.8 564.4)" fill="#bbb" stroke="#3a3a3a" stroke-width="2.08" />
<ellipse cx="1031.8" cy="564.4" rx="3" ry="4" transform="rotate(-15 1031.8 564.4)" fill="#888" stroke="#3a3a3a" stroke-width="1.3" />
<polygon points="1258,352.6 1342.7,396 1340,418 1254,372" fill="#fff" stroke="#3a3a3a" stroke-width="1.8199999999999998" stroke-linejoin="round" />
<path d="M1267.6,363 L1265.7,372.8 L1268.7,371.8 L1270.6,362" fill="none" stroke="#3a3a3a" stroke-width="1.3" stroke-linejoin="round" stroke-linecap="round" />
<path d="M1278.3,368.5 L1276.4,378.5 L1279.4,377.5 L1281.3,367.5" fill="none" stroke="#3a3a3a" stroke-width="1.3" stroke-linejoin="round" stroke-linecap="round" />
<path d="M1288.9,374 L1287.1,384.2 L1290.1,383.2 L1291.9,373" fill="none" stroke="#3a3a3a" stroke-width="1.3" stroke-linejoin="round" stroke-linecap="round" />
<path d="M1299.5,379.5 L1297.8,389.8 L1300.8,388.8 L1302.5,378.5" fill="none" stroke="#3a3a3a" stroke-width="1.3" stroke-linejoin="round" stroke-linecap="round" />
<path d="M1310.1,385 L1308.5,395.5 L1311.5,394.5 L1313.1,384" fill="none" stroke="#3a3a3a" stroke-width="1.3" stroke-linejoin="round" stroke-linecap="round" />
<path d="M1320.8,390.5 L1319.3,401.2 L1322.3,400.2 L1323.8,389.5" fill="none" stroke="#3a3a3a" stroke-width="1.3" stroke-linejoin="round" stroke-linecap="round" />
<path d="M1331.4,396 L1330,406.8 L1333,405.8 L1334.4,395" fill="none" stroke="#3a3a3a" stroke-width="1.3" stroke-linejoin="round" stroke-linecap="round" />
<polyline points="1257.2,356.5 1342.2,400.4" fill="none" stroke="#555" stroke-width="0.9" stroke-linejoin="round" stroke-linecap="round" />
<ellipse cx="1334" cy="404" rx="5.5" ry="7" transform="rotate(-15 1334 404)" fill="#bbb" stroke="#3a3a3a" stroke-width="2.08" />
<ellipse cx="1334" cy="404" rx="3" ry="4" transform="rotate(-15 1334 404)" fill="#888" stroke="#3a3a3a" stroke-width="1.3" />
<g transform="translate(848,827) rotate(42) scale(0.95)">
<path d="M-22,-4 Q-24,-9 -18,-9 L-8,-8 L-4,-11 L4,-10 L8,-7 L16,-7 Q22,-6 22,0 L22,5 Q21,9 16,9 L4,9 L0,11 L-6,10 L-12,7 L-19,5 Q-23,3 -22,-4 Z" fill="#efefef" stroke="#3a3a3a" stroke-width="1.9500000000000002" stroke-linejoin="round" stroke-linecap="round" />
<path d="M-18,-2 L18,-1 M-12,4 L14,5 M-8,-8 L-6,8 M4,-9 L5,9 M12,-6 L13,8" fill="none" stroke="#444" stroke-width="1.2" stroke-linejoin="round" stroke-linecap="round" />
<path d="M-3,-2 L2,-2 L2,2 L-3,2 Z M9,1 L13,1 L13,5 L9,5 Z M-13,1 L-10,1 L-10,4 L-13,4 Z" fill="#555" stroke="#3a3a3a" stroke-width="1.1700000000000002" stroke-linejoin="round" stroke-linecap="round" />
<ellipse cx="-18" cy="-5" rx="3.5" ry="3.5" transform="rotate(0 -18 -5)" fill="#fff" stroke="#3a3a3a" stroke-width="1.6900000000000002" />
</g>
<g transform="translate(895,856) rotate(42) scale(0.95)">
<path d="M-22,-4 Q-24,-9 -18,-9 L-8,-8 L-4,-11 L4,-10 L8,-7 L16,-7 Q22,-6 22,0 L22,5 Q21,9 16,9 L4,9 L0,11 L-6,10 L-12,7 L-19,5 Q-23,3 -22,-4 Z" fill="#efefef" stroke="#3a3a3a" stroke-width="1.9500000000000002" stroke-linejoin="round" stroke-linecap="round" />
<path d="M-18,-2 L18,-1 M-12,4 L14,5 M-8,-8 L-6,8 M4,-9 L5,9 M12,-6 L13,8" fill="none" stroke="#444" stroke-width="1.2" stroke-linejoin="round" stroke-linecap="round" />
<path d="M-3,-2 L2,-2 L2,2 L-3,2 Z M9,1 L13,1 L13,5 L9,5 Z M-13,1 L-10,1 L-10,4 L-13,4 Z" fill="#555" stroke="#3a3a3a" stroke-width="1.1700000000000002" stroke-linejoin="round" stroke-linecap="round" />
<ellipse cx="-18" cy="-5" rx="3.5" ry="3.5" transform="rotate(0 -18 -5)" fill="#fff" stroke="#3a3a3a" stroke-width="1.6900000000000002" />
</g>
<g transform="translate(1110,646) scale(1.0)">
<path d="M0,0 L7,-2 L13,4 L35,16 L38,24 L31,31 L29,40 L22,43 L15,41 L11,35 L4,29 Q0,20 3,12 L2,6 Z" fill="#fff" stroke="#3a3a3a" stroke-width="2.08" stroke-linejoin="round" stroke-linecap="round" />
<path d="M4,8 Q12,10 14,6 M10,14 Q8,24 12,33 M15,16 Q13,26 17,36 M21,19 Q19,28 22,38 M27,22 Q25,30 28,38 M31,24 L36,22" fill="none" stroke="#444" stroke-width="1.3" stroke-linejoin="round" stroke-linecap="round" />
<path d="M14,36 L20,42 L26,38" fill="none" stroke="#3a3a3a" stroke-width="2.8600000000000003" stroke-linejoin="round" stroke-linecap="round" />
<path d="M3,1 L7,-1 L9,3 L5,5 Z" fill="#333" stroke="#3a3a3a" stroke-width="1.3" stroke-linejoin="round" stroke-linecap="round" />
</g>
<g transform="translate(1157,675) scale(0.95)">
<path d="M0,0 L7,-2 L13,4 L35,16 L38,24 L31,31 L29,40 L22,43 L15,41 L11,35 L4,29 Q0,20 3,12 L2,6 Z" fill="#fff" stroke="#3a3a3a" stroke-width="2.08" stroke-linejoin="round" stroke-linecap="round" />
<path d="M4,8 Q12,10 14,6 M10,14 Q8,24 12,33 M15,16 Q13,26 17,36 M21,19 Q19,28 22,38 M27,22 Q25,30 28,38 M31,24 L36,22" fill="none" stroke="#444" stroke-width="1.3" stroke-linejoin="round" stroke-linecap="round" />
<path d="M14,36 L20,42 L26,38" fill="none" stroke="#3a3a3a" stroke-width="2.8600000000000003" stroke-linejoin="round" stroke-linecap="round" />
<path d="M3,1 L7,-1 L9,3 L5,5 Z" fill="#333" stroke="#3a3a3a" stroke-width="1.3" stroke-linejoin="round" stroke-linecap="round" />
</g>
<polyline points="1040.7,731 1106.6,695.2" fill="none" stroke="#555" stroke-width="3.0" stroke-linejoin="round" stroke-linecap="round" />
<polyline points="1040.7,731 1106.6,695.2" fill="none" stroke="#aaa" stroke-width="0.9" stroke-linejoin="round" stroke-linecap="round" />
<path d="M1044.5,726.2 L1050.3,699.6 M1050.3,723 L1055.7,696.4 M1056.1,719.9 L1061.1,693.2 M1061.9,716.7 L1066.5,690 M1067.8,713.5 L1071.9,686.9 M1073.6,710.3 L1077.3,683.7 M1079.4,707.2 L1082.7,680.5 M1085.2,704 L1088.1,677.3" fill="none" stroke="#4a4a4a" stroke-width="3.0" stroke-linejoin="round" stroke-linecap="round" />
<path d="M1044.5,726.2 L1050.3,699.6 M1050.3,723 L1055.7,696.4 M1056.1,719.9 L1061.1,693.2 M1061.9,716.7 L1066.5,690 M1067.8,713.5 L1071.9,686.9 M1073.6,710.3 L1077.3,683.7 M1079.4,707.2 L1082.7,680.5 M1085.2,704 L1088.1,677.3" fill="none" stroke="#8f8f8f" stroke-width="0.9" stroke-linejoin="round" stroke-linecap="round" />
<path d="M1096.9,657 L1098.8,669 L1092,682 L1104,696" fill="none" stroke="#555" stroke-width="2.4" stroke-linejoin="round" stroke-linecap="round" />
<polyline points="1088,758.7 1155,722.4" fill="none" stroke="#555" stroke-width="3.0" stroke-linejoin="round" stroke-linecap="round" />
<polyline points="1088,758.7 1155,722.4" fill="none" stroke="#aaa" stroke-width="0.9" stroke-linejoin="round" stroke-linecap="round" />
<path d="M1093,754.3 L1098.3,726.7 M1098.8,751.1 L1103.8,723.6 M1104.6,747.9 L1109.2,720.5 M1110.4,744.7 L1114.7,717.4 M1116.3,741.6 L1120.2,714.3 M1122.1,738.4 L1125.7,711.2 M1127.9,735.2 L1131.1,708.1 M1133.7,732 L1136.6,705" fill="none" stroke="#4a4a4a" stroke-width="3.0" stroke-linejoin="round" stroke-linecap="round" />
<path d="M1093,754.3 L1098.3,726.7 M1098.8,751.1 L1103.8,723.6 M1104.6,747.9 L1109.2,720.5 M1110.4,744.7 L1114.7,717.4 M1116.3,741.6 L1120.2,714.3 M1122.1,738.4 L1125.7,711.2 M1127.9,735.2 L1131.1,708.1 M1133.7,732 L1136.6,705" fill="none" stroke="#8f8f8f" stroke-width="0.9" stroke-linejoin="round" stroke-linecap="round" />
<path d="M1144.8,684.6 L1146,697 L1140,709 L1152,721" fill="none" stroke="#555" stroke-width="2.4" stroke-linejoin="round" stroke-linecap="round" />
<polyline points="882.3,823 986,765.8" fill="none" stroke="#555" stroke-width="3.0" stroke-linejoin="round" stroke-linecap="round" />
<polyline points="882.3,823 986,765.8" fill="none" stroke="#aaa" stroke-width="0.9" stroke-linejoin="round" stroke-linecap="round" />
<path d="M890,815.2 L886.2,795 M896.4,811.7 L892.6,791.3 M902.9,808.1 L899,787.6 M909.3,804.6 L905.4,784 M915.8,801.1 L911.8,780.3 M922.2,797.6 L918.2,776.6 M928.7,794 L924.6,772.9 M935.1,790.5 L931,769.2 M941.5,787 L937.4,765.6 M948,783.4 L943.8,761.9 M954.4,779.9 L950.2,758.2 M960.9,776.4 L956.6,754.5 M967.3,772.9 L963,750.9 M973.8,769.3 L969.4,747.2 M980.2,765.8 L975.8,743.5" fill="none" stroke="#4a4a4a" stroke-width="3.0" stroke-linejoin="round" stroke-linecap="round" />
<path d="M890,815.2 L886.2,795 M896.4,811.7 L892.6,791.3 M902.9,808.1 L899,787.6 M909.3,804.6 L905.4,784 M915.8,801.1 L911.8,780.3 M922.2,797.6 L918.2,776.6 M928.7,794 L924.6,772.9 M935.1,790.5 L931,769.2 M941.5,787 L937.4,765.6 M948,783.4 L943.8,761.9 M954.4,779.9 L950.2,758.2 M960.9,776.4 L956.6,754.5 M967.3,772.9 L963,750.9 M973.8,769.3 L969.4,747.2 M980.2,765.8 L975.8,743.5" fill="none" stroke="#8f8f8f" stroke-width="0.9" stroke-linejoin="round" stroke-linecap="round" />
<path d="M867.3,791 L867.8,801.7 L864.8,804.6 L882.3,825" fill="none" stroke="#555" stroke-width="2.4" stroke-linejoin="round" stroke-linecap="round" />
<polyline points="928,853 1032.8,793" fill="none" stroke="#555" stroke-width="3.0" stroke-linejoin="round" stroke-linecap="round" />
<polyline points="928,853 1032.8,793" fill="none" stroke="#aaa" stroke-width="0.9" stroke-linejoin="round" stroke-linecap="round" />
<path d="M936,845.5 L932.2,825.3 M942.5,842 L938.6,821.6 M948.9,838.4 L945,817.9 M955.4,834.9 L951.5,814.2 M961.9,831.4 L957.9,810.6 M968.3,827.8 L964.3,806.9 M974.8,824.3 L970.7,803.2 M981.2,820.8 L977.1,799.5 M987.7,817.2 L983.6,795.8 M994.2,813.7 L990,792.1 M1000.6,810.1 L996.4,788.4 M1007.1,806.6 L1002.8,784.8 M1013.6,803.1 L1009.3,781.1 M1020,799.5 L1015.7,777.4 M1026.5,796 L1022.1,773.7" fill="none" stroke="#4a4a4a" stroke-width="3.0" stroke-linejoin="round" stroke-linecap="round" />
<path d="M936,845.5 L932.2,825.3 M942.5,842 L938.6,821.6 M948.9,838.4 L945,817.9 M955.4,834.9 L951.5,814.2 M961.9,831.4 L957.9,810.6 M968.3,827.8 L964.3,806.9 M974.8,824.3 L970.7,803.2 M981.2,820.8 L977.1,799.5 M987.7,817.2 L983.6,795.8 M994.2,813.7 L990,792.1 M1000.6,810.1 L996.4,788.4 M1007.1,806.6 L1002.8,784.8 M1013.6,803.1 L1009.3,781.1 M1020,799.5 L1015.7,777.4 M1026.5,796 L1022.1,773.7" fill="none" stroke="#8f8f8f" stroke-width="0.9" stroke-linejoin="round" stroke-linecap="round" />
<path d="M914.5,817.6 L913,830 L912.4,834 L930,855" fill="none" stroke="#555" stroke-width="2.4" stroke-linejoin="round" stroke-linecap="round" />
<path d="M992,742 Q988,750 995,754 L1058,792 Q1064,796 1070,793 L1090,780 Q1095,774 1089,770 L1025,733 Q1018,729 1012,732 Z" fill="none" stroke="#777" stroke-width="1.2" stroke-dasharray="7,5"/>
<path d="M1150,922 Q1146,930 1153,935 L1188,955 Q1196,958 1202,955 L1238,930 Q1243,924 1240,916 L1232,908 L1198,894 Q1192,892 1186,895 Z" fill="none" stroke="#777" stroke-width="1.2" stroke-dasharray="7,5"/>
<g transform="translate(1002.7,751.2) rotate(30) scale(1)">
<path d="M-7,-2.5 Q-10,-2.5 -10,0 Q-10,2.5 -7,2.5 L6,2.5 Q9,2.5 9,0 Q9,-2.5 6,-2.5 Z" fill="#fff" stroke="#3a3a3a" stroke-width="1.56" stroke-linejoin="round" stroke-linecap="round" />
<ellipse cx="-6.5" cy="-1" rx="2.6" ry="2.6" transform="rotate(0 -6.5 -1)" fill="#fff" stroke="#3a3a3a" stroke-width="1.4300000000000002" />
<polyline points="-3,0 6,0" fill="none" stroke="#555" stroke-width="0.9" stroke-linejoin="round" stroke-linecap="round" />
</g>
<g transform="translate(1020.3,740.8) rotate(30) scale(1)">
<path d="M-7,-2.5 Q-10,-2.5 -10,0 Q-10,2.5 -7,2.5 L6,2.5 Q9,2.5 9,0 Q9,-2.5 6,-2.5 Z" fill="#fff" stroke="#3a3a3a" stroke-width="1.56" stroke-linejoin="round" stroke-linecap="round" />
<ellipse cx="-6.5" cy="-1" rx="2.6" ry="2.6" transform="rotate(0 -6.5 -1)" fill="#fff" stroke="#3a3a3a" stroke-width="1.4300000000000002" />
<polyline points="-3,0 6,0" fill="none" stroke="#555" stroke-width="0.9" stroke-linejoin="round" stroke-linecap="round" />
</g>
<g transform="translate(1060.8,782.3) rotate(30) scale(1)">
<path d="M-7,-2.5 Q-10,-2.5 -10,0 Q-10,2.5 -7,2.5 L6,2.5 Q9,2.5 9,0 Q9,-2.5 6,-2.5 Z" fill="#fff" stroke="#3a3a3a" stroke-width="1.56" stroke-linejoin="round" stroke-linecap="round" />
<ellipse cx="-6.5" cy="-1" rx="2.6" ry="2.6" transform="rotate(0 -6.5 -1)" fill="#fff" stroke="#3a3a3a" stroke-width="1.4300000000000002" />
<polyline points="-3,0 6,0" fill="none" stroke="#555" stroke-width="0.9" stroke-linejoin="round" stroke-linecap="round" />
</g>
<g transform="translate(1077.4,773) rotate(30) scale(1)">
<path d="M-7,-2.5 Q-10,-2.5 -10,0 Q-10,2.5 -7,2.5 L6,2.5 Q9,2.5 9,0 Q9,-2.5 6,-2.5 Z" fill="#fff" stroke="#3a3a3a" stroke-width="1.56" stroke-linejoin="round" stroke-linecap="round" />
<ellipse cx="-6.5" cy="-1" rx="2.6" ry="2.6" transform="rotate(0 -6.5 -1)" fill="#fff" stroke="#3a3a3a" stroke-width="1.4300000000000002" />
<polyline points="-3,0 6,0" fill="none" stroke="#555" stroke-width="0.9" stroke-linejoin="round" stroke-linecap="round" />
</g>
<g transform="translate(1164.7,926.5) rotate(30) scale(1.2)">
<path d="M-7,-2.5 Q-10,-2.5 -10,0 Q-10,2.5 -7,2.5 L6,2.5 Q9,2.5 9,0 Q9,-2.5 6,-2.5 Z" fill="#fff" stroke="#3a3a3a" stroke-width="1.56" stroke-linejoin="round" stroke-linecap="round" />
<ellipse cx="-6.5" cy="-1" rx="2.6" ry="2.6" transform="rotate(0 -6.5 -1)" fill="#fff" stroke="#3a3a3a" stroke-width="1.4300000000000002" />
<polyline points="-3,0 6,0" fill="none" stroke="#555" stroke-width="0.9" stroke-linejoin="round" stroke-linecap="round" />
</g>
<g transform="translate(1196.5,908.8) rotate(30) scale(1.2)">
<path d="M-7,-2.5 Q-10,-2.5 -10,0 Q-10,2.5 -7,2.5 L6,2.5 Q9,2.5 9,0 Q9,-2.5 6,-2.5 Z" fill="#fff" stroke="#3a3a3a" stroke-width="1.56" stroke-linejoin="round" stroke-linecap="round" />
<ellipse cx="-6.5" cy="-1" rx="2.6" ry="2.6" transform="rotate(0 -6.5 -1)" fill="#fff" stroke="#3a3a3a" stroke-width="1.4300000000000002" />
<polyline points="-3,0 6,0" fill="none" stroke="#555" stroke-width="0.9" stroke-linejoin="round" stroke-linecap="round" />
</g>
<g transform="translate(1224.7,925.3) rotate(30) scale(0.8)">
<path d="M-7,-2.5 Q-10,-2.5 -10,0 Q-10,2.5 -7,2.5 L6,2.5 Q9,2.5 9,0 Q9,-2.5 6,-2.5 Z" fill="#fff" stroke="#3a3a3a" stroke-width="1.56" stroke-linejoin="round" stroke-linecap="round" />
<ellipse cx="-6.5" cy="-1" rx="2.6" ry="2.6" transform="rotate(0 -6.5 -1)" fill="#fff" stroke="#3a3a3a" stroke-width="1.4300000000000002" />
<polyline points="-3,0 6,0" fill="none" stroke="#555" stroke-width="0.9" stroke-linejoin="round" stroke-linecap="round" />
</g>
<g transform="translate(1193,943) rotate(30) scale(0.8)">
<path d="M-7,-2.5 Q-10,-2.5 -10,0 Q-10,2.5 -7,2.5 L6,2.5 Q9,2.5 9,0 Q9,-2.5 6,-2.5 Z" fill="#fff" stroke="#3a3a3a" stroke-width="1.56" stroke-linejoin="round" stroke-linecap="round" />
<ellipse cx="-6.5" cy="-1" rx="2.6" ry="2.6" transform="rotate(0 -6.5 -1)" fill="#fff" stroke="#3a3a3a" stroke-width="1.4300000000000002" />
<polyline points="-3,0 6,0" fill="none" stroke="#555" stroke-width="0.9" stroke-linejoin="round" stroke-linecap="round" />
</g>
<polyline points="1029.5,900.5 1198.3,802.6" fill="none" stroke="#555" stroke-width="3.0" stroke-linejoin="round" stroke-linecap="round" />
<polyline points="1029.5,900.5 1198.3,802.6" fill="none" stroke="#aaa" stroke-width="0.9" stroke-linejoin="round" stroke-linecap="round" />
<path d="M1043.3,896.5 L1035.9,865.5 M1052.4,891.3 L1044.8,860.5 M1061.4,886 L1053.7,855.5 M1070.5,880.7 L1062.6,850.5 M1079.6,875.4 L1071.5,845.5 M1088.7,870.1 L1080.5,840.5 M1097.8,864.8 L1089.4,835.4 M1106.9,859.5 L1098.3,830.4 M1116,854.3 L1107.2,825.4 M1125.1,849 L1116.1,820.4 M1134.2,843.7 L1125,815.4" fill="none" stroke="#4a4a4a" stroke-width="3.0" stroke-linejoin="round" stroke-linecap="round" />
<path d="M1043.3,896.5 L1035.9,865.5 M1052.4,891.3 L1044.8,860.5 M1061.4,886 L1053.7,855.5 M1070.5,880.7 L1062.6,850.5 M1079.6,875.4 L1071.5,845.5 M1088.7,870.1 L1080.5,840.5 M1097.8,864.8 L1089.4,835.4 M1106.9,859.5 L1098.3,830.4 M1116,854.3 L1107.2,825.4 M1125.1,849 L1116.1,820.4 M1134.2,843.7 L1125,815.4" fill="none" stroke="#8f8f8f" stroke-width="0.9" stroke-linejoin="round" stroke-linecap="round" />
<path d="M1140.2,840.6 L1147.4,798 M1149.3,836.6 L1156.5,793.7 M1158.4,832.7 L1165.5,789.4 M1167.4,828.8 L1174.6,785 M1176.5,824.9 L1183.6,780.7 M1185.5,821 L1192.7,776.4" fill="none" stroke="#4a4a4a" stroke-width="3.0" stroke-linejoin="round" stroke-linecap="round" />
<path d="M1140.2,840.6 L1147.4,798 M1149.3,836.6 L1156.5,793.7 M1158.4,832.7 L1165.5,789.4 M1167.4,828.8 L1174.6,785 M1176.5,824.9 L1183.6,780.7 M1185.5,821 L1192.7,776.4" fill="none" stroke="#8f8f8f" stroke-width="0.9" stroke-linejoin="round" stroke-linecap="round" />
<path d="M1027,903 L1040,897 L1044,878 M1036,905 L1046,893" fill="none" stroke="#555" stroke-width="2.2" stroke-linejoin="round" stroke-linecap="round" />
<polyline points="1072.5,925.2 1242.8,828.9" fill="none" stroke="#555" stroke-width="3.0" stroke-linejoin="round" stroke-linecap="round" />
<polyline points="1072.5,925.2 1242.8,828.9" fill="none" stroke="#aaa" stroke-width="0.9" stroke-linejoin="round" stroke-linecap="round" />
<path d="M1086,916.4 L1080.5,891.8 M1095.1,911.3 L1089.4,886.6 M1104.2,906.3 L1098.3,881.4 M1113.3,901.2 L1107.2,876.3 M1122.4,896.1 L1116.1,871.1 M1131.5,891 L1125.1,865.9 M1140.6,886 L1134,860.7 M1149.7,880.9 L1142.9,855.5 M1158.8,875.8 L1151.8,850.4 M1167.9,870.7 L1160.7,845.2 M1177,865.6 L1169.6,840" fill="none" stroke="#4a4a4a" stroke-width="3.0" stroke-linejoin="round" stroke-linecap="round" />
<path d="M1086,916.4 L1080.5,891.8 M1095.1,911.3 L1089.4,886.6 M1104.2,906.3 L1098.3,881.4 M1113.3,901.2 L1107.2,876.3 M1122.4,896.1 L1116.1,871.1 M1131.5,891 L1125.1,865.9 M1140.6,886 L1134,860.7 M1149.7,880.9 L1142.9,855.5 M1158.8,875.8 L1151.8,850.4 M1167.9,870.7 L1160.7,845.2 M1177,865.6 L1169.6,840" fill="none" stroke="#8f8f8f" stroke-width="0.9" stroke-linejoin="round" stroke-linecap="round" />
<path d="M1184.6,864.7 L1192.7,827.3 M1193.9,860 L1201.6,822 M1203.2,855.3 L1210.5,816.8 M1212.5,850.5 L1219.4,811.5 M1221.8,845.8 L1228.3,806.3 M1231,841.1 L1237.2,801" fill="none" stroke="#4a4a4a" stroke-width="3.0" stroke-linejoin="round" stroke-linecap="round" />
<path d="M1184.6,864.7 L1192.7,827.3 M1193.9,860 L1201.6,822 M1203.2,855.3 L1210.5,816.8 M1212.5,850.5 L1219.4,811.5 M1221.8,845.8 L1228.3,806.3 M1231,841.1 L1237.2,801" fill="none" stroke="#8f8f8f" stroke-width="0.9" stroke-linejoin="round" stroke-linecap="round" />
<path d="M1070,927 L1083,921 L1086,903 M1079,930 L1089,918" fill="none" stroke="#555" stroke-width="2.2" stroke-linejoin="round" stroke-linecap="round" />
<g transform="translate(992,912) rotate(50) scale(0.9)">
<path d="M-22,-4 Q-24,-9 -18,-9 L-8,-8 L-4,-11 L4,-10 L8,-7 L16,-7 Q22,-6 22,0 L22,5 Q21,9 16,9 L4,9 L0,11 L-6,10 L-12,7 L-19,5 Q-23,3 -22,-4 Z" fill="#efefef" stroke="#3a3a3a" stroke-width="1.9500000000000002" stroke-linejoin="round" stroke-linecap="round" />
<path d="M-18,-2 L18,-1 M-12,4 L14,5 M-8,-8 L-6,8 M4,-9 L5,9 M12,-6 L13,8" fill="none" stroke="#444" stroke-width="1.2" stroke-linejoin="round" stroke-linecap="round" />
<path d="M-3,-2 L2,-2 L2,2 L-3,2 Z M9,1 L13,1 L13,5 L9,5 Z M-13,1 L-10,1 L-10,4 L-13,4 Z" fill="#555" stroke="#3a3a3a" stroke-width="1.1700000000000002" stroke-linejoin="round" stroke-linecap="round" />
<ellipse cx="-18" cy="-5" rx="3.5" ry="3.5" transform="rotate(0 -18 -5)" fill="#fff" stroke="#3a3a3a" stroke-width="1.6900000000000002" />
</g>
<g transform="translate(1039,938) rotate(45) scale(0.8)">
<path d="M-22,-4 Q-24,-9 -18,-9 L-8,-8 L-4,-11 L4,-10 L8,-7 L16,-7 Q22,-6 22,0 L22,5 Q21,9 16,9 L4,9 L0,11 L-6,10 L-12,7 L-19,5 Q-23,3 -22,-4 Z" fill="#efefef" stroke="#3a3a3a" stroke-width="1.9500000000000002" stroke-linejoin="round" stroke-linecap="round" />
<path d="M-18,-2 L18,-1 M-12,4 L14,5 M-8,-8 L-6,8 M4,-9 L5,9 M12,-6 L13,8" fill="none" stroke="#444" stroke-width="1.2" stroke-linejoin="round" stroke-linecap="round" />
<path d="M-3,-2 L2,-2 L2,2 L-3,2 Z M9,1 L13,1 L13,5 L9,5 Z M-13,1 L-10,1 L-10,4 L-13,4 Z" fill="#555" stroke="#3a3a3a" stroke-width="1.1700000000000002" stroke-linejoin="round" stroke-linecap="round" />
<ellipse cx="-18" cy="-5" rx="3.5" ry="3.5" transform="rotate(0 -18 -5)" fill="#fff" stroke="#3a3a3a" stroke-width="1.6900000000000002" />
</g>
<polyline points="552,937 543,931.6 541,880 541,876.2 543.6,876.7 546.2,874.8 548.9,870.9 551.5,867.9 554.1,867.4 556.7,868.3 559.3,867.6 562,864.4 564.6,860.6 567.2,859 569.8,859.6 572.4,859.9 575.1,857.8 577.7,853.9 580.3,851 582.9,850.8 585.5,851.6 588.2,850.7 590.8,847.3 593.4,843.7 596,842.3 598.6,843 601.3,843.1 603.9,840.7 606.5,836.8 609.1,834.2 611.7,834.2 614.4,834.9 617,833.8 619.6,830.2 622.2,826.7 624.8,825.6 627.5,826.3 630.1,826.3 632.7,823.7 635.3,819.8 637.9,817.4 640.6,817.5 643.2,818.2 645.8,816.8 648.4,813.2 651,809.8 653.7,808.9 656.3,809.7 658.9,809.5 661.5,806.6 664.1,802.7 666.8,800.6 669.4,800.9 672,801.5 674.6,799.9 677.2,796.1 679.9,792.9 682.5,792.2 685.1,793.1 687.7,792.6 690.3,789.6 693,785.7 695.6,783.8 698.2,784.3 700,784 700.4,839.7 706,844 713.7,845.2" fill="none" stroke="#444" stroke-width="3.0" stroke-linejoin="round" stroke-linecap="round" />
<polyline points="552,937 543,931.6 541,880 541,876.2 543.6,876.7 546.2,874.8 548.9,870.9 551.5,867.9 554.1,867.4 556.7,868.3 559.3,867.6 562,864.4 564.6,860.6 567.2,859 569.8,859.6 572.4,859.9 575.1,857.8 577.7,853.9 580.3,851 582.9,850.8 585.5,851.6 588.2,850.7 590.8,847.3 593.4,843.7 596,842.3 598.6,843 601.3,843.1 603.9,840.7 606.5,836.8 609.1,834.2 611.7,834.2 614.4,834.9 617,833.8 619.6,830.2 622.2,826.7 624.8,825.6 627.5,826.3 630.1,826.3 632.7,823.7 635.3,819.8 637.9,817.4 640.6,817.5 643.2,818.2 645.8,816.8 648.4,813.2 651,809.8 653.7,808.9 656.3,809.7 658.9,809.5 661.5,806.6 664.1,802.7 666.8,800.6 669.4,800.9 672,801.5 674.6,799.9 677.2,796.1 679.9,792.9 682.5,792.2 685.1,793.1 687.7,792.6 690.3,789.6 693,785.7 695.6,783.8 698.2,784.3 700,784 700.4,839.7 706,844 713.7,845.2" fill="none" stroke="#fff" stroke-width="1.0" stroke-linejoin="round" stroke-linecap="round" />
<polyline points="538,882 545,880" fill="none" stroke="#444" stroke-width="2" stroke-linejoin="round" stroke-linecap="round" />
<path d="M738,812 L742,808 L786,836 L790,834 L794,842 L793,852 L788,856 L778,850 L770,845 L742,826 Z" fill="#fff" stroke="#3a3a3a" stroke-width="1.8199999999999998" stroke-linejoin="round" stroke-linecap="round" />
<path d="M744,818 L786,843 M760,826 L764,820 L770,824 M782,838 L786,830 L792,836" fill="none" stroke="#3a3a3a" stroke-width="1.56" stroke-linejoin="round" stroke-linecap="round" />
<path d="M499,948 L503,944 L542,968 L548,968 L552,980 L550,990 L544,992 L536,986 L520,972 L500,962 Z" fill="#fff" stroke="#3a3a3a" stroke-width="1.8199999999999998" stroke-linejoin="round" stroke-linecap="round" />
<path d="M504,954 L540,976 M534,972 L538,964 L546,970 M536,988 L542,980" fill="none" stroke="#3a3a3a" stroke-width="1.56" stroke-linejoin="round" stroke-linecap="round" />
<polygon points="561.8,956.6 575.8,948.6 576.8,943.6 581.8,940.6 583.8,944.6 583.8,948.6 589.8,940.5 603.8,932.5 604.8,927.5 609.8,924.5 611.8,928.5 611.8,932.5 617.8,924.4 631.7,916.4 632.7,911.4 637.7,908.4 639.7,912.4 639.7,916.4 645.7,908.3 659.7,900.2 660.7,895.2 665.7,892.2 667.7,896.2 667.7,900.2 673.7,892.2 673.7,892.2 705.9,907.4 705.9,907.4 703,909.1 700.2,910.7 696,909.9 694.4,914 691.6,915.7 688.7,917.3 685.8,919 683,920.7 678.9,919.8 677.2,924 674.4,925.6 671.5,927.3 668.6,928.9 665.8,930.6 661.6,929.8 660,933.9 657.2,935.6 654.3,937.2 651.4,938.9 648.6,940.5 644.5,939.7 642.8,943.9 640,945.5 637.1,947.2 634.2,948.8 631.4,950.5 627.2,949.6 625.6,953.8 622.8,955.5 619.9,957.1 617,958.8 614.2,960.4 610,959.6 608.4,963.7 605.6,965.4 602.7,967.1 599.8,968.7 597,970.4 592.9,969.5 591.2,973.7 588.4,975.3 585.5,977 585.5,977" fill="#fff" stroke="#555" stroke-width="1.2" stroke-linejoin="round" />
<polygon points="561.8,953.6 575.8,945.6 576.8,940.6 581.8,937.6 583.8,941.6 583.8,945.6 589.8,937.5 603.8,929.5 604.8,924.5 609.8,921.5 611.8,925.5 611.8,929.5 617.8,921.4 631.7,913.4 632.7,908.4 637.7,905.4 639.7,909.4 639.7,913.4 645.7,905.3 659.7,897.2 660.7,892.2 665.7,889.2 667.7,893.2 667.7,897.2 673.7,889.2 673.7,889.2 705.9,904.4 705.9,904.4 703,906.1 700.2,907.7 696,906.9 694.4,911 691.6,912.7 688.7,914.3 685.8,916 683,917.7 678.9,916.8 677.2,921 674.4,922.6 671.5,924.3 668.6,925.9 665.8,927.6 661.6,926.8 660,930.9 657.2,932.6 654.3,934.2 651.4,935.9 648.6,937.5 644.5,936.7 642.8,940.9 640,942.5 637.1,944.2 634.2,945.8 631.4,947.5 627.2,946.6 625.6,950.8 622.8,952.5 619.9,954.1 617,955.8 614.2,957.4 610,956.6 608.4,960.7 605.6,962.4 602.7,964.1 599.8,965.7 597,967.4 592.9,966.5 591.2,970.7 588.4,972.3 585.5,974 585.5,974" fill="#fff" stroke="#3a3a3a" stroke-width="1.9500000000000002" stroke-linejoin="round" />
<path d="M569,953.5 L587.2,968.9 M573.3,951 L591.8,966.2 M577.7,948.5 L596.4,963.6 M582,946 L601,960.9 M586.4,943.5 L605.6,958.3 M590.7,941 L610.2,955.6 M595,938.5 L614.8,953 M599.4,936 L619.4,950.3 M603.7,933.5 L624,947.7 M608.1,931 L628.6,945 M612.4,928.5 L633.2,942.4 M616.8,926 L637.8,939.7 M621.1,923.5 L642.3,937.1 M625.4,921 L646.9,934.4 M629.8,918.5 L651.5,931.8 M634.1,916 L656.1,929.1 M638.5,913.5 L660.7,926.5 M642.8,911 L665.3,923.8 M647.2,908.5 L669.9,921.1 M651.5,906 L674.5,918.5 M655.8,903.5 L679.1,915.8 M660.2,901 L683.7,913.2 M664.5,898.5 L688.3,910.5 M668.9,896 L692.9,907.9 M673.2,893.5 L697.4,905.2" fill="none" stroke="#666" stroke-width="1.3" stroke-linejoin="round" stroke-linecap="round" />
<polyline points="568.9,959.7 683.4,893.8" fill="none" stroke="#777" stroke-width="1.0" stroke-linejoin="round" stroke-linecap="round" />
<polyline points="577.2,966.9 694.6,899.1" fill="none" stroke="#777" stroke-width="1.0" stroke-linejoin="round" stroke-linecap="round" />
<polygon points="689,882 703.4,874.4 704.4,869.4 709.4,866.4 711.4,870.4 711.4,874.4 717.8,866.8 732.2,859.1 733.2,854.1 738.2,851.1 740.2,855.1 740.2,859.1 746.6,851.5 746.6,851.5 773.7,868.4 773.7,868.4 771.2,869.9 768.6,871.4 764.8,870.4 763.5,874.3 761,875.8 758.5,877.3 755.9,878.8 753.4,880.3 749.6,879.2 748.3,883.2 745.7,884.7 743.2,886.2 740.7,887.7 738.1,889.2 734.3,888.1 733,892.1 730.5,893.6 728,895.1 725.4,896.6 722.9,898.1 719.1,897 717.8,901 715.2,902.5 712.7,904 712.7,904" fill="#fff" stroke="#555" stroke-width="1.2" stroke-linejoin="round" />
<polygon points="689,879 703.4,871.4 704.4,866.4 709.4,863.4 711.4,867.4 711.4,871.4 717.8,863.8 732.2,856.1 733.2,851.1 738.2,848.1 740.2,852.1 740.2,856.1 746.6,848.5 746.6,848.5 773.7,865.4 773.7,865.4 771.2,866.9 768.6,868.4 764.8,867.4 763.5,871.3 761,872.8 758.5,874.3 755.9,875.8 753.4,877.3 749.6,876.2 748.3,880.2 745.7,881.7 743.2,883.2 740.7,884.7 738.1,886.2 734.3,885.1 733,889.1 730.5,890.6 728,892.1 725.4,893.6 722.9,895.1 719.1,894 717.8,898 715.2,899.5 712.7,901 712.7,901" fill="#fff" stroke="#3a3a3a" stroke-width="1.9500000000000002" stroke-linejoin="round" />
<path d="M696,879.4 L714.2,895.9 M700.1,877.2 L718.5,893.4 M704.3,875 L722.8,890.9 M708.4,872.8 L727.2,888.4 M712.6,870.5 L731.5,885.9 M716.7,868.3 L735.8,883.4 M720.8,866.1 L740.2,880.9 M725,863.9 L744.5,878.4 M729.1,861.6 L748.8,875.9 M733.3,859.4 L753.1,873.4 M737.4,857.2 L757.5,870.9 M741.6,855 L761.8,868.4 M745.7,852.8 L766.1,865.9" fill="none" stroke="#666" stroke-width="1.3" stroke-linejoin="round" stroke-linecap="round" />
<polyline points="696.1,885.6 754.7,853.6" fill="none" stroke="#777" stroke-width="1.0" stroke-linejoin="round" stroke-linecap="round" />
<polyline points="704.4,893.3 764.2,859.5" fill="none" stroke="#777" stroke-width="1.0" stroke-linejoin="round" stroke-linecap="round" />
<polyline points="697.2,1018.8 832.2,1085.8" fill="none" stroke="#4a4a4a" stroke-width="3.0" stroke-linejoin="round" stroke-linecap="round" />
<polyline points="697.2,1018.8 832.2,1085.8" fill="none" stroke="#fff" stroke-width="0.9" stroke-linejoin="round" stroke-linecap="round" />
<polyline points="732.4,1001.6 867.4,1068.6" fill="none" stroke="#4a4a4a" stroke-width="3.0" stroke-linejoin="round" stroke-linecap="round" />
<polyline points="732.4,1001.6 867.4,1068.6" fill="none" stroke="#fff" stroke-width="0.9" stroke-linejoin="round" stroke-linecap="round" />
<polyline points="767.6,984.4 902.6,1051.4" fill="none" stroke="#4a4a4a" stroke-width="3.0" stroke-linejoin="round" stroke-linecap="round" />
<polyline points="767.6,984.4 902.6,1051.4" fill="none" stroke="#fff" stroke-width="0.9" stroke-linejoin="round" stroke-linecap="round" />
<polyline points="802.8,967.2 937.8,1034.2" fill="none" stroke="#4a4a4a" stroke-width="3.0" stroke-linejoin="round" stroke-linecap="round" />
<polyline points="802.8,967.2 937.8,1034.2" fill="none" stroke="#fff" stroke-width="0.9" stroke-linejoin="round" stroke-linecap="round" />
<polyline points="689,1049.4 865,963.4" fill="none" stroke="#4a4a4a" stroke-width="3.0" stroke-linejoin="round" stroke-linecap="round" />
<polyline points="689,1049.4 865,963.4" fill="none" stroke="#fff" stroke-width="0.9" stroke-linejoin="round" stroke-linecap="round" />
<polyline points="716,1062.8 892,976.8" fill="none" stroke="#4a4a4a" stroke-width="3.0" stroke-linejoin="round" stroke-linecap="round" />
<polyline points="716,1062.8 892,976.8" fill="none" stroke="#fff" stroke-width="0.9" stroke-linejoin="round" stroke-linecap="round" />
<polyline points="743,1076.2 919,990.2" fill="none" stroke="#4a4a4a" stroke-width="3.0" stroke-linejoin="round" stroke-linecap="round" />
<polyline points="743,1076.2 919,990.2" fill="none" stroke="#fff" stroke-width="0.9" stroke-linejoin="round" stroke-linecap="round" />
<polyline points="770,1089.6 946,1003.6" fill="none" stroke="#4a4a4a" stroke-width="3.0" stroke-linejoin="round" stroke-linecap="round" />
<polyline points="770,1089.6 946,1003.6" fill="none" stroke="#fff" stroke-width="0.9" stroke-linejoin="round" stroke-linecap="round" />
<polyline points="706.8,1018.5 710.3,1022.2 714.1,1025.3 718.4,1027.4 723.1,1028.6 728.2,1029.1 733.2,1029.7 738,1030.8 742.3,1032.9 746.1,1036 749.5,1039.7 753,1043.4 756.8,1046.5 761.1,1048.6 765.9,1049.8 770.9,1050.3 776,1050.9 780.7,1052 785,1054.1 788.8,1057.2 792.3,1060.9 795.8,1064.6 799.6,1067.7 803.9,1069.9 808.6,1071 813.7,1071.5 818.7,1072.1 823.5,1073.2 827.8,1075.4 831.6,1078.4 835,1082.2" fill="none" stroke="#4a4a4a" stroke-width="2.6" stroke-linejoin="round" stroke-linecap="round" />
<polyline points="706.8,1018.5 710.3,1022.2 714.1,1025.3 718.4,1027.4 723.1,1028.6 728.2,1029.1 733.2,1029.7 738,1030.8 742.3,1032.9 746.1,1036 749.5,1039.7 753,1043.4 756.8,1046.5 761.1,1048.6 765.9,1049.8 770.9,1050.3 776,1050.9 780.7,1052 785,1054.1 788.8,1057.2 792.3,1060.9 795.8,1064.6 799.6,1067.7 803.9,1069.9 808.6,1071 813.7,1071.5 818.7,1072.1 823.5,1073.2 827.8,1075.4 831.6,1078.4 835,1082.2" fill="none" stroke="#fff" stroke-width="0.8" stroke-linejoin="round" stroke-linecap="round" />
<polyline points="735,1008 738.5,1011.7 742.3,1014.8 746.6,1016.9 751.3,1018.1 756.4,1018.6 761.4,1019.2 766.2,1020.3 770.5,1022.4 774.3,1025.5 777.8,1029.2 781.2,1032.9 785,1036 789.3,1038.1 794.1,1039.3 799.1,1039.8 804.2,1040.4 808.9,1041.5 813.2,1043.6 817,1046.7 820.5,1050.4 824,1054.1 827.8,1057.2 832.1,1059.4 836.8,1060.5 841.9,1061 846.9,1061.6 851.7,1062.7 856,1064.9 859.8,1067.9 863.2,1071.7" fill="none" stroke="#4a4a4a" stroke-width="2.6" stroke-linejoin="round" stroke-linecap="round" />
<polyline points="735,1008 738.5,1011.7 742.3,1014.8 746.6,1016.9 751.3,1018.1 756.4,1018.6 761.4,1019.2 766.2,1020.3 770.5,1022.4 774.3,1025.5 777.8,1029.2 781.2,1032.9 785,1036 789.3,1038.1 794.1,1039.3 799.1,1039.8 804.2,1040.4 808.9,1041.5 813.2,1043.6 817,1046.7 820.5,1050.4 824,1054.1 827.8,1057.2 832.1,1059.4 836.8,1060.5 841.9,1061 846.9,1061.6 851.7,1062.7 856,1064.9 859.8,1067.9 863.2,1071.7" fill="none" stroke="#fff" stroke-width="0.8" stroke-linejoin="round" stroke-linecap="round" />
<polyline points="776,980 779.5,983.7 783.3,986.8 787.6,988.9 792.3,990.1 797.4,990.6 802.4,991.2 807.2,992.3 811.5,994.4 815.3,997.5 818.8,1001.2 822.2,1004.9 826,1008 830.3,1010.1 835.1,1011.3 840.1,1011.8 845.2,1012.4 849.9,1013.5 854.2,1015.6 858,1018.7 861.5,1022.4 865,1026.1 868.8,1029.2 873.1,1031.4 877.8,1032.5 882.9,1033 887.9,1033.6 892.7,1034.7 897,1036.9 900.8,1039.9 904.2,1043.7" fill="none" stroke="#4a4a4a" stroke-width="2.6" stroke-linejoin="round" stroke-linecap="round" />
<polyline points="776,980 779.5,983.7 783.3,986.8 787.6,988.9 792.3,990.1 797.4,990.6 802.4,991.2 807.2,992.3 811.5,994.4 815.3,997.5 818.8,1001.2 822.2,1004.9 826,1008 830.3,1010.1 835.1,1011.3 840.1,1011.8 845.2,1012.4 849.9,1013.5 854.2,1015.6 858,1018.7 861.5,1022.4 865,1026.1 868.8,1029.2 873.1,1031.4 877.8,1032.5 882.9,1033 887.9,1033.6 892.7,1034.7 897,1036.9 900.8,1039.9 904.2,1043.7" fill="none" stroke="#fff" stroke-width="0.8" stroke-linejoin="round" stroke-linecap="round" />
<polyline points="804,967 807.5,970.7 811.3,973.8 815.6,975.9 820.3,977.1 825.4,977.6 830.4,978.2 835.2,979.3 839.5,981.4 843.3,984.5 846.8,988.2 850.2,991.9 854,995 858.3,997.1 863.1,998.3 868.1,998.8 873.2,999.4 877.9,1000.5 882.2,1002.6 886,1005.7 889.5,1009.4 893,1013.1 896.8,1016.2 901.1,1018.4 905.8,1019.5 910.9,1020 915.9,1020.6 920.7,1021.7 925,1023.9 928.8,1026.9 932.2,1030.7" fill="none" stroke="#4a4a4a" stroke-width="2.6" stroke-linejoin="round" stroke-linecap="round" />
<polyline points="804,967 807.5,970.7 811.3,973.8 815.6,975.9 820.3,977.1 825.4,977.6 830.4,978.2 835.2,979.3 839.5,981.4 843.3,984.5 846.8,988.2 850.2,991.9 854,995 858.3,997.1 863.1,998.3 868.1,998.8 873.2,999.4 877.9,1000.5 882.2,1002.6 886,1005.7 889.5,1009.4 893,1013.1 896.8,1016.2 901.1,1018.4 905.8,1019.5 910.9,1020 915.9,1020.6 920.7,1021.7 925,1023.9 928.8,1026.9 932.2,1030.7" fill="none" stroke="#fff" stroke-width="0.8" stroke-linejoin="round" stroke-linecap="round" />
<polyline points="646.6,987.8 824.6,885.4 838.7,890.5" fill="none" stroke="#4a4a4a" stroke-width="3.0" stroke-linejoin="round" stroke-linecap="round" />
<polyline points="646.6,987.8 824.6,885.4 838.7,890.5" fill="none" stroke="#fff" stroke-width="1.0" stroke-linejoin="round" stroke-linecap="round" />
<polyline points="649,997 700,968 712,966 760,940 768,934 828,900" fill="none" stroke="#4a4a4a" stroke-width="3.0" stroke-linejoin="round" stroke-linecap="round" />
<polyline points="649,997 700,968 712,966 760,940 768,934 828,900" fill="none" stroke="#fff" stroke-width="1.0" stroke-linejoin="round" stroke-linecap="round" />
<polyline points="651,1003 700,975 712,973 760,947 768,941 828,907" fill="none" stroke="#4a4a4a" stroke-width="2.4" stroke-linejoin="round" stroke-linecap="round" />
<polyline points="651,1003 700,975 712,973 760,947 768,941 828,907" fill="none" stroke="#fff" stroke-width="0.7" stroke-linejoin="round" stroke-linecap="round" />
<polyline points="655.6,1013.4 700,990 740,972 760,962 824.6,926.3" fill="none" stroke="#4a4a4a" stroke-width="3.0" stroke-linejoin="round" stroke-linecap="round" />
<polyline points="655.6,1013.4 700,990 740,972 760,962 824.6,926.3" fill="none" stroke="#fff" stroke-width="1.0" stroke-linejoin="round" stroke-linecap="round" />
<polyline points="668.4,975.3 668.4,1034" fill="none" stroke="#4a4a4a" stroke-width="2.6" stroke-linejoin="round" stroke-linecap="round" />
<polyline points="668.4,975.3 668.4,1034" fill="none" stroke="#fff" stroke-width="0.8" stroke-linejoin="round" stroke-linecap="round" />
<polyline points="706.8,953.2 706.8,1018.5" fill="none" stroke="#4a4a4a" stroke-width="2.6" stroke-linejoin="round" stroke-linecap="round" />
<polyline points="706.8,953.2 706.8,1018.5" fill="none" stroke="#fff" stroke-width="0.8" stroke-linejoin="round" stroke-linecap="round" />
<polyline points="735,936.9 735,1008" fill="none" stroke="#4a4a4a" stroke-width="2.6" stroke-linejoin="round" stroke-linecap="round" />
<polyline points="735,936.9 735,1008" fill="none" stroke="#fff" stroke-width="0.8" stroke-linejoin="round" stroke-linecap="round" />
<polyline points="776,913.4 776,980" fill="none" stroke="#4a4a4a" stroke-width="2.6" stroke-linejoin="round" stroke-linecap="round" />
<polyline points="776,913.4 776,980" fill="none" stroke="#fff" stroke-width="0.8" stroke-linejoin="round" stroke-linecap="round" />
<polyline points="804,897.3 804,967" fill="none" stroke="#4a4a4a" stroke-width="2.6" stroke-linejoin="round" stroke-linecap="round" />
<polyline points="804,897.3 804,967" fill="none" stroke="#fff" stroke-width="0.8" stroke-linejoin="round" stroke-linecap="round" />
<polyline points="838.7,890.5 838.7,950" fill="none" stroke="#4a4a4a" stroke-width="2.6" stroke-linejoin="round" stroke-linecap="round" />
<polyline points="838.7,890.5 838.7,950" fill="none" stroke="#fff" stroke-width="1.0" stroke-linejoin="round" stroke-linecap="round" />
<polyline points="831,893 831,955" fill="none" stroke="#4a4a4a" stroke-width="2.4" stroke-linejoin="round" stroke-linecap="round" />
<polyline points="831,893 831,955" fill="none" stroke="#fff" stroke-width="1.0" stroke-linejoin="round" stroke-linecap="round" />
<polyline points="838.7,908.4 973.1,987.8" fill="none" stroke="#4a4a4a" stroke-width="3.0" stroke-linejoin="round" stroke-linecap="round" />
<polyline points="838.7,908.4 973.1,987.8" fill="none" stroke="#fff" stroke-width="1.0" stroke-linejoin="round" stroke-linecap="round" />
<polyline points="838,940 973,1017" fill="none" stroke="#4a4a4a" stroke-width="2.4" stroke-linejoin="round" stroke-linecap="round" />
<polyline points="838,940 973,1017" fill="none" stroke="#fff" stroke-width="0.7" stroke-linejoin="round" stroke-linecap="round" />
<polyline points="850.2,915.2 850.2,941.1 846.2,948.1 850.2,956.1" fill="none" stroke="#4a4a4a" stroke-width="2.6" stroke-linejoin="round" stroke-linecap="round" />
<polyline points="850.2,915.2 850.2,941.1 846.2,948.1 850.2,956.1" fill="none" stroke="#fff" stroke-width="0.8" stroke-linejoin="round" stroke-linecap="round" />
<polyline points="869.4,926.5 869.4,950.6 865.4,957.6 869.4,965.6" fill="none" stroke="#4a4a4a" stroke-width="2.6" stroke-linejoin="round" stroke-linecap="round" />
<polyline points="869.4,926.5 869.4,950.6 865.4,957.6 869.4,965.6" fill="none" stroke="#fff" stroke-width="0.8" stroke-linejoin="round" stroke-linecap="round" />
<polyline points="898.9,944 898.9,965.2 894.9,972.2 898.9,980.2" fill="none" stroke="#4a4a4a" stroke-width="2.6" stroke-linejoin="round" stroke-linecap="round" />
<polyline points="898.9,944 898.9,965.2 894.9,972.2 898.9,980.2" fill="none" stroke="#fff" stroke-width="0.8" stroke-linejoin="round" stroke-linecap="round" />
<polyline points="928.3,961.3 928.3,979.8 924.3,986.8 928.3,994.8" fill="none" stroke="#4a4a4a" stroke-width="2.6" stroke-linejoin="round" stroke-linecap="round" />
<polyline points="928.3,961.3 928.3,979.8 924.3,986.8 928.3,994.8" fill="none" stroke="#fff" stroke-width="0.8" stroke-linejoin="round" stroke-linecap="round" />
<polyline points="937.3,966.7 937.3,984.3 933.3,991.3 937.3,999.3" fill="none" stroke="#4a4a4a" stroke-width="2.6" stroke-linejoin="round" stroke-linecap="round" />
<polyline points="937.3,966.7 937.3,984.3 933.3,991.3 937.3,999.3" fill="none" stroke="#fff" stroke-width="0.8" stroke-linejoin="round" stroke-linecap="round" />
<polyline points="973.1,987.8 975,1023" fill="none" stroke="#4a4a4a" stroke-width="2.6" stroke-linejoin="round" stroke-linecap="round" />
<polyline points="973.1,987.8 975,1023" fill="none" stroke="#fff" stroke-width="1.0" stroke-linejoin="round" stroke-linecap="round" />
<polyline points="968,985 969,1020" fill="none" stroke="#4a4a4a" stroke-width="2.4" stroke-linejoin="round" stroke-linecap="round" />
<polyline points="968,985 969,1020" fill="none" stroke="#fff" stroke-width="1.0" stroke-linejoin="round" stroke-linecap="round" />
<polyline points="646.6,1016 794,1095.4 805,1100 842.5,1103 991,1021 989,1012 975,1004" fill="none" stroke="#4a4a4a" stroke-width="2.8" stroke-linejoin="round" stroke-linecap="round" />
<polyline points="646.6,1016 794,1095.4 805,1100 842.5,1103 991,1021 989,1012 975,1004" fill="none" stroke="#fff" stroke-width="0.9" stroke-linejoin="round" stroke-linecap="round" />
<polyline points="646.6,1021 794,1100.4 805,1105 842.5,1108 991,1026 989,1017 975,1009" fill="none" stroke="#4a4a4a" stroke-width="2.8" stroke-linejoin="round" stroke-linecap="round" />
<polyline points="646.6,1021 794,1100.4 805,1105 842.5,1108 991,1026 989,1017 975,1009" fill="none" stroke="#fff" stroke-width="0.9" stroke-linejoin="round" stroke-linecap="round" />
<polyline points="646.6,1030 794,1109.4 805,1114 842.5,1117 991,1035" fill="none" stroke="#4a4a4a" stroke-width="2.6" stroke-linejoin="round" stroke-linecap="round" />
<polyline points="646.6,1030 794,1109.4 805,1114 842.5,1117 991,1035" fill="none" stroke="#fff" stroke-width="0.8" stroke-linejoin="round" stroke-linecap="round" />
<polyline points="656,1041 812,1127" fill="none" stroke="#4a4a4a" stroke-width="2.6" stroke-linejoin="round" stroke-linecap="round" />
<polyline points="656,1041 812,1127" fill="none" stroke="#fff" stroke-width="0.8" stroke-linejoin="round" stroke-linecap="round" />
<polyline points="658,1047 812,1133" fill="none" stroke="#4a4a4a" stroke-width="2.2" stroke-linejoin="round" stroke-linecap="round" />
<polyline points="658,1047 812,1133" fill="none" stroke="#fff" stroke-width="0.6" stroke-linejoin="round" stroke-linecap="round" />
<polyline points="668.5,1027.8 668.5,1051.9" fill="none" stroke="#4a4a4a" stroke-width="2.4" stroke-linejoin="round" stroke-linecap="round" />
<polyline points="668.5,1027.8 668.5,1051.9" fill="none" stroke="#fff" stroke-width="0.7" stroke-linejoin="round" stroke-linecap="round" />
<polyline points="691,1039.9 691,1064.3" fill="none" stroke="#4a4a4a" stroke-width="2.4" stroke-linejoin="round" stroke-linecap="round" />
<polyline points="691,1039.9 691,1064.3" fill="none" stroke="#fff" stroke-width="0.7" stroke-linejoin="round" stroke-linecap="round" />
<polyline points="719,1055 719,1079.7" fill="none" stroke="#4a4a4a" stroke-width="2.4" stroke-linejoin="round" stroke-linecap="round" />
<polyline points="719,1055 719,1079.7" fill="none" stroke="#fff" stroke-width="0.7" stroke-linejoin="round" stroke-linecap="round" />
<polyline points="749,1071.2 749,1096.3" fill="none" stroke="#4a4a4a" stroke-width="2.4" stroke-linejoin="round" stroke-linecap="round" />
<polyline points="749,1071.2 749,1096.3" fill="none" stroke="#fff" stroke-width="0.7" stroke-linejoin="round" stroke-linecap="round" />
<polyline points="758,1076 758,1101.2" fill="none" stroke="#4a4a4a" stroke-width="2.4" stroke-linejoin="round" stroke-linecap="round" />
<polyline points="758,1076 758,1101.2" fill="none" stroke="#fff" stroke-width="0.7" stroke-linejoin="round" stroke-linecap="round" />
<polyline points="793,1094.9 793,1120.5" fill="none" stroke="#4a4a4a" stroke-width="2.4" stroke-linejoin="round" stroke-linecap="round" />
<polyline points="793,1094.9 793,1120.5" fill="none" stroke="#fff" stroke-width="0.7" stroke-linejoin="round" stroke-linecap="round" />
<polyline points="808,1095.4 808,1128.8" fill="none" stroke="#4a4a4a" stroke-width="2.4" stroke-linejoin="round" stroke-linecap="round" />
<polyline points="808,1095.4 808,1128.8" fill="none" stroke="#fff" stroke-width="0.7" stroke-linejoin="round" stroke-linecap="round" />
<polyline points="659,1054 659,1060 655,1064" fill="none" stroke="#4a4a4a" stroke-width="2.4" stroke-linejoin="round" stroke-linecap="round" />
<polyline points="659,1054 659,1060 655,1064" fill="none" stroke="#fff" stroke-width="0.7" stroke-linejoin="round" stroke-linecap="round" />
<polyline points="694,1072 694,1078 690,1082" fill="none" stroke="#4a4a4a" stroke-width="2.4" stroke-linejoin="round" stroke-linecap="round" />
<polyline points="694,1072 694,1078 690,1082" fill="none" stroke="#fff" stroke-width="0.7" stroke-linejoin="round" stroke-linecap="round" />
<polyline points="762,1110 762,1116 758,1120" fill="none" stroke="#4a4a4a" stroke-width="2.4" stroke-linejoin="round" stroke-linecap="round" />
<polyline points="762,1110 762,1116 758,1120" fill="none" stroke="#fff" stroke-width="0.7" stroke-linejoin="round" stroke-linecap="round" />
<polyline points="797,1127 797,1133 793,1137" fill="none" stroke="#4a4a4a" stroke-width="2.4" stroke-linejoin="round" stroke-linecap="round" />
<polyline points="797,1127 797,1133 793,1137" fill="none" stroke="#fff" stroke-width="0.7" stroke-linejoin="round" stroke-linecap="round" />
<polyline points="856.1,1095.5 856.1,1121.9 859.1,1129.9 868.1,1125.9 868.1,1090.5" fill="none" stroke="#4a4a4a" stroke-width="2.4" stroke-linejoin="round" stroke-linecap="round" />
<polyline points="856.1,1095.5 856.1,1121.9 859.1,1129.9 868.1,1125.9 868.1,1090.5" fill="none" stroke="#fff" stroke-width="0.7" stroke-linejoin="round" stroke-linecap="round" />
<polyline points="878.3,1083.2 878.3,1109.1 881.3,1117.1 890.3,1113.1 890.3,1078.2" fill="none" stroke="#4a4a4a" stroke-width="2.4" stroke-linejoin="round" stroke-linecap="round" />
<polyline points="878.3,1083.2 878.3,1109.1 881.3,1117.1 890.3,1113.1 890.3,1078.2" fill="none" stroke="#fff" stroke-width="0.7" stroke-linejoin="round" stroke-linecap="round" />
<polyline points="900.5,1071 900.5,1096.3 903.5,1104.3 912.5,1100.3 912.5,1066" fill="none" stroke="#4a4a4a" stroke-width="2.4" stroke-linejoin="round" stroke-linecap="round" />
<polyline points="900.5,1071 900.5,1096.3 903.5,1104.3 912.5,1100.3 912.5,1066" fill="none" stroke="#fff" stroke-width="0.7" stroke-linejoin="round" stroke-linecap="round" />
<polyline points="922.8,1058.7 922.8,1083.5 925.8,1091.5 934.8,1087.5 934.8,1053.7" fill="none" stroke="#4a4a4a" stroke-width="2.4" stroke-linejoin="round" stroke-linecap="round" />
<polyline points="922.8,1058.7 922.8,1083.5 925.8,1091.5 934.8,1087.5 934.8,1053.7" fill="none" stroke="#fff" stroke-width="0.7" stroke-linejoin="round" stroke-linecap="round" />
<polyline points="945,1046.4 945,1070.7 948,1078.7 957,1074.7 957,1041.4" fill="none" stroke="#4a4a4a" stroke-width="2.4" stroke-linejoin="round" stroke-linecap="round" />
<polyline points="945,1046.4 945,1070.7 948,1078.7 957,1074.7 957,1041.4" fill="none" stroke="#fff" stroke-width="0.7" stroke-linejoin="round" stroke-linecap="round" />
<polyline points="967.2,1034.1 967.2,1057.9 970.2,1065.9 979.2,1061.9 979.2,1029.1" fill="none" stroke="#4a4a4a" stroke-width="2.4" stroke-linejoin="round" stroke-linecap="round" />
<polyline points="967.2,1034.1 967.2,1057.9 970.2,1065.9 979.2,1061.9 979.2,1029.1" fill="none" stroke="#fff" stroke-width="0.7" stroke-linejoin="round" stroke-linecap="round" />
<ellipse cx="629.2" cy="1077.8" rx="7.5" ry="8.5" transform="rotate(-30 629.2 1077.8)" fill="#9a9a9a" stroke="#3a3a3a" stroke-width="2.08" />
<ellipse cx="627.2" cy="1079.3" rx="3.5" ry="4.5" transform="rotate(-30 627.2 1079.3)" fill="#555" stroke="#444" stroke-width="1.0" />
<ellipse cx="664" cy="1098.2" rx="7.5" ry="8.5" transform="rotate(-30 664 1098.2)" fill="#9a9a9a" stroke="#3a3a3a" stroke-width="2.08" />
<ellipse cx="662" cy="1099.7" rx="3.5" ry="4.5" transform="rotate(-30 662 1099.7)" fill="#555" stroke="#444" stroke-width="1.0" />
<ellipse cx="731" cy="1136" rx="7.5" ry="8.5" transform="rotate(-30 731 1136)" fill="#9a9a9a" stroke="#3a3a3a" stroke-width="2.08" />
<ellipse cx="729" cy="1137.5" rx="3.5" ry="4.5" transform="rotate(-30 729 1137.5)" fill="#555" stroke="#444" stroke-width="1.0" />
<ellipse cx="765.9" cy="1156.3" rx="7.5" ry="8.5" transform="rotate(-30 765.9 1156.3)" fill="#9a9a9a" stroke="#3a3a3a" stroke-width="2.08" />
<ellipse cx="763.9" cy="1157.8" rx="3.5" ry="4.5" transform="rotate(-30 763.9 1157.8)" fill="#555" stroke="#444" stroke-width="1.0" />
<path d="M637.3,1074.6 L645.3,1066.6 M640.3,1067.6 L646.3,1072.6" fill="none" stroke="#3a3a3a" stroke-width="3.12" stroke-linejoin="round" stroke-linecap="round" />
<path d="M672.2,1095 L680.2,1087 M675.2,1088 L681.2,1093" fill="none" stroke="#3a3a3a" stroke-width="3.12" stroke-linejoin="round" stroke-linecap="round" />
<path d="M739,1132.7 L747,1124.7 M742,1125.7 L748,1130.7" fill="none" stroke="#3a3a3a" stroke-width="3.12" stroke-linejoin="round" stroke-linecap="round" />
<path d="M775.4,1153 L783.4,1145 M778.4,1146 L784.4,1151" fill="none" stroke="#3a3a3a" stroke-width="3.12" stroke-linejoin="round" stroke-linecap="round" />
<path d="M930.4,1118.9 L1002,1078 Q1006,1076 1008,1080 L1008,1097 Q1008,1101 1004,1103 L937,1143 Q933,1146 932,1141 Z" fill="#fff" stroke="#3a3a3a" stroke-width="2.08" stroke-linejoin="round" stroke-linecap="round" />
<polyline points="933.2,1136.9 1008,1098" fill="none" stroke="#666" stroke-width="1.0" stroke-linejoin="round" stroke-linecap="round" />
<polyline points="932,1123 1006,1081" fill="none" stroke="#666" stroke-width="0.9" stroke-linejoin="round" stroke-linecap="round" />
<polyline points="955.4,1114.7 984.4,1098.8" fill="none" stroke="#3a3a3a" stroke-width="2.8600000000000003" stroke-linejoin="round" stroke-linecap="round" />
<polyline points="955.4,1119.6 984.4,1103.7" fill="none" stroke="#3a3a3a" stroke-width="2.8600000000000003" stroke-linejoin="round" stroke-linecap="round" />
<text class="l" x="154.2" y="399.3">0601</text>
<text class="l" x="247.3" y="496.1">0602</text>
<text class="l" x="251.5" y="610.7">0603</text>
<text class="l" x="368.7" y="825.3">0604</text>
<text class="l" x="124.4" y="845.9">0605</text>
<text class="l" x="385.2" y="743.9">0606</text>
<text class="l" x="95.4" y="982.4">0611</text>
<text class="l" x="308.6" y="988.6">0610</text>
<text class="l" x="296.2" y="406.9">0650</text>
<text class="l" x="375.1" y="452.3">0650</text>
<text class="l" x="508.3" y="354.2">0643</text>
<text class="l" x="646.9" y="460.8">0644</text>
<text class="l" x="773.5" y="355.6">0647</text>
<text class="l" x="835.5" y="499.9">0646</text>
<text class="l" x="781.1" y="554.5">0645</text>
<text class="l" x="319.6" y="566.4">0640</text>
<text class="l" x="728.2" y="679">0622</text>
<text class="l" x="1097" y="329.5">0672</text>
<text class="l" x="1356" y="473.5">0670</text>
<text class="l" x="1335.2" y="543.2">0671</text>
<text class="l" x="1010.2" y="635.2">0628</text>
<text class="l" x="1023.7" y="673.2">0627</text>
<text class="l" x="904.2" y="734.5">0626</text>
<text class="l" x="1252.2" y="773.4">0624</text>
<text class="l" x="1022.7" y="831.5">0625</text>
<text class="l" x="582.2" y="777.6">0630</text>
<text class="l" x="609.9" y="871.7">0631</text>
<text class="l" x="1022.7" y="983.9">0623</text>
<text class="l" x="592.2" y="1052.9">0620</text>
<text class="l" x="667.7" y="1134.4">0621</text>
<text class="l" x="1022.4" y="1081.4">0622</text>
<ellipse cx="1043.7" cy="977" rx="32.6" ry="22.2" fill="none" stroke="#f40000" stroke-width="3.5"/>
</svg></body></html>
